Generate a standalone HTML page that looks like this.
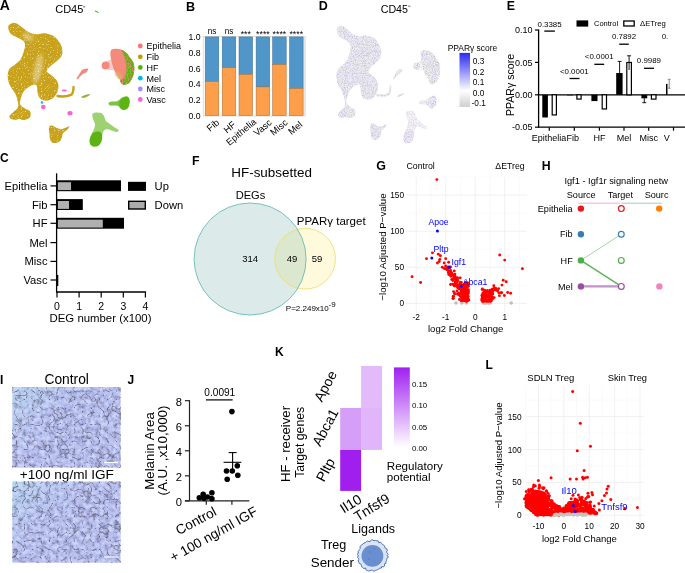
<!DOCTYPE html>
<html><head><meta charset="utf-8"><style>
html,body{margin:0;padding:0;background:#fff;width:685px;height:573px;overflow:hidden}
svg{display:block;font-family:"Liberation Sans", sans-serif;will-change:transform}
</style></head><body>
<svg width="685" height="573" viewBox="0 0 685 573">
<defs>
<filter id="micro" x="0" y="0" width="100%" height="100%" color-interpolation-filters="sRGB">
<feTurbulence type="fractalNoise" baseFrequency="0.22" numOctaves="3" seed="3" result="n1"/>
<feColorMatrix in="n1" type="matrix" values="0 0 0 0 0.80  0 0 0 0 0.84  0 0 0 0 0.98  3.2 0 0 0 -1.4" result="light"/>
<feColorMatrix in="n1" type="matrix" values="0 0 0 0 0.50  0 0 0 0 0.50  0 0 0 0 0.66  -3 0 0 0 1.3" result="darkp"/>
<feTurbulence type="turbulence" baseFrequency="0.12" numOctaves="2" seed="7" result="t"/>
<feColorMatrix in="t" type="matrix" values="0 0 0 0 0.37  0 0 0 0 0.35  0 0 0 0 0.44  -5.5 0 0 0 0.82" result="lines"/>
<feGaussianBlur in="lines" stdDeviation="0.4" result="linesb"/>
<feMerge><feMergeNode in="SourceGraphic"/><feMergeNode in="light"/><feMergeNode in="darkp"/><feMergeNode in="linesb"/></feMerge>
</filter>
<filter id="speck" x="0" y="0" width="100%" height="100%" color-interpolation-filters="sRGB">
<feTurbulence type="fractalNoise" baseFrequency="0.7" numOctaves="2" seed="2" result="n"/>
<feColorMatrix in="n" type="matrix" values="0 0 0 0 1  0 0 0 0 0.97  0 0 0 0 0.85  3 0 0 0 -1.75" result="w"/>
<feComposite in="w" in2="SourceAlpha" operator="in" result="wc"/>
<feMerge><feMergeNode in="SourceGraphic"/><feMergeNode in="wc"/></feMerge>
</filter>
<filter id="soft" x="-50%" y="-50%" width="200%" height="200%"><feGaussianBlur stdDeviation="1.6"/></filter>
<filter id="mix" x="0" y="0" width="100%" height="100%" color-interpolation-filters="sRGB">
<feTurbulence type="fractalNoise" baseFrequency="0.8" numOctaves="2" seed="9" result="n"/>
<feColorMatrix in="n" type="matrix" values="0 0 0 0 0.96  0 0 0 0 0.54  0 0 0 0 0.49  4 0 0 0 -1.9" result="w"/>
<feComposite in="w" in2="SourceAlpha" operator="in" result="wc"/>
<feMerge><feMergeNode in="SourceGraphic"/><feMergeNode in="wc"/></feMerge>
</filter>
<filter id="dspk" x="0" y="0" width="100%" height="100%" color-interpolation-filters="sRGB">
<feTurbulence type="fractalNoise" baseFrequency="0.9" numOctaves="2" seed="4" result="n"/>
<feColorMatrix in="n" type="matrix" values="0 0 0 0 0.80  0 0 0 0 0.80  0 0 0 0 0.82  3 0 0 0 -1.3" result="g"/>
<feColorMatrix in="n" type="matrix" values="0 0 0 0 0.74  0 0 0 0 0.66  0 0 0 0 0.98  0 2.6 0 0 -1.45" result="p"/>
<feComposite in="g" in2="SourceAlpha" operator="in" result="gc"/>
<feComposite in="p" in2="SourceGraphic" operator="in" result="pc"/>
<feMerge><feMergeNode in="SourceGraphic"/><feMergeNode in="gc"/><feMergeNode in="pc"/></feMerge>
</filter>
<linearGradient id="tl" x1="0" y1="0" x2="1" y2="0.75"><stop offset="0" stop-color="#AED4EC"/><stop offset="0.33" stop-color="#B2BEEC"/><stop offset="0.5" stop-color="#B1B8EA"/></linearGradient>
</defs>
<text x="-0.30" y="10.00" font-size="14" text-anchor="start" font-weight="bold" fill="#000" >A</text>
<text x="55.20" y="13.40" font-size="11" text-anchor="start" font-weight="normal" fill="#000" >CD45</text>
<line x1="83.00" y1="6.90" x2="85.20" y2="6.90" stroke="#000" stroke-width="0.6" />
<g filter="url(#speck)">
<path d="M8.6,25.5 C9.5,24.1 12.3,22.5 14.4,22.7 C16.5,22.9 18.7,24.9 21.1,26.5 C23.5,28.1 26.2,31.0 28.8,32.3 C31.4,33.6 33.9,34.1 36.4,34.2 C38.9,34.4 41.2,32.9 44.1,33.2 C47.0,33.5 51.0,34.3 53.7,36.1 C56.4,37.9 59.0,41.4 60.4,43.8 C61.8,46.2 62.1,48.4 62.3,50.5 C62.5,52.6 62.5,54.3 61.4,56.2 C60.3,58.1 57.6,60.2 55.6,62.0 C53.6,63.8 51.0,65.4 49.5,67.0 C48.0,68.6 46.4,70.1 46.8,71.5 C47.2,72.9 50.2,74.0 51.8,75.4 C53.4,76.9 55.5,78.4 56.6,80.2 C57.7,82.0 58.4,84.1 58.5,86.0 C58.6,87.9 58.3,89.8 57.5,91.7 C56.7,93.6 55.1,96.1 53.7,97.5 C52.3,98.9 50.6,99.8 48.9,100.3 C47.1,100.8 44.8,100.8 43.2,100.3 C41.6,99.8 40.3,98.9 39.3,97.5 C38.3,96.1 37.8,93.5 37.4,91.7 C37.0,89.9 37.5,87.7 37.0,86.5 C36.5,85.3 35.9,84.4 34.5,84.5 C33.1,84.6 30.6,85.7 28.8,86.9 C27.0,88.1 24.9,89.6 23.5,91.7 C22.1,93.8 21.1,97.3 20.5,99.4 C19.9,101.5 19.5,103.0 20.2,104.5 C20.9,106.0 23.3,107.4 24.9,108.5 C26.5,109.6 28.7,109.9 29.7,110.9 C30.7,111.9 30.8,113.4 30.7,114.7 C30.6,116.0 30.1,117.7 28.8,118.6 C27.5,119.5 24.6,120.1 23.0,120.1 C21.4,120.1 20.5,118.8 19.2,118.8 C17.9,118.8 16.8,120.1 15.3,120.1 C13.9,120.1 11.4,119.3 10.5,118.6 C9.6,117.9 9.1,116.8 9.6,115.7 C10.1,114.6 12.1,113.1 13.4,111.9 C14.7,110.7 16.5,109.7 17.3,108.5 C18.1,107.3 18.2,106.0 18.2,104.5 C18.2,103.0 17.8,101.2 17.3,99.4 C16.8,97.6 16.3,95.5 15.3,93.6 C14.3,91.7 12.6,89.8 11.5,87.9 C10.4,86.0 9.2,84.3 8.6,82.1 C8.0,79.9 7.5,76.7 7.7,74.5 C7.9,72.3 8.5,70.3 9.6,68.7 C10.7,67.1 12.8,66.2 14.4,64.9 C16.0,63.6 17.9,62.5 19.2,61.0 C20.5,59.5 21.3,58.0 22.1,56.2 C22.9,54.5 23.5,52.3 24.0,50.5 C24.5,48.7 25.1,47.1 25.0,45.5 C24.9,43.9 24.8,42.4 23.5,41.0 C22.2,39.6 19.1,38.4 17.3,37.4 C15.5,36.4 13.8,36.3 12.5,35.3 C11.2,34.3 9.8,32.9 9.2,31.3 C8.5,29.7 7.7,26.9 8.6,25.5 Z" fill="#C9A21C" stroke="none" stroke-width="0" />
<path d="M49.0,127.0 C49.4,125.6 51.0,125.5 52.0,125.5 C53.0,125.5 54.0,126.5 55.0,127.0 C56.0,127.5 56.8,128.2 58.0,128.5 C59.2,128.8 60.7,129.2 62.0,129.0 C63.3,128.8 64.8,128.0 66.0,127.5 C67.2,127.0 69.3,125.9 69.5,126.3 C69.7,126.7 68.1,128.9 67.0,130.0 C65.9,131.1 63.8,131.8 63.0,133.0 C62.2,134.2 62.5,135.7 62.0,137.0 C61.5,138.3 61.0,140.0 60.0,141.0 C59.0,142.0 57.3,142.8 56.0,143.0 C54.7,143.2 53.0,143.2 52.0,142.5 C51.0,141.8 50.4,140.4 50.0,139.0 C49.6,137.6 49.7,136.0 49.5,134.0 C49.3,132.0 48.6,128.4 49.0,127.0 Z" fill="#C9A21C" stroke="none" stroke-width="0" />
</g>
<path d="M57.5,96 C62,96.8 68,96.3 71.5,94.6 C73.3,92.6 73.5,89.5 73.5,87" fill="none" stroke="#C9A21C" stroke-width="2.4" stroke-linecap="round"/>
<path d="M111.1,50.0 C112.0,48.8 114.3,48.9 116.0,48.8 C117.7,48.7 119.5,49.0 121.2,49.6 C122.9,50.2 124.5,51.2 126.0,52.5 C127.5,53.8 128.7,55.8 129.9,57.5 C131.2,59.2 132.8,61.2 133.5,63.0 C134.2,64.8 134.3,66.0 134.3,68.0 C134.3,70.0 134.1,72.6 133.4,74.9 C132.7,77.2 131.3,80.2 129.9,81.9 C128.5,83.6 126.2,84.6 124.7,84.8 C123.2,85.0 122.1,84.0 121.2,83.0 C120.3,82.0 120.3,80.4 119.5,79.0 C118.7,77.6 117.5,76.1 116.5,74.5 C115.5,72.9 114.5,71.4 113.8,69.5 C113.0,67.6 112.5,65.2 112.0,63.0 C111.5,60.8 110.7,58.2 110.5,56.0 C110.3,53.8 110.2,51.2 111.1,50.0 Z" fill="#F48A7C" stroke="none" stroke-width="0" />
<circle cx="105.60" cy="65.60" r="4.00" fill="#F48A7C" stroke="none" stroke-width="0" />
<path d="M106,61.5 L112,59 L114,70 L108,70 Z" fill="#F48A7C" opacity="0.45"/>
<path d="M121.5,50.0 C121.8,49.5 124.6,51.2 126.0,52.5 C127.4,53.8 128.7,55.8 129.9,57.5 C131.2,59.2 132.8,61.2 133.5,63.0 C134.2,64.8 134.3,66.0 134.3,68.0 C134.3,70.0 134.1,72.6 133.4,74.9 C132.7,77.2 131.3,80.2 129.9,81.9 C128.5,83.6 126.2,84.6 124.7,84.8 C123.2,85.0 122.0,83.7 121.2,83.0 C120.5,82.3 119.9,81.2 120.2,80.5 C120.5,79.8 122.1,80.0 123.0,79.0 C123.9,78.0 125.0,76.2 125.5,74.5 C126.0,72.8 126.3,70.6 126.3,68.5 C126.3,66.4 126.0,64.2 125.6,62.0 C125.2,59.8 124.7,57.5 124.0,55.5 C123.3,53.5 121.2,50.5 121.5,50.0 Z" fill="#5CB412" stroke="none" stroke-width="0" filter="url(#mix)"/>
<ellipse cx="118.5" cy="75.5" rx="2.8" ry="4.5" transform="rotate(-40 118.5 75.5)" fill="#D8B860" opacity="0.55"/>
<path d="M124,56 C127,62 127,72 124,79" fill="none" stroke="#E39070" stroke-width="2.5" opacity="0.35"/>
<path d="M92.5,114.0 C93.0,112.9 94.6,112.7 96.0,112.5 C97.4,112.3 99.7,112.4 101.0,113.0 C102.3,113.6 103.2,114.7 104.0,116.0 C104.8,117.3 105.0,119.7 106.0,121.0 C107.0,122.3 108.7,123.0 110.0,124.0 C111.3,125.0 112.6,126.0 114.0,127.0 C115.4,128.0 118.0,129.2 118.5,130.0 C119.0,130.8 117.9,131.8 117.0,132.0 C116.1,132.2 114.3,131.4 113.0,131.0 C111.7,130.6 110.2,129.8 109.0,129.5 C107.8,129.2 106.5,129.1 105.5,129.5 C104.5,129.9 103.6,130.8 103.0,132.0 C102.4,133.2 102.3,135.3 102.0,137.0 C101.7,138.7 101.7,140.5 101.0,142.0 C100.3,143.5 99.3,145.2 98.0,146.0 C96.7,146.8 94.3,146.8 93.0,146.5 C91.7,146.2 90.5,145.2 90.0,144.0 C89.5,142.8 89.5,140.7 89.8,139.0 C90.0,137.3 90.8,135.7 91.5,134.0 C92.2,132.3 93.4,130.7 94.0,129.0 C94.6,127.3 95.2,125.7 95.0,124.0 C94.8,122.3 93.4,120.7 93.0,119.0 C92.6,117.3 92.0,115.1 92.5,114.0 Z" fill="#5CB412" stroke="none" stroke-width="0" opacity="0.6"/>
<path d="M90.5,137.0 C91.1,135.8 91.9,133.9 93.0,133.0 C94.1,132.1 95.7,131.6 97.0,131.5 C98.3,131.4 100.1,131.8 101.0,132.5 C101.9,133.2 102.1,134.6 102.2,136.0 C102.3,137.4 102.1,139.4 101.5,141.0 C100.9,142.6 99.8,144.6 98.5,145.5 C97.2,146.4 95.3,146.7 94.0,146.5 C92.7,146.3 91.2,145.5 90.5,144.5 C89.8,143.5 89.6,141.8 89.6,140.5 C89.6,139.2 89.9,138.2 90.5,137.0 Z" fill="#5CB412" stroke="none" stroke-width="0" />
<path d="M108.5,103.0 C108.8,102.3 110.8,101.8 112.0,101.5 C113.2,101.2 114.8,101.8 116.0,101.5 C117.2,101.2 118.0,100.7 119.0,100.0 C120.0,99.3 120.8,98.1 122.0,97.5 C123.2,96.9 124.8,96.4 126.0,96.5 C127.2,96.6 128.4,96.9 129.0,98.0 C129.6,99.1 129.7,101.3 129.5,103.0 C129.3,104.7 128.9,106.8 128.0,108.0 C127.1,109.2 125.2,109.8 124.0,110.0 C122.8,110.2 122.0,109.7 121.0,109.0 C120.0,108.3 119.2,106.6 118.0,106.0 C116.8,105.4 115.3,105.6 114.0,105.5 C112.7,105.4 110.9,105.9 110.0,105.5 C109.1,105.1 108.2,103.7 108.5,103.0 Z" fill="#5CB412" stroke="none" stroke-width="0" opacity="0.8"/>
<path d="M120.0,101.0 C120.6,99.8 121.9,98.8 123.0,98.0 C124.1,97.2 125.5,96.4 126.5,96.5 C127.5,96.6 128.5,97.4 129.0,98.5 C129.5,99.6 129.7,101.5 129.5,103.0 C129.3,104.5 128.8,106.4 128.0,107.5 C127.2,108.6 125.7,109.6 124.5,109.8 C123.3,110.0 121.8,109.3 121.0,108.5 C120.2,107.7 119.7,106.2 119.5,105.0 C119.3,103.8 119.4,102.2 120.0,101.0 Z" fill="#5CB412" stroke="none" stroke-width="0" />
<path d="M76.5,79.0 C76.5,78.5 77.4,77.0 78.0,76.0 C78.6,75.0 79.4,73.9 80.0,73.0 C80.6,72.1 80.8,71.2 81.5,70.5 C82.2,69.8 83.0,69.3 84.0,69.0 C85.0,68.7 86.8,68.3 87.5,68.5 C88.2,68.7 88.2,69.3 88.0,70.0 C87.8,70.7 86.8,71.8 86.0,72.5 C85.2,73.2 84.0,73.3 83.0,74.0 C82.0,74.7 80.8,75.7 80.0,76.5 C79.2,77.3 78.6,78.6 78.0,79.0 C77.4,79.4 76.5,79.5 76.5,79.0 Z" fill="#F48A7C" stroke="none" stroke-width="0" />
<g filter="url(#soft)"><ellipse cx="38" cy="69" rx="4" ry="15" transform="rotate(12 38 69)" fill="#fff" opacity="0.35"/>
<ellipse cx="28" cy="37" rx="6" ry="3" transform="rotate(30 28 37)" fill="#fff" opacity="0.35"/></g>
<circle cx="43.30" cy="107.00" r="2.30" fill="#F564D8" stroke="none" stroke-width="0" />
<circle cx="42.00" cy="102.50" r="1.30" fill="#1BB5E8" stroke="none" stroke-width="0" />
<ellipse cx="70" cy="113.2" rx="2.6" ry="2.3" fill="#F564D8"/>
<ellipse cx="64.3" cy="90.6" rx="2.6" ry="1.0" fill="#F564D8"/>
<path d="M81,97 C84,95 88,94 90.5,94 C89,96 86,97.5 83,98 Z" fill="#8FAE3A" stroke="none" stroke-width="0" />
<path d="M95,11 L98.5,12.5" fill="none" stroke="#5BB511" stroke-width="1.2" />
<circle cx="140.30" cy="46.00" r="2.40" fill="#F8766D" stroke="none" stroke-width="0" />
<text x="146.40" y="49.30" font-size="9" text-anchor="start" font-weight="normal" fill="#000" >Epithelia</text>
<circle cx="140.30" cy="56.80" r="2.40" fill="#C49A00" stroke="none" stroke-width="0" />
<text x="146.40" y="60.10" font-size="9" text-anchor="start" font-weight="normal" fill="#000" >Fib</text>
<circle cx="140.30" cy="67.40" r="2.40" fill="#53B400" stroke="none" stroke-width="0" />
<text x="146.40" y="70.70" font-size="9" text-anchor="start" font-weight="normal" fill="#000" >HF</text>
<circle cx="140.30" cy="78.20" r="2.40" fill="#00B6EB" stroke="none" stroke-width="0" />
<text x="146.40" y="81.50" font-size="9" text-anchor="start" font-weight="normal" fill="#000" >Mel</text>
<circle cx="140.30" cy="89.00" r="2.40" fill="#A58AFF" stroke="none" stroke-width="0" />
<text x="146.40" y="92.30" font-size="9" text-anchor="start" font-weight="normal" fill="#000" >Misc</text>
<circle cx="140.30" cy="99.50" r="2.40" fill="#FB61D7" stroke="none" stroke-width="0" />
<text x="146.40" y="102.80" font-size="9" text-anchor="start" font-weight="normal" fill="#000" >Vasc</text>
<text x="186.00" y="10.50" font-size="12.6" text-anchor="start" font-weight="bold" fill="#000" >B</text>
<text x="200.50" y="118.80" font-size="8.7" text-anchor="end" font-weight="normal" fill="#000" >0.0</text>
<text x="200.50" y="103.04" font-size="8.7" text-anchor="end" font-weight="normal" fill="#000" >0.2</text>
<text x="200.50" y="87.28" font-size="8.7" text-anchor="end" font-weight="normal" fill="#000" >0.4</text>
<text x="200.50" y="71.52" font-size="8.7" text-anchor="end" font-weight="normal" fill="#000" >0.6</text>
<text x="200.50" y="55.76" font-size="8.7" text-anchor="end" font-weight="normal" fill="#000" >0.8</text>
<text x="200.50" y="40.00" font-size="8.7" text-anchor="end" font-weight="normal" fill="#000" >1.0</text>
<rect x="203.20" y="36.50" width="102.00" height="79.50" fill="none" stroke="#CFCFCF" stroke-width="0.7" />
<rect x="303.30" y="36.50" width="2.00" height="79.50" fill="#E6E6E6" stroke="none" stroke-width="0" />
<rect x="205.20" y="36.90" width="13.60" height="44.50" fill="#5096C8" stroke="#3A6E95" stroke-width="0.5" />
<rect x="205.20" y="81.40" width="13.60" height="34.30" fill="#FD9F4A" stroke="#A86A30" stroke-width="0.5" />
<rect x="222.20" y="36.90" width="13.60" height="30.75" fill="#5096C8" stroke="#3A6E95" stroke-width="0.5" />
<rect x="222.20" y="67.65" width="13.60" height="48.05" fill="#FD9F4A" stroke="#A86A30" stroke-width="0.5" />
<rect x="239.00" y="36.90" width="13.60" height="37.50" fill="#5096C8" stroke="#3A6E95" stroke-width="0.5" />
<rect x="239.00" y="74.40" width="13.60" height="41.30" fill="#FD9F4A" stroke="#A86A30" stroke-width="0.5" />
<rect x="256.10" y="36.90" width="13.60" height="50.00" fill="#5096C8" stroke="#3A6E95" stroke-width="0.5" />
<rect x="256.10" y="86.90" width="13.60" height="28.80" fill="#FD9F4A" stroke="#A86A30" stroke-width="0.5" />
<rect x="272.60" y="36.90" width="13.60" height="27.60" fill="#5096C8" stroke="#3A6E95" stroke-width="0.5" />
<rect x="272.60" y="64.50" width="13.60" height="51.20" fill="#FD9F4A" stroke="#A86A30" stroke-width="0.5" />
<rect x="289.50" y="36.90" width="13.60" height="51.50" fill="#5096C8" stroke="#3A6E95" stroke-width="0.5" />
<rect x="289.50" y="88.40" width="13.60" height="27.30" fill="#FD9F4A" stroke="#A86A30" stroke-width="0.5" />
<text x="212.00" y="33.70" font-size="8.2" text-anchor="middle" font-weight="normal" fill="#000" >ns</text>
<text x="229.00" y="33.70" font-size="8.2" text-anchor="middle" font-weight="normal" fill="#000" >ns</text>
<text x="245.80" y="36.60" font-size="8.8" text-anchor="middle" font-weight="normal" fill="#000" >***</text>
<text x="262.90" y="36.60" font-size="8.8" text-anchor="middle" font-weight="normal" fill="#000" >****</text>
<text x="279.40" y="36.60" font-size="8.8" text-anchor="middle" font-weight="normal" fill="#000" >****</text>
<text x="296.30" y="36.60" font-size="8.8" text-anchor="middle" font-weight="normal" fill="#000" >****</text>
<text x="220.00" y="123.60" font-size="9.4" text-anchor="end" font-weight="normal" fill="#000" transform="rotate(-40 220.00 123.60)">Fib</text>
<text x="236.50" y="125.60" font-size="9.4" text-anchor="end" font-weight="normal" fill="#000" transform="rotate(-40 236.50 125.60)">HF</text>
<text x="257.00" y="122.80" font-size="9.4" text-anchor="end" font-weight="normal" fill="#000" transform="rotate(-40 257.00 122.80)">Epithelia</text>
<text x="272.40" y="123.60" font-size="9.4" text-anchor="end" font-weight="normal" fill="#000" transform="rotate(-40 272.40 123.60)">Vasc</text>
<text x="288.40" y="123.60" font-size="9.4" text-anchor="end" font-weight="normal" fill="#000" transform="rotate(-40 288.40 123.60)">Misc</text>
<text x="303.10" y="125.60" font-size="9.4" text-anchor="end" font-weight="normal" fill="#000" transform="rotate(-40 303.10 125.60)">Mel</text>
<text x="0.00" y="162.00" font-size="12" text-anchor="start" font-weight="bold" fill="#000" >C</text>
<line x1="56.60" y1="173.30" x2="56.60" y2="292.60" stroke="#000" stroke-width="1.3" />
<line x1="56.40" y1="292.00" x2="146.10" y2="292.00" stroke="#000" stroke-width="1.3" />
<line x1="57.00" y1="292.00" x2="57.00" y2="297.50" stroke="#000" stroke-width="1.2" />
<text x="57.00" y="310.00" font-size="10.5" text-anchor="middle" font-weight="normal" fill="#000" >0</text>
<line x1="79.10" y1="292.00" x2="79.10" y2="297.50" stroke="#000" stroke-width="1.2" />
<text x="79.10" y="310.00" font-size="10.5" text-anchor="middle" font-weight="normal" fill="#000" >1</text>
<line x1="101.20" y1="292.00" x2="101.20" y2="297.50" stroke="#000" stroke-width="1.2" />
<text x="101.20" y="310.00" font-size="10.5" text-anchor="middle" font-weight="normal" fill="#000" >2</text>
<line x1="123.30" y1="292.00" x2="123.30" y2="297.50" stroke="#000" stroke-width="1.2" />
<text x="123.30" y="310.00" font-size="10.5" text-anchor="middle" font-weight="normal" fill="#000" >3</text>
<line x1="145.40" y1="292.00" x2="145.40" y2="297.50" stroke="#000" stroke-width="1.2" />
<text x="145.40" y="310.00" font-size="10.5" text-anchor="middle" font-weight="normal" fill="#000" >4</text>
<text x="100.50" y="322.00" font-size="11.4" text-anchor="middle" font-weight="normal" fill="#000" >DEG number (x100)</text>
<line x1="50.50" y1="185.90" x2="57.00" y2="185.90" stroke="#000" stroke-width="1.2" />
<text x="47.50" y="189.90" font-size="11.2" text-anchor="end" font-weight="normal" fill="#000" >Epithelia</text>
<line x1="50.50" y1="204.70" x2="57.00" y2="204.70" stroke="#000" stroke-width="1.2" />
<text x="47.50" y="208.70" font-size="11.2" text-anchor="end" font-weight="normal" fill="#000" >Fib</text>
<line x1="50.50" y1="223.30" x2="57.00" y2="223.30" stroke="#000" stroke-width="1.2" />
<text x="47.50" y="227.30" font-size="11.2" text-anchor="end" font-weight="normal" fill="#000" >HF</text>
<line x1="50.50" y1="242.60" x2="57.00" y2="242.60" stroke="#000" stroke-width="1.2" />
<text x="47.50" y="246.60" font-size="11.2" text-anchor="end" font-weight="normal" fill="#000" >Mel</text>
<line x1="50.50" y1="261.40" x2="57.00" y2="261.40" stroke="#000" stroke-width="1.2" />
<text x="47.50" y="265.40" font-size="11.2" text-anchor="end" font-weight="normal" fill="#000" >Misc</text>
<line x1="50.50" y1="280.00" x2="57.00" y2="280.00" stroke="#000" stroke-width="1.2" />
<text x="47.50" y="284.00" font-size="11.2" text-anchor="end" font-weight="normal" fill="#000" >Vasc</text>
<rect x="57.00" y="180.30" width="64.00" height="10.90" fill="#000" stroke="none" stroke-width="0" />
<rect x="57.90" y="182.20" width="13.10" height="7.90" fill="#B0B0B0" stroke="none" stroke-width="0" />
<rect x="57.00" y="199.10" width="25.80" height="10.90" fill="#000" stroke="none" stroke-width="0" />
<rect x="57.90" y="201.00" width="11.10" height="7.90" fill="#B0B0B0" stroke="none" stroke-width="0" />
<rect x="57.00" y="217.80" width="67.00" height="10.90" fill="#000" stroke="none" stroke-width="0" />
<rect x="57.90" y="219.70" width="44.90" height="7.90" fill="#B0B0B0" stroke="none" stroke-width="0" />
<rect x="57.00" y="275.00" width="1.30" height="11.00" fill="#000" stroke="none" stroke-width="0" />
<rect x="128.00" y="181.80" width="18.00" height="9.10" fill="#000" stroke="none" stroke-width="0" />
<rect x="128.70" y="201.30" width="16.60" height="7.70" fill="#ABABAB" stroke="#000" stroke-width="1.4" />
<text x="154.60" y="190.40" font-size="11.2" text-anchor="start" font-weight="normal" fill="#000" >Up</text>
<text x="154.60" y="209.30" font-size="11.2" text-anchor="start" font-weight="normal" fill="#000" >Down</text>
<text x="318.80" y="10.40" font-size="12.5" text-anchor="start" font-weight="bold" fill="#000" >D</text>
<text x="380.70" y="12.90" font-size="10.7" text-anchor="start" font-weight="normal" fill="#000" >CD45</text>
<line x1="408.20" y1="6.20" x2="410.40" y2="6.20" stroke="#000" stroke-width="0.6" />
<g filter="url(#dspk)"><g transform="translate(330.1,4) scale(0.82,0.95)">
<path d="M8.6,25.5 C9.5,24.1 12.3,22.5 14.4,22.7 C16.5,22.9 18.7,24.9 21.1,26.5 C23.5,28.1 26.2,31.0 28.8,32.3 C31.4,33.6 33.9,34.1 36.4,34.2 C38.9,34.4 41.2,32.9 44.1,33.2 C47.0,33.5 51.0,34.3 53.7,36.1 C56.4,37.9 59.0,41.4 60.4,43.8 C61.8,46.2 62.1,48.4 62.3,50.5 C62.5,52.6 62.5,54.3 61.4,56.2 C60.3,58.1 57.6,60.2 55.6,62.0 C53.6,63.8 51.0,65.4 49.5,67.0 C48.0,68.6 46.4,70.1 46.8,71.5 C47.2,72.9 50.2,74.0 51.8,75.4 C53.4,76.9 55.5,78.4 56.6,80.2 C57.7,82.0 58.4,84.1 58.5,86.0 C58.6,87.9 58.3,89.8 57.5,91.7 C56.7,93.6 55.1,96.1 53.7,97.5 C52.3,98.9 50.6,99.8 48.9,100.3 C47.1,100.8 44.8,100.8 43.2,100.3 C41.6,99.8 40.3,98.9 39.3,97.5 C38.3,96.1 37.8,93.5 37.4,91.7 C37.0,89.9 37.5,87.7 37.0,86.5 C36.5,85.3 35.9,84.4 34.5,84.5 C33.1,84.6 30.6,85.7 28.8,86.9 C27.0,88.1 24.9,89.6 23.5,91.7 C22.1,93.8 21.1,97.3 20.5,99.4 C19.9,101.5 19.5,103.0 20.2,104.5 C20.9,106.0 23.3,107.4 24.9,108.5 C26.5,109.6 28.7,109.9 29.7,110.9 C30.7,111.9 30.8,113.4 30.7,114.7 C30.6,116.0 30.1,117.7 28.8,118.6 C27.5,119.5 24.6,120.1 23.0,120.1 C21.4,120.1 20.5,118.8 19.2,118.8 C17.9,118.8 16.8,120.1 15.3,120.1 C13.9,120.1 11.4,119.3 10.5,118.6 C9.6,117.9 9.1,116.8 9.6,115.7 C10.1,114.6 12.1,113.1 13.4,111.9 C14.7,110.7 16.5,109.7 17.3,108.5 C18.1,107.3 18.2,106.0 18.2,104.5 C18.2,103.0 17.8,101.2 17.3,99.4 C16.8,97.6 16.3,95.5 15.3,93.6 C14.3,91.7 12.6,89.8 11.5,87.9 C10.4,86.0 9.2,84.3 8.6,82.1 C8.0,79.9 7.5,76.7 7.7,74.5 C7.9,72.3 8.5,70.3 9.6,68.7 C10.7,67.1 12.8,66.2 14.4,64.9 C16.0,63.6 17.9,62.5 19.2,61.0 C20.5,59.5 21.3,58.0 22.1,56.2 C22.9,54.5 23.5,52.3 24.0,50.5 C24.5,48.7 25.1,47.1 25.0,45.5 C24.9,43.9 24.8,42.4 23.5,41.0 C22.2,39.6 19.1,38.4 17.3,37.4 C15.5,36.4 13.8,36.3 12.5,35.3 C11.2,34.3 9.8,32.9 9.2,31.3 C8.5,29.7 7.7,26.9 8.6,25.5 Z" fill="#EEECF3" stroke="none" stroke-width="0" />
<path d="M49.0,127.0 C49.4,125.6 51.0,125.5 52.0,125.5 C53.0,125.5 54.0,126.5 55.0,127.0 C56.0,127.5 56.8,128.2 58.0,128.5 C59.2,128.8 60.7,129.2 62.0,129.0 C63.3,128.8 64.8,128.0 66.0,127.5 C67.2,127.0 69.3,125.9 69.5,126.3 C69.7,126.7 68.1,128.9 67.0,130.0 C65.9,131.1 63.8,131.8 63.0,133.0 C62.2,134.2 62.5,135.7 62.0,137.0 C61.5,138.3 61.0,140.0 60.0,141.0 C59.0,142.0 57.3,142.8 56.0,143.0 C54.7,143.2 53.0,143.2 52.0,142.5 C51.0,141.8 50.4,140.4 50.0,139.0 C49.6,137.6 49.7,136.0 49.5,134.0 C49.3,132.0 48.6,128.4 49.0,127.0 Z" fill="#EEECF3" stroke="none" stroke-width="0" />
<path d="M57.5,96 C62,96.8 68,96.3 71.5,94.6 C73.3,92.6 73.5,89.5 73.5,87" fill="none" stroke="#EEEEEE" stroke-width="2.4" stroke-linecap="round"/>
<path d="M111.1,50.0 C112.0,48.8 114.3,48.9 116.0,48.8 C117.7,48.7 119.5,49.0 121.2,49.6 C122.9,50.2 124.5,51.2 126.0,52.5 C127.5,53.8 128.7,55.8 129.9,57.5 C131.2,59.2 132.8,61.2 133.5,63.0 C134.2,64.8 134.3,66.0 134.3,68.0 C134.3,70.0 134.1,72.6 133.4,74.9 C132.7,77.2 131.3,80.2 129.9,81.9 C128.5,83.6 126.2,84.6 124.7,84.8 C123.2,85.0 122.1,84.0 121.2,83.0 C120.3,82.0 120.3,80.4 119.5,79.0 C118.7,77.6 117.5,76.1 116.5,74.5 C115.5,72.9 114.5,71.4 113.8,69.5 C113.0,67.6 112.5,65.2 112.0,63.0 C111.5,60.8 110.7,58.2 110.5,56.0 C110.3,53.8 110.2,51.2 111.1,50.0 Z" fill="#EEEEEE" stroke="none" stroke-width="0" />
<circle cx="105.60" cy="65.60" r="4.00" fill="#EEEEEE" stroke="none" stroke-width="0" />
<path d="M106,61.5 L112,59 L114,70 L108,70 Z" fill="#EEEEEE" opacity="0.45"/>
<path d="M92.5,114.0 C93.0,112.9 94.6,112.7 96.0,112.5 C97.4,112.3 99.7,112.4 101.0,113.0 C102.3,113.6 103.2,114.7 104.0,116.0 C104.8,117.3 105.0,119.7 106.0,121.0 C107.0,122.3 108.7,123.0 110.0,124.0 C111.3,125.0 112.6,126.0 114.0,127.0 C115.4,128.0 118.0,129.2 118.5,130.0 C119.0,130.8 117.9,131.8 117.0,132.0 C116.1,132.2 114.3,131.4 113.0,131.0 C111.7,130.6 110.2,129.8 109.0,129.5 C107.8,129.2 106.5,129.1 105.5,129.5 C104.5,129.9 103.6,130.8 103.0,132.0 C102.4,133.2 102.3,135.3 102.0,137.0 C101.7,138.7 101.7,140.5 101.0,142.0 C100.3,143.5 99.3,145.2 98.0,146.0 C96.7,146.8 94.3,146.8 93.0,146.5 C91.7,146.2 90.5,145.2 90.0,144.0 C89.5,142.8 89.5,140.7 89.8,139.0 C90.0,137.3 90.8,135.7 91.5,134.0 C92.2,132.3 93.4,130.7 94.0,129.0 C94.6,127.3 95.2,125.7 95.0,124.0 C94.8,122.3 93.4,120.7 93.0,119.0 C92.6,117.3 92.0,115.1 92.5,114.0 Z" fill="#EEEBF4" stroke="none" stroke-width="0" opacity="0.6"/>
<path d="M90.5,137.0 C91.1,135.8 91.9,133.9 93.0,133.0 C94.1,132.1 95.7,131.6 97.0,131.5 C98.3,131.4 100.1,131.8 101.0,132.5 C101.9,133.2 102.1,134.6 102.2,136.0 C102.3,137.4 102.1,139.4 101.5,141.0 C100.9,142.6 99.8,144.6 98.5,145.5 C97.2,146.4 95.3,146.7 94.0,146.5 C92.7,146.3 91.2,145.5 90.5,144.5 C89.8,143.5 89.6,141.8 89.6,140.5 C89.6,139.2 89.9,138.2 90.5,137.0 Z" fill="#EEEBF4" stroke="none" stroke-width="0" />
<path d="M108.5,103.0 C108.8,102.3 110.8,101.8 112.0,101.5 C113.2,101.2 114.8,101.8 116.0,101.5 C117.2,101.2 118.0,100.7 119.0,100.0 C120.0,99.3 120.8,98.1 122.0,97.5 C123.2,96.9 124.8,96.4 126.0,96.5 C127.2,96.6 128.4,96.9 129.0,98.0 C129.6,99.1 129.7,101.3 129.5,103.0 C129.3,104.7 128.9,106.8 128.0,108.0 C127.1,109.2 125.2,109.8 124.0,110.0 C122.8,110.2 122.0,109.7 121.0,109.0 C120.0,108.3 119.2,106.6 118.0,106.0 C116.8,105.4 115.3,105.6 114.0,105.5 C112.7,105.4 110.9,105.9 110.0,105.5 C109.1,105.1 108.2,103.7 108.5,103.0 Z" fill="#EDEDED" stroke="none" stroke-width="0" opacity="0.8"/>
<path d="M120.0,101.0 C120.6,99.8 121.9,98.8 123.0,98.0 C124.1,97.2 125.5,96.4 126.5,96.5 C127.5,96.6 128.5,97.4 129.0,98.5 C129.5,99.6 129.7,101.5 129.5,103.0 C129.3,104.5 128.8,106.4 128.0,107.5 C127.2,108.6 125.7,109.6 124.5,109.8 C123.3,110.0 121.8,109.3 121.0,108.5 C120.2,107.7 119.7,106.2 119.5,105.0 C119.3,103.8 119.4,102.2 120.0,101.0 Z" fill="#EEEBF4" stroke="none" stroke-width="0" />
<path d="M76.5,79.0 C76.5,78.5 77.4,77.0 78.0,76.0 C78.6,75.0 79.4,73.9 80.0,73.0 C80.6,72.1 80.8,71.2 81.5,70.5 C82.2,69.8 83.0,69.3 84.0,69.0 C85.0,68.7 86.8,68.3 87.5,68.5 C88.2,68.7 88.2,69.3 88.0,70.0 C87.8,70.7 86.8,71.8 86.0,72.5 C85.2,73.2 84.0,73.3 83.0,74.0 C82.0,74.7 80.8,75.7 80.0,76.5 C79.2,77.3 78.6,78.6 78.0,79.0 C77.4,79.4 76.5,79.5 76.5,79.0 Z" fill="#EEEEEE" stroke="none" stroke-width="0" />
<path d="M81,97 C84,95 88,94 90.5,94 C89,96 86,97.5 83,98 Z" fill="#EEEEEE" stroke="none" stroke-width="0" />
</g></g>
<defs><linearGradient id="pg" x1="0" y1="0" x2="0" y2="1"><stop offset="0" stop-color="#2A2AF5"/><stop offset="0.7" stop-color="#FFFFFF"/><stop offset="1" stop-color="#CFCFCF"/></linearGradient></defs>
<text x="447.70" y="50.60" font-size="8.45" text-anchor="start" font-weight="normal" fill="#000" >PPARγ score</text>
<rect x="459.50" y="52.90" width="10.50" height="54.00" fill="url(#pg)" stroke="none" stroke-width="0" />
<text x="472.80" y="64.40" font-size="8.3" text-anchor="start" font-weight="normal" fill="#000" >0.3</text>
<text x="472.80" y="74.90" font-size="8.3" text-anchor="start" font-weight="normal" fill="#000" >0.2</text>
<text x="472.80" y="85.30" font-size="8.3" text-anchor="start" font-weight="normal" fill="#000" >0.1</text>
<text x="472.80" y="95.80" font-size="8.3" text-anchor="start" font-weight="normal" fill="#000" >0.0</text>
<text x="471.60" y="106.30" font-size="8.3" text-anchor="start" font-weight="normal" fill="#000" >-0.1</text>
<text x="506.70" y="10.20" font-size="12.3" text-anchor="start" font-weight="bold" fill="#000" >E</text>
<line x1="538.60" y1="29.50" x2="538.60" y2="127.80" stroke="#000" stroke-width="1.3" />
<line x1="535.00" y1="30.00" x2="538.60" y2="30.00" stroke="#000" stroke-width="1.2" />
<text x="532.50" y="33.10" font-size="9" text-anchor="end" font-weight="normal" fill="#000" >0.10</text>
<line x1="535.00" y1="62.40" x2="538.60" y2="62.40" stroke="#000" stroke-width="1.2" />
<text x="532.50" y="65.50" font-size="9" text-anchor="end" font-weight="normal" fill="#000" >0.05</text>
<line x1="535.00" y1="94.80" x2="538.60" y2="94.80" stroke="#000" stroke-width="1.2" />
<text x="532.50" y="97.90" font-size="9" text-anchor="end" font-weight="normal" fill="#000" >0.00</text>
<line x1="535.00" y1="127.20" x2="538.60" y2="127.20" stroke="#000" stroke-width="1.2" />
<text x="532.50" y="130.30" font-size="9" text-anchor="end" font-weight="normal" fill="#000" >-0.05</text>
<line x1="538.60" y1="94.80" x2="685.00" y2="94.80" stroke="#000" stroke-width="1.3" />
<line x1="538.60" y1="127.20" x2="685.00" y2="127.20" stroke="#000" stroke-width="1.3" />
<line x1="549.30" y1="127.20" x2="549.30" y2="130.70" stroke="#000" stroke-width="1.2" />
<line x1="574.30" y1="127.20" x2="574.30" y2="130.70" stroke="#000" stroke-width="1.2" />
<line x1="599.40" y1="127.20" x2="599.40" y2="130.70" stroke="#000" stroke-width="1.2" />
<line x1="624.00" y1="127.20" x2="624.00" y2="130.70" stroke="#000" stroke-width="1.2" />
<line x1="648.70" y1="127.20" x2="648.70" y2="130.70" stroke="#000" stroke-width="1.2" />
<line x1="673.50" y1="127.20" x2="673.50" y2="130.70" stroke="#000" stroke-width="1.2" />
<text x="531.80" y="140.60" font-size="9.0" text-anchor="start" font-weight="normal" fill="#000" >Epithelia</text>
<text x="566.40" y="140.60" font-size="9.0" text-anchor="start" font-weight="normal" fill="#000" >Fib</text>
<text x="599.40" y="140.60" font-size="9.0" text-anchor="middle" font-weight="normal" fill="#000" >HF</text>
<text x="624.00" y="140.60" font-size="9.0" text-anchor="middle" font-weight="normal" fill="#000" >Mel</text>
<text x="648.70" y="140.60" font-size="9.0" text-anchor="middle" font-weight="normal" fill="#000" >Misc</text>
<text x="666.80" y="140.60" font-size="9.0" text-anchor="middle" font-weight="normal" fill="#000" >V</text>
<text x="513.50" y="85.00" font-size="10.6" text-anchor="middle" font-weight="normal" fill="#000" transform="rotate(-90 513.5 85)">PPARγ score</text>
<rect x="542.30" y="94.80" width="5.60" height="22.68" fill="#000" stroke="none" stroke-width="0" />
<rect x="552.20" y="94.80" width="4.20" height="20.14" fill="#fff" stroke="#000" stroke-width="1.2" />
<rect x="567.00" y="94.80" width="6.00" height="0.52" fill="#000" stroke="none" stroke-width="0" />
<rect x="576.90" y="94.80" width="4.20" height="4.26" fill="#fff" stroke="#000" stroke-width="1.2" />
<rect x="591.40" y="94.80" width="6.10" height="6.29" fill="#000" stroke="none" stroke-width="0" />
<rect x="602.20" y="94.80" width="4.30" height="14.17" fill="#fff" stroke="#000" stroke-width="1.2" />
<rect x="616.20" y="73.03" width="6.40" height="21.77" fill="#000" stroke="none" stroke-width="0" />
<rect x="626.80" y="62.48" width="4.60" height="32.32" fill="#fff" stroke="#000" stroke-width="1.2" />
<rect x="641.40" y="94.80" width="5.80" height="3.56" fill="#000" stroke="none" stroke-width="0" />
<rect x="651.40" y="94.80" width="4.60" height="4.32" fill="#fff" stroke="#000" stroke-width="1.2" />
<line x1="619.60" y1="61.40" x2="619.60" y2="73.00" stroke="#000" stroke-width="0.9" />
<line x1="617.60" y1="61.40" x2="621.60" y2="61.40" stroke="#000" stroke-width="0.9" />
<line x1="629.10" y1="55.80" x2="629.10" y2="62.50" stroke="#000" stroke-width="0.9" />
<line x1="627.10" y1="55.80" x2="631.10" y2="55.80" stroke="#000" stroke-width="0.9" />
<line x1="629.10" y1="62.50" x2="629.10" y2="70.00" stroke="#000" stroke-width="0.9" />
<line x1="644.30" y1="98.40" x2="644.30" y2="102.70" stroke="#000" stroke-width="0.9" />
<line x1="642.30" y1="102.70" x2="646.30" y2="102.70" stroke="#000" stroke-width="0.9" />
<rect x="666.00" y="83.90" width="1.50" height="10.90" fill="#000" stroke="none" stroke-width="0" />
<line x1="669.20" y1="79.30" x2="669.20" y2="88.20" stroke="#888" stroke-width="1.0" />
<line x1="667.80" y1="79.30" x2="670.60" y2="79.30" stroke="#888" stroke-width="1" />
<line x1="667.80" y1="88.20" x2="670.60" y2="88.20" stroke="#888" stroke-width="1" />
<line x1="544.30" y1="31.10" x2="554.90" y2="31.10" stroke="#000" stroke-width="1.3" />
<text x="549.60" y="27.00" font-size="7.9" text-anchor="middle" font-weight="normal" fill="#000" >0.3385</text>
<line x1="569.50" y1="78.50" x2="579.50" y2="78.50" stroke="#000" stroke-width="1.3" />
<text x="574.30" y="73.50" font-size="7.9" text-anchor="middle" font-weight="normal" fill="#000" ><0.0001</text>
<line x1="594.30" y1="64.30" x2="604.20" y2="64.30" stroke="#000" stroke-width="1.3" />
<text x="599.20" y="59.00" font-size="7.9" text-anchor="middle" font-weight="normal" fill="#000" ><0.0001</text>
<line x1="619.20" y1="44.20" x2="628.80" y2="44.20" stroke="#000" stroke-width="1.3" />
<text x="624.00" y="38.90" font-size="7.9" text-anchor="middle" font-weight="normal" fill="#000" >0.7892</text>
<line x1="644.00" y1="68.30" x2="654.00" y2="68.30" stroke="#000" stroke-width="1.3" />
<text x="648.90" y="63.00" font-size="7.9" text-anchor="middle" font-weight="normal" fill="#000" >0.9989</text>
<text x="661.70" y="38.90" font-size="7.9" text-anchor="start" font-weight="normal" fill="#000" >0.</text>
<rect x="576.50" y="20.40" width="11.70" height="6.20" fill="#000" stroke="none" stroke-width="0" />
<text x="594.00" y="26.40" font-size="7.5" text-anchor="start" font-weight="normal" fill="#000" >Control</text>
<rect x="623.80" y="21.00" width="10.40" height="5.00" fill="#fff" stroke="#000" stroke-width="1.3" />
<text x="640.00" y="26.40" font-size="7.7" text-anchor="start" font-weight="normal" fill="#000" >ΔETreg</text>
<text x="191.90" y="165.40" font-size="12.3" text-anchor="start" font-weight="bold" fill="#000" >F</text>
<text x="271.60" y="176.80" font-size="13.45" text-anchor="middle" font-weight="normal" fill="#000" >HF-subsetted</text>
<text x="250.50" y="198.70" font-size="11.1" text-anchor="middle" font-weight="normal" fill="#000" >DEGs</text>
<circle cx="305.1" cy="258.7" r="30.4" fill="#FFFADC"/>
<circle cx="250.1" cy="259" r="56" fill="#78B2AE" fill-opacity="0.26"/>
<circle cx="305.1" cy="258.7" r="30.4" fill="none" stroke="#EEDD66" stroke-width="0.8"/>
<circle cx="250.1" cy="259" r="56" fill="none" stroke="#5AB5B0" stroke-width="0.8"/>
<text x="250.20" y="262.00" font-size="9.5" text-anchor="middle" font-weight="normal" fill="#000" >314</text>
<text x="292.00" y="262.00" font-size="9.5" text-anchor="middle" font-weight="normal" fill="#000" >49</text>
<text x="317.00" y="262.00" font-size="9.5" text-anchor="middle" font-weight="normal" fill="#000" >59</text>
<text x="331.20" y="225.00" font-size="11.5" text-anchor="middle" font-weight="normal" fill="#000" >PPARγ target</text>
<text x="285.80" y="311.40" font-size="8.0" text-anchor="start" font-weight="normal" fill="#000" >P=2.249x10</text>
<text x="328.50" y="306.50" font-size="8.0" text-anchor="start" font-weight="normal" fill="#000" >-9</text>
<text x="376.30" y="169.90" font-size="12.4" text-anchor="start" font-weight="bold" fill="#000" >G</text>
<text x="406.50" y="169.10" font-size="8.75" text-anchor="start" font-weight="normal" fill="#000" >Control</text>
<text x="510.00" y="169.10" font-size="8.75" text-anchor="middle" font-weight="normal" fill="#000" >ΔETreg</text>
<line x1="405.50" y1="303.40" x2="527.00" y2="303.40" stroke="#EBEBEB" stroke-width="0.7" />
<line x1="405.50" y1="267.30" x2="527.00" y2="267.30" stroke="#EBEBEB" stroke-width="0.7" />
<line x1="405.50" y1="231.20" x2="527.00" y2="231.20" stroke="#EBEBEB" stroke-width="0.7" />
<line x1="405.50" y1="195.10" x2="527.00" y2="195.10" stroke="#EBEBEB" stroke-width="0.7" />
<line x1="405.50" y1="285.35" x2="527.00" y2="285.35" stroke="#F4F4F4" stroke-width="0.5" />
<line x1="405.50" y1="249.25" x2="527.00" y2="249.25" stroke="#F4F4F4" stroke-width="0.5" />
<line x1="405.50" y1="213.15" x2="527.00" y2="213.15" stroke="#F4F4F4" stroke-width="0.5" />
<line x1="405.50" y1="177.05" x2="527.00" y2="177.05" stroke="#F4F4F4" stroke-width="0.5" />
<line x1="416.20" y1="177.00" x2="416.20" y2="312.00" stroke="#EBEBEB" stroke-width="0.7" />
<line x1="445.70" y1="177.00" x2="445.70" y2="312.00" stroke="#EBEBEB" stroke-width="0.7" />
<line x1="475.20" y1="177.00" x2="475.20" y2="312.00" stroke="#EBEBEB" stroke-width="0.7" />
<line x1="504.70" y1="177.00" x2="504.70" y2="312.00" stroke="#EBEBEB" stroke-width="0.7" />
<line x1="430.95" y1="177.00" x2="430.95" y2="312.00" stroke="#F4F4F4" stroke-width="0.5" />
<line x1="460.45" y1="177.00" x2="460.45" y2="312.00" stroke="#F4F4F4" stroke-width="0.5" />
<line x1="489.95" y1="177.00" x2="489.95" y2="312.00" stroke="#F4F4F4" stroke-width="0.5" />
<line x1="519.45" y1="177.00" x2="519.45" y2="312.00" stroke="#F4F4F4" stroke-width="0.5" />
<text x="404.00" y="306.40" font-size="8.3" text-anchor="end" font-weight="normal" fill="#000" >0</text>
<text x="404.00" y="270.30" font-size="8.3" text-anchor="end" font-weight="normal" fill="#000" >50</text>
<text x="404.00" y="234.20" font-size="8.3" text-anchor="end" font-weight="normal" fill="#000" >100</text>
<text x="404.00" y="198.10" font-size="8.3" text-anchor="end" font-weight="normal" fill="#000" >150</text>
<text x="416.20" y="320.20" font-size="8.3" text-anchor="middle" font-weight="normal" fill="#000" >-2</text>
<text x="445.70" y="320.20" font-size="8.3" text-anchor="middle" font-weight="normal" fill="#000" >-1</text>
<text x="475.20" y="320.20" font-size="8.3" text-anchor="middle" font-weight="normal" fill="#000" >0</text>
<text x="504.70" y="320.20" font-size="8.3" text-anchor="middle" font-weight="normal" fill="#000" >1</text>
<text x="465.70" y="331.80" font-size="9.55" text-anchor="middle" font-weight="normal" fill="#000" >log2 Fold Change</text>
<text x="386.00" y="247.00" font-size="9.7" text-anchor="middle" font-weight="normal" fill="#000" transform="rotate(-90 386 247)">−log10 Adjusted P−value</text>
<circle cx="456.02" cy="303.04" r="1.80" fill="#BEBEBE" stroke="none" stroke-width="0" />
<circle cx="461.93" cy="303.04" r="1.80" fill="#BEBEBE" stroke="none" stroke-width="0" />
<circle cx="466.35" cy="303.04" r="1.80" fill="#BEBEBE" stroke="none" stroke-width="0" />
<circle cx="483.46" cy="303.04" r="1.80" fill="#BEBEBE" stroke="none" stroke-width="0" />
<circle cx="484.94" cy="303.04" r="1.80" fill="#BEBEBE" stroke="none" stroke-width="0" />
<circle cx="486.41" cy="303.04" r="1.80" fill="#BEBEBE" stroke="none" stroke-width="0" />
<circle cx="488.47" cy="303.04" r="1.80" fill="#BEBEBE" stroke="none" stroke-width="0" />
<circle cx="489.95" cy="303.04" r="1.80" fill="#BEBEBE" stroke="none" stroke-width="0" />
<circle cx="511.19" cy="303.04" r="1.80" fill="#BEBEBE" stroke="none" stroke-width="0" />
<circle cx="461.97" cy="298.99" r="1.45" fill="#FF0000" stroke="none" stroke-width="0" />
<circle cx="467.24" cy="292.58" r="1.45" fill="#FF0000" stroke="none" stroke-width="0" />
<circle cx="462.03" cy="295.68" r="1.45" fill="#FF0000" stroke="none" stroke-width="0" />
<circle cx="464.87" cy="299.99" r="1.45" fill="#FF0000" stroke="none" stroke-width="0" />
<circle cx="466.75" cy="300.49" r="1.45" fill="#FF0000" stroke="none" stroke-width="0" />
<circle cx="464.22" cy="293.99" r="1.45" fill="#FF0000" stroke="none" stroke-width="0" />
<circle cx="464.51" cy="292.47" r="1.45" fill="#FF0000" stroke="none" stroke-width="0" />
<circle cx="466.78" cy="283.00" r="1.45" fill="#FF0000" stroke="none" stroke-width="0" />
<circle cx="463.43" cy="291.05" r="1.45" fill="#FF0000" stroke="none" stroke-width="0" />
<circle cx="466.47" cy="298.15" r="1.45" fill="#FF0000" stroke="none" stroke-width="0" />
<circle cx="461.35" cy="282.51" r="1.45" fill="#FF0000" stroke="none" stroke-width="0" />
<circle cx="463.54" cy="297.80" r="1.45" fill="#FF0000" stroke="none" stroke-width="0" />
<circle cx="467.91" cy="292.51" r="1.45" fill="#FF0000" stroke="none" stroke-width="0" />
<circle cx="464.81" cy="287.98" r="1.45" fill="#FF0000" stroke="none" stroke-width="0" />
<circle cx="461.56" cy="289.65" r="1.45" fill="#FF0000" stroke="none" stroke-width="0" />
<circle cx="464.10" cy="300.70" r="1.45" fill="#FF0000" stroke="none" stroke-width="0" />
<circle cx="466.21" cy="283.71" r="1.45" fill="#FF0000" stroke="none" stroke-width="0" />
<circle cx="462.86" cy="291.48" r="1.45" fill="#FF0000" stroke="none" stroke-width="0" />
<circle cx="463.53" cy="288.78" r="1.45" fill="#FF0000" stroke="none" stroke-width="0" />
<circle cx="466.66" cy="299.24" r="1.45" fill="#FF0000" stroke="none" stroke-width="0" />
<circle cx="467.46" cy="290.84" r="1.45" fill="#FF0000" stroke="none" stroke-width="0" />
<circle cx="466.37" cy="286.76" r="1.45" fill="#FF0000" stroke="none" stroke-width="0" />
<circle cx="464.50" cy="288.35" r="1.45" fill="#FF0000" stroke="none" stroke-width="0" />
<circle cx="467.81" cy="300.60" r="1.45" fill="#FF0000" stroke="none" stroke-width="0" />
<circle cx="467.60" cy="296.41" r="1.45" fill="#FF0000" stroke="none" stroke-width="0" />
<circle cx="464.87" cy="300.14" r="1.45" fill="#FF0000" stroke="none" stroke-width="0" />
<circle cx="466.49" cy="298.16" r="1.45" fill="#FF0000" stroke="none" stroke-width="0" />
<circle cx="467.76" cy="298.42" r="1.45" fill="#FF0000" stroke="none" stroke-width="0" />
<circle cx="465.48" cy="296.31" r="1.45" fill="#FF0000" stroke="none" stroke-width="0" />
<circle cx="465.86" cy="299.53" r="1.45" fill="#FF0000" stroke="none" stroke-width="0" />
<circle cx="462.66" cy="288.65" r="1.45" fill="#FF0000" stroke="none" stroke-width="0" />
<circle cx="466.88" cy="292.91" r="1.45" fill="#FF0000" stroke="none" stroke-width="0" />
<circle cx="468.13" cy="299.41" r="1.45" fill="#FF0000" stroke="none" stroke-width="0" />
<circle cx="467.61" cy="299.88" r="1.45" fill="#FF0000" stroke="none" stroke-width="0" />
<circle cx="468.45" cy="291.63" r="1.45" fill="#FF0000" stroke="none" stroke-width="0" />
<circle cx="465.81" cy="282.59" r="1.45" fill="#FF0000" stroke="none" stroke-width="0" />
<circle cx="467.14" cy="287.55" r="1.45" fill="#FF0000" stroke="none" stroke-width="0" />
<circle cx="461.73" cy="296.86" r="1.45" fill="#FF0000" stroke="none" stroke-width="0" />
<circle cx="461.96" cy="299.57" r="1.45" fill="#FF0000" stroke="none" stroke-width="0" />
<circle cx="462.91" cy="285.72" r="1.45" fill="#FF0000" stroke="none" stroke-width="0" />
<circle cx="462.27" cy="298.08" r="1.45" fill="#FF0000" stroke="none" stroke-width="0" />
<circle cx="464.97" cy="285.97" r="1.45" fill="#FF0000" stroke="none" stroke-width="0" />
<circle cx="468.45" cy="289.62" r="1.45" fill="#FF0000" stroke="none" stroke-width="0" />
<circle cx="462.91" cy="293.39" r="1.45" fill="#FF0000" stroke="none" stroke-width="0" />
<circle cx="466.54" cy="301.00" r="1.45" fill="#FF0000" stroke="none" stroke-width="0" />
<circle cx="466.35" cy="296.88" r="1.45" fill="#FF0000" stroke="none" stroke-width="0" />
<circle cx="465.68" cy="290.55" r="1.45" fill="#FF0000" stroke="none" stroke-width="0" />
<circle cx="466.27" cy="293.86" r="1.45" fill="#FF0000" stroke="none" stroke-width="0" />
<circle cx="465.43" cy="299.51" r="1.45" fill="#FF0000" stroke="none" stroke-width="0" />
<circle cx="464.99" cy="300.37" r="1.45" fill="#FF0000" stroke="none" stroke-width="0" />
<circle cx="464.88" cy="293.58" r="1.45" fill="#FF0000" stroke="none" stroke-width="0" />
<circle cx="467.04" cy="296.42" r="1.45" fill="#FF0000" stroke="none" stroke-width="0" />
<circle cx="461.48" cy="293.76" r="1.45" fill="#FF0000" stroke="none" stroke-width="0" />
<circle cx="462.85" cy="288.79" r="1.45" fill="#FF0000" stroke="none" stroke-width="0" />
<circle cx="464.20" cy="296.66" r="1.45" fill="#FF0000" stroke="none" stroke-width="0" />
<circle cx="468.04" cy="296.43" r="1.45" fill="#FF0000" stroke="none" stroke-width="0" />
<circle cx="463.91" cy="297.23" r="1.45" fill="#FF0000" stroke="none" stroke-width="0" />
<circle cx="464.88" cy="300.68" r="1.45" fill="#FF0000" stroke="none" stroke-width="0" />
<circle cx="465.37" cy="283.99" r="1.45" fill="#FF0000" stroke="none" stroke-width="0" />
<circle cx="465.49" cy="288.73" r="1.45" fill="#FF0000" stroke="none" stroke-width="0" />
<circle cx="468.32" cy="286.17" r="1.45" fill="#FF0000" stroke="none" stroke-width="0" />
<circle cx="466.82" cy="286.94" r="1.45" fill="#FF0000" stroke="none" stroke-width="0" />
<circle cx="467.38" cy="298.74" r="1.45" fill="#FF0000" stroke="none" stroke-width="0" />
<circle cx="464.89" cy="297.32" r="1.45" fill="#FF0000" stroke="none" stroke-width="0" />
<circle cx="463.27" cy="292.81" r="1.45" fill="#FF0000" stroke="none" stroke-width="0" />
<circle cx="463.68" cy="291.75" r="1.45" fill="#FF0000" stroke="none" stroke-width="0" />
<circle cx="465.63" cy="300.58" r="1.45" fill="#FF0000" stroke="none" stroke-width="0" />
<circle cx="464.60" cy="296.49" r="1.45" fill="#FF0000" stroke="none" stroke-width="0" />
<circle cx="466.55" cy="300.72" r="1.45" fill="#FF0000" stroke="none" stroke-width="0" />
<circle cx="462.58" cy="294.08" r="1.45" fill="#FF0000" stroke="none" stroke-width="0" />
<circle cx="464.32" cy="290.65" r="1.45" fill="#FF0000" stroke="none" stroke-width="0" />
<circle cx="463.79" cy="299.53" r="1.45" fill="#FF0000" stroke="none" stroke-width="0" />
<circle cx="468.21" cy="298.89" r="1.45" fill="#FF0000" stroke="none" stroke-width="0" />
<circle cx="462.42" cy="298.35" r="1.45" fill="#FF0000" stroke="none" stroke-width="0" />
<circle cx="463.84" cy="299.15" r="1.45" fill="#FF0000" stroke="none" stroke-width="0" />
<circle cx="465.29" cy="283.55" r="1.45" fill="#FF0000" stroke="none" stroke-width="0" />
<circle cx="462.26" cy="296.02" r="1.45" fill="#FF0000" stroke="none" stroke-width="0" />
<circle cx="466.26" cy="285.01" r="1.45" fill="#FF0000" stroke="none" stroke-width="0" />
<circle cx="468.71" cy="300.17" r="1.45" fill="#FF0000" stroke="none" stroke-width="0" />
<circle cx="465.30" cy="285.11" r="1.45" fill="#FF0000" stroke="none" stroke-width="0" />
<circle cx="461.73" cy="292.44" r="1.45" fill="#FF0000" stroke="none" stroke-width="0" />
<circle cx="462.62" cy="288.12" r="1.45" fill="#FF0000" stroke="none" stroke-width="0" />
<circle cx="468.25" cy="293.54" r="1.45" fill="#FF0000" stroke="none" stroke-width="0" />
<circle cx="461.40" cy="300.92" r="1.45" fill="#FF0000" stroke="none" stroke-width="0" />
<circle cx="464.40" cy="286.03" r="1.45" fill="#FF0000" stroke="none" stroke-width="0" />
<circle cx="463.08" cy="290.56" r="1.45" fill="#FF0000" stroke="none" stroke-width="0" />
<circle cx="464.32" cy="298.57" r="1.45" fill="#FF0000" stroke="none" stroke-width="0" />
<circle cx="466.53" cy="297.90" r="1.45" fill="#FF0000" stroke="none" stroke-width="0" />
<circle cx="464.08" cy="288.18" r="1.45" fill="#FF0000" stroke="none" stroke-width="0" />
<circle cx="464.99" cy="287.70" r="1.45" fill="#FF0000" stroke="none" stroke-width="0" />
<circle cx="465.14" cy="299.99" r="1.45" fill="#FF0000" stroke="none" stroke-width="0" />
<circle cx="464.61" cy="285.34" r="1.45" fill="#FF0000" stroke="none" stroke-width="0" />
<circle cx="465.50" cy="282.76" r="1.45" fill="#FF0000" stroke="none" stroke-width="0" />
<circle cx="461.34" cy="297.36" r="1.45" fill="#FF0000" stroke="none" stroke-width="0" />
<circle cx="467.01" cy="290.15" r="1.45" fill="#FF0000" stroke="none" stroke-width="0" />
<circle cx="465.47" cy="290.69" r="1.45" fill="#FF0000" stroke="none" stroke-width="0" />
<circle cx="467.80" cy="290.22" r="1.45" fill="#FF0000" stroke="none" stroke-width="0" />
<circle cx="465.37" cy="293.01" r="1.45" fill="#FF0000" stroke="none" stroke-width="0" />
<circle cx="466.25" cy="297.64" r="1.45" fill="#FF0000" stroke="none" stroke-width="0" />
<circle cx="466.27" cy="291.83" r="1.45" fill="#FF0000" stroke="none" stroke-width="0" />
<circle cx="467.13" cy="294.75" r="1.45" fill="#FF0000" stroke="none" stroke-width="0" />
<circle cx="461.53" cy="293.56" r="1.45" fill="#FF0000" stroke="none" stroke-width="0" />
<circle cx="467.66" cy="291.25" r="1.45" fill="#FF0000" stroke="none" stroke-width="0" />
<circle cx="466.08" cy="296.47" r="1.45" fill="#FF0000" stroke="none" stroke-width="0" />
<circle cx="463.96" cy="289.35" r="1.45" fill="#FF0000" stroke="none" stroke-width="0" />
<circle cx="461.91" cy="285.51" r="1.45" fill="#FF0000" stroke="none" stroke-width="0" />
<circle cx="467.80" cy="282.83" r="1.45" fill="#FF0000" stroke="none" stroke-width="0" />
<circle cx="462.34" cy="300.47" r="1.45" fill="#FF0000" stroke="none" stroke-width="0" />
<circle cx="467.93" cy="296.28" r="1.45" fill="#FF0000" stroke="none" stroke-width="0" />
<circle cx="463.33" cy="296.63" r="1.45" fill="#FF0000" stroke="none" stroke-width="0" />
<circle cx="466.20" cy="299.97" r="1.45" fill="#FF0000" stroke="none" stroke-width="0" />
<circle cx="464.93" cy="290.78" r="1.45" fill="#FF0000" stroke="none" stroke-width="0" />
<circle cx="466.65" cy="301.21" r="1.45" fill="#FF0000" stroke="none" stroke-width="0" />
<circle cx="467.32" cy="295.66" r="1.45" fill="#FF0000" stroke="none" stroke-width="0" />
<circle cx="464.55" cy="293.01" r="1.45" fill="#FF0000" stroke="none" stroke-width="0" />
<circle cx="463.40" cy="284.96" r="1.45" fill="#FF0000" stroke="none" stroke-width="0" />
<circle cx="462.90" cy="293.44" r="1.45" fill="#FF0000" stroke="none" stroke-width="0" />
<circle cx="462.57" cy="291.81" r="1.45" fill="#FF0000" stroke="none" stroke-width="0" />
<circle cx="467.99" cy="285.07" r="1.45" fill="#FF0000" stroke="none" stroke-width="0" />
<circle cx="462.33" cy="291.60" r="1.45" fill="#FF0000" stroke="none" stroke-width="0" />
<circle cx="444.32" cy="268.49" r="1.45" fill="#FF0000" stroke="none" stroke-width="0" />
<circle cx="457.69" cy="280.22" r="1.45" fill="#FF0000" stroke="none" stroke-width="0" />
<circle cx="448.48" cy="272.29" r="1.45" fill="#FF0000" stroke="none" stroke-width="0" />
<circle cx="450.42" cy="274.73" r="1.45" fill="#FF0000" stroke="none" stroke-width="0" />
<circle cx="457.34" cy="281.74" r="1.45" fill="#FF0000" stroke="none" stroke-width="0" />
<circle cx="450.87" cy="276.23" r="1.45" fill="#FF0000" stroke="none" stroke-width="0" />
<circle cx="460.18" cy="277.84" r="1.45" fill="#FF0000" stroke="none" stroke-width="0" />
<circle cx="455.74" cy="279.74" r="1.45" fill="#FF0000" stroke="none" stroke-width="0" />
<circle cx="459.51" cy="285.80" r="1.45" fill="#FF0000" stroke="none" stroke-width="0" />
<circle cx="446.87" cy="269.49" r="1.45" fill="#FF0000" stroke="none" stroke-width="0" />
<circle cx="459.20" cy="284.60" r="1.45" fill="#FF0000" stroke="none" stroke-width="0" />
<circle cx="456.30" cy="285.53" r="1.45" fill="#FF0000" stroke="none" stroke-width="0" />
<circle cx="454.22" cy="278.50" r="1.45" fill="#FF0000" stroke="none" stroke-width="0" />
<circle cx="445.36" cy="268.85" r="1.45" fill="#FF0000" stroke="none" stroke-width="0" />
<circle cx="450.53" cy="270.57" r="1.45" fill="#FF0000" stroke="none" stroke-width="0" />
<circle cx="449.28" cy="268.05" r="1.45" fill="#FF0000" stroke="none" stroke-width="0" />
<circle cx="455.14" cy="276.63" r="1.45" fill="#FF0000" stroke="none" stroke-width="0" />
<circle cx="456.48" cy="278.09" r="1.45" fill="#FF0000" stroke="none" stroke-width="0" />
<circle cx="447.05" cy="268.09" r="1.45" fill="#FF0000" stroke="none" stroke-width="0" />
<circle cx="454.91" cy="274.12" r="1.45" fill="#FF0000" stroke="none" stroke-width="0" />
<circle cx="459.55" cy="287.07" r="1.45" fill="#FF0000" stroke="none" stroke-width="0" />
<circle cx="454.30" cy="270.89" r="1.45" fill="#FF0000" stroke="none" stroke-width="0" />
<circle cx="453.69" cy="277.63" r="1.45" fill="#FF0000" stroke="none" stroke-width="0" />
<circle cx="457.36" cy="277.89" r="1.45" fill="#FF0000" stroke="none" stroke-width="0" />
<circle cx="451.05" cy="272.07" r="1.45" fill="#FF0000" stroke="none" stroke-width="0" />
<circle cx="457.03" cy="285.19" r="1.45" fill="#FF0000" stroke="none" stroke-width="0" />
<circle cx="455.82" cy="278.30" r="1.45" fill="#FF0000" stroke="none" stroke-width="0" />
<circle cx="450.09" cy="271.32" r="1.45" fill="#FF0000" stroke="none" stroke-width="0" />
<circle cx="448.79" cy="272.39" r="1.45" fill="#FF0000" stroke="none" stroke-width="0" />
<circle cx="456.53" cy="284.77" r="1.45" fill="#FF0000" stroke="none" stroke-width="0" />
<circle cx="445.65" cy="266.01" r="1.45" fill="#FF0000" stroke="none" stroke-width="0" />
<circle cx="451.15" cy="273.44" r="1.45" fill="#FF0000" stroke="none" stroke-width="0" />
<circle cx="457.34" cy="284.72" r="1.45" fill="#FF0000" stroke="none" stroke-width="0" />
<circle cx="452.95" cy="280.60" r="1.45" fill="#FF0000" stroke="none" stroke-width="0" />
<circle cx="455.91" cy="279.07" r="1.45" fill="#FF0000" stroke="none" stroke-width="0" />
<circle cx="442.25" cy="267.28" r="1.45" fill="#FF0000" stroke="none" stroke-width="0" />
<circle cx="449.00" cy="267.23" r="1.45" fill="#FF0000" stroke="none" stroke-width="0" />
<circle cx="449.29" cy="267.37" r="1.45" fill="#FF0000" stroke="none" stroke-width="0" />
<circle cx="450.50" cy="272.56" r="1.45" fill="#FF0000" stroke="none" stroke-width="0" />
<circle cx="451.73" cy="279.42" r="1.45" fill="#FF0000" stroke="none" stroke-width="0" />
<circle cx="454.44" cy="274.98" r="1.45" fill="#FF0000" stroke="none" stroke-width="0" />
<circle cx="461.65" cy="286.64" r="1.45" fill="#FF0000" stroke="none" stroke-width="0" />
<circle cx="453.14" cy="275.34" r="1.45" fill="#FF0000" stroke="none" stroke-width="0" />
<circle cx="447.70" cy="269.89" r="1.45" fill="#FF0000" stroke="none" stroke-width="0" />
<circle cx="454.44" cy="284.36" r="1.45" fill="#FF0000" stroke="none" stroke-width="0" />
<circle cx="448.77" cy="274.43" r="1.45" fill="#FF0000" stroke="none" stroke-width="0" />
<circle cx="460.42" cy="284.40" r="1.45" fill="#FF0000" stroke="none" stroke-width="0" />
<circle cx="466.14" cy="284.06" r="1.45" fill="#FF0000" stroke="none" stroke-width="0" />
<circle cx="451.03" cy="275.86" r="1.45" fill="#FF0000" stroke="none" stroke-width="0" />
<circle cx="451.80" cy="273.20" r="1.45" fill="#FF0000" stroke="none" stroke-width="0" />
<circle cx="460.21" cy="282.44" r="1.45" fill="#FF0000" stroke="none" stroke-width="0" />
<circle cx="450.55" cy="284.45" r="1.45" fill="#FF0000" stroke="none" stroke-width="0" />
<circle cx="448.71" cy="272.46" r="1.45" fill="#FF0000" stroke="none" stroke-width="0" />
<circle cx="455.22" cy="281.95" r="1.45" fill="#FF0000" stroke="none" stroke-width="0" />
<circle cx="450.58" cy="266.88" r="1.45" fill="#FF0000" stroke="none" stroke-width="0" />
<circle cx="462.13" cy="288.65" r="1.45" fill="#FF0000" stroke="none" stroke-width="0" />
<circle cx="454.66" cy="278.24" r="1.45" fill="#FF0000" stroke="none" stroke-width="0" />
<circle cx="452.28" cy="274.85" r="1.45" fill="#FF0000" stroke="none" stroke-width="0" />
<circle cx="459.48" cy="288.69" r="1.45" fill="#FF0000" stroke="none" stroke-width="0" />
<circle cx="448.01" cy="266.89" r="1.45" fill="#FF0000" stroke="none" stroke-width="0" />
<circle cx="453.91" cy="278.88" r="1.45" fill="#FF0000" stroke="none" stroke-width="0" />
<circle cx="454.75" cy="275.98" r="1.45" fill="#FF0000" stroke="none" stroke-width="0" />
<circle cx="454.46" cy="277.28" r="1.45" fill="#FF0000" stroke="none" stroke-width="0" />
<circle cx="457.28" cy="277.98" r="1.45" fill="#FF0000" stroke="none" stroke-width="0" />
<circle cx="459.51" cy="286.01" r="1.45" fill="#FF0000" stroke="none" stroke-width="0" />
<circle cx="453.32" cy="296.26" r="1.45" fill="#FF0000" stroke="none" stroke-width="0" />
<circle cx="458.78" cy="294.78" r="1.45" fill="#FF0000" stroke="none" stroke-width="0" />
<circle cx="453.28" cy="298.35" r="1.45" fill="#FF0000" stroke="none" stroke-width="0" />
<circle cx="459.44" cy="299.46" r="1.45" fill="#FF0000" stroke="none" stroke-width="0" />
<circle cx="452.71" cy="284.09" r="1.45" fill="#FF0000" stroke="none" stroke-width="0" />
<circle cx="459.34" cy="293.64" r="1.45" fill="#FF0000" stroke="none" stroke-width="0" />
<circle cx="453.95" cy="285.39" r="1.45" fill="#FF0000" stroke="none" stroke-width="0" />
<circle cx="459.39" cy="288.69" r="1.45" fill="#FF0000" stroke="none" stroke-width="0" />
<circle cx="457.04" cy="291.07" r="1.45" fill="#FF0000" stroke="none" stroke-width="0" />
<circle cx="461.13" cy="291.12" r="1.45" fill="#FF0000" stroke="none" stroke-width="0" />
<circle cx="452.96" cy="298.55" r="1.45" fill="#FF0000" stroke="none" stroke-width="0" />
<circle cx="457.64" cy="287.62" r="1.45" fill="#FF0000" stroke="none" stroke-width="0" />
<circle cx="457.94" cy="287.45" r="1.45" fill="#FF0000" stroke="none" stroke-width="0" />
<circle cx="454.88" cy="293.63" r="1.45" fill="#FF0000" stroke="none" stroke-width="0" />
<circle cx="454.62" cy="293.60" r="1.45" fill="#FF0000" stroke="none" stroke-width="0" />
<circle cx="454.63" cy="285.94" r="1.45" fill="#FF0000" stroke="none" stroke-width="0" />
<circle cx="453.54" cy="296.34" r="1.45" fill="#FF0000" stroke="none" stroke-width="0" />
<circle cx="458.72" cy="293.18" r="1.45" fill="#FF0000" stroke="none" stroke-width="0" />
<circle cx="455.31" cy="283.61" r="1.45" fill="#FF0000" stroke="none" stroke-width="0" />
<circle cx="460.36" cy="296.15" r="1.45" fill="#FF0000" stroke="none" stroke-width="0" />
<circle cx="453.61" cy="291.61" r="1.45" fill="#FF0000" stroke="none" stroke-width="0" />
<circle cx="457.44" cy="294.03" r="1.45" fill="#FF0000" stroke="none" stroke-width="0" />
<circle cx="488.32" cy="294.64" r="1.45" fill="#FF0000" stroke="none" stroke-width="0" />
<circle cx="490.82" cy="299.96" r="1.45" fill="#FF0000" stroke="none" stroke-width="0" />
<circle cx="488.92" cy="301.10" r="1.45" fill="#FF0000" stroke="none" stroke-width="0" />
<circle cx="482.42" cy="301.11" r="1.45" fill="#FF0000" stroke="none" stroke-width="0" />
<circle cx="482.99" cy="292.96" r="1.45" fill="#FF0000" stroke="none" stroke-width="0" />
<circle cx="485.85" cy="297.28" r="1.45" fill="#FF0000" stroke="none" stroke-width="0" />
<circle cx="486.74" cy="300.25" r="1.45" fill="#FF0000" stroke="none" stroke-width="0" />
<circle cx="482.20" cy="300.43" r="1.45" fill="#FF0000" stroke="none" stroke-width="0" />
<circle cx="491.31" cy="299.06" r="1.45" fill="#FF0000" stroke="none" stroke-width="0" />
<circle cx="486.40" cy="299.77" r="1.45" fill="#FF0000" stroke="none" stroke-width="0" />
<circle cx="490.00" cy="294.26" r="1.45" fill="#FF0000" stroke="none" stroke-width="0" />
<circle cx="485.99" cy="297.10" r="1.45" fill="#FF0000" stroke="none" stroke-width="0" />
<circle cx="486.13" cy="296.19" r="1.45" fill="#FF0000" stroke="none" stroke-width="0" />
<circle cx="488.34" cy="296.14" r="1.45" fill="#FF0000" stroke="none" stroke-width="0" />
<circle cx="491.80" cy="289.92" r="1.45" fill="#FF0000" stroke="none" stroke-width="0" />
<circle cx="482.27" cy="298.63" r="1.45" fill="#FF0000" stroke="none" stroke-width="0" />
<circle cx="482.14" cy="298.68" r="1.45" fill="#FF0000" stroke="none" stroke-width="0" />
<circle cx="490.69" cy="294.62" r="1.45" fill="#FF0000" stroke="none" stroke-width="0" />
<circle cx="488.05" cy="300.99" r="1.45" fill="#FF0000" stroke="none" stroke-width="0" />
<circle cx="490.79" cy="295.63" r="1.45" fill="#FF0000" stroke="none" stroke-width="0" />
<circle cx="485.08" cy="292.90" r="1.45" fill="#FF0000" stroke="none" stroke-width="0" />
<circle cx="482.13" cy="300.39" r="1.45" fill="#FF0000" stroke="none" stroke-width="0" />
<circle cx="490.54" cy="301.15" r="1.45" fill="#FF0000" stroke="none" stroke-width="0" />
<circle cx="483.17" cy="297.16" r="1.45" fill="#FF0000" stroke="none" stroke-width="0" />
<circle cx="489.65" cy="295.97" r="1.45" fill="#FF0000" stroke="none" stroke-width="0" />
<circle cx="482.10" cy="299.68" r="1.45" fill="#FF0000" stroke="none" stroke-width="0" />
<circle cx="489.61" cy="298.96" r="1.45" fill="#FF0000" stroke="none" stroke-width="0" />
<circle cx="483.87" cy="301.23" r="1.45" fill="#FF0000" stroke="none" stroke-width="0" />
<circle cx="484.63" cy="290.29" r="1.45" fill="#FF0000" stroke="none" stroke-width="0" />
<circle cx="482.25" cy="296.47" r="1.45" fill="#FF0000" stroke="none" stroke-width="0" />
<circle cx="491.89" cy="294.29" r="1.45" fill="#FF0000" stroke="none" stroke-width="0" />
<circle cx="484.84" cy="295.09" r="1.45" fill="#FF0000" stroke="none" stroke-width="0" />
<circle cx="483.03" cy="297.20" r="1.45" fill="#FF0000" stroke="none" stroke-width="0" />
<circle cx="484.64" cy="291.31" r="1.45" fill="#FF0000" stroke="none" stroke-width="0" />
<circle cx="491.40" cy="293.29" r="1.45" fill="#FF0000" stroke="none" stroke-width="0" />
<circle cx="485.90" cy="292.70" r="1.45" fill="#FF0000" stroke="none" stroke-width="0" />
<circle cx="492.67" cy="298.74" r="1.45" fill="#FF0000" stroke="none" stroke-width="0" />
<circle cx="487.58" cy="300.56" r="1.45" fill="#FF0000" stroke="none" stroke-width="0" />
<circle cx="482.90" cy="293.98" r="1.45" fill="#FF0000" stroke="none" stroke-width="0" />
<circle cx="482.37" cy="295.79" r="1.45" fill="#FF0000" stroke="none" stroke-width="0" />
<circle cx="482.96" cy="294.78" r="1.45" fill="#FF0000" stroke="none" stroke-width="0" />
<circle cx="490.14" cy="290.10" r="1.45" fill="#FF0000" stroke="none" stroke-width="0" />
<circle cx="486.06" cy="298.52" r="1.45" fill="#FF0000" stroke="none" stroke-width="0" />
<circle cx="486.17" cy="294.21" r="1.45" fill="#FF0000" stroke="none" stroke-width="0" />
<circle cx="490.52" cy="300.84" r="1.45" fill="#FF0000" stroke="none" stroke-width="0" />
<circle cx="485.33" cy="301.11" r="1.45" fill="#FF0000" stroke="none" stroke-width="0" />
<circle cx="484.32" cy="293.75" r="1.45" fill="#FF0000" stroke="none" stroke-width="0" />
<circle cx="492.19" cy="289.34" r="1.45" fill="#FF0000" stroke="none" stroke-width="0" />
<circle cx="482.45" cy="298.38" r="1.45" fill="#FF0000" stroke="none" stroke-width="0" />
<circle cx="491.47" cy="297.12" r="1.45" fill="#FF0000" stroke="none" stroke-width="0" />
<circle cx="485.61" cy="292.95" r="1.45" fill="#FF0000" stroke="none" stroke-width="0" />
<circle cx="491.38" cy="300.67" r="1.45" fill="#FF0000" stroke="none" stroke-width="0" />
<circle cx="487.49" cy="300.66" r="1.45" fill="#FF0000" stroke="none" stroke-width="0" />
<circle cx="483.71" cy="296.78" r="1.45" fill="#FF0000" stroke="none" stroke-width="0" />
<circle cx="484.52" cy="292.56" r="1.45" fill="#FF0000" stroke="none" stroke-width="0" />
<circle cx="485.79" cy="300.44" r="1.45" fill="#FF0000" stroke="none" stroke-width="0" />
<circle cx="488.74" cy="299.79" r="1.45" fill="#FF0000" stroke="none" stroke-width="0" />
<circle cx="482.43" cy="288.98" r="1.45" fill="#FF0000" stroke="none" stroke-width="0" />
<circle cx="483.76" cy="300.76" r="1.45" fill="#FF0000" stroke="none" stroke-width="0" />
<circle cx="487.08" cy="301.23" r="1.45" fill="#FF0000" stroke="none" stroke-width="0" />
<circle cx="490.54" cy="301.04" r="1.45" fill="#FF0000" stroke="none" stroke-width="0" />
<circle cx="482.13" cy="289.62" r="1.45" fill="#FF0000" stroke="none" stroke-width="0" />
<circle cx="487.48" cy="290.33" r="1.45" fill="#FF0000" stroke="none" stroke-width="0" />
<circle cx="491.75" cy="293.75" r="1.45" fill="#FF0000" stroke="none" stroke-width="0" />
<circle cx="482.02" cy="295.17" r="1.45" fill="#FF0000" stroke="none" stroke-width="0" />
<circle cx="482.42" cy="301.23" r="1.45" fill="#FF0000" stroke="none" stroke-width="0" />
<circle cx="491.16" cy="299.38" r="1.45" fill="#FF0000" stroke="none" stroke-width="0" />
<circle cx="490.07" cy="296.79" r="1.45" fill="#FF0000" stroke="none" stroke-width="0" />
<circle cx="490.48" cy="295.23" r="1.45" fill="#FF0000" stroke="none" stroke-width="0" />
<circle cx="492.59" cy="297.51" r="1.45" fill="#FF0000" stroke="none" stroke-width="0" />
<circle cx="491.25" cy="292.27" r="1.45" fill="#FF0000" stroke="none" stroke-width="0" />
<circle cx="488.27" cy="297.10" r="1.45" fill="#FF0000" stroke="none" stroke-width="0" />
<circle cx="486.51" cy="295.13" r="1.45" fill="#FF0000" stroke="none" stroke-width="0" />
<circle cx="483.89" cy="297.94" r="1.45" fill="#FF0000" stroke="none" stroke-width="0" />
<circle cx="488.94" cy="299.38" r="1.45" fill="#FF0000" stroke="none" stroke-width="0" />
<circle cx="484.12" cy="300.89" r="1.45" fill="#FF0000" stroke="none" stroke-width="0" />
<circle cx="490.71" cy="291.31" r="1.45" fill="#FF0000" stroke="none" stroke-width="0" />
<circle cx="491.04" cy="294.19" r="1.45" fill="#FF0000" stroke="none" stroke-width="0" />
<circle cx="488.47" cy="301.11" r="1.45" fill="#FF0000" stroke="none" stroke-width="0" />
<circle cx="491.56" cy="297.52" r="1.45" fill="#FF0000" stroke="none" stroke-width="0" />
<circle cx="489.39" cy="300.82" r="1.45" fill="#FF0000" stroke="none" stroke-width="0" />
<circle cx="490.05" cy="300.66" r="1.45" fill="#FF0000" stroke="none" stroke-width="0" />
<circle cx="492.43" cy="294.13" r="1.45" fill="#FF0000" stroke="none" stroke-width="0" />
<circle cx="487.64" cy="295.02" r="1.45" fill="#FF0000" stroke="none" stroke-width="0" />
<circle cx="484.27" cy="297.20" r="1.45" fill="#FF0000" stroke="none" stroke-width="0" />
<circle cx="482.66" cy="299.64" r="1.45" fill="#FF0000" stroke="none" stroke-width="0" />
<circle cx="484.89" cy="300.55" r="1.45" fill="#FF0000" stroke="none" stroke-width="0" />
<circle cx="486.35" cy="301.09" r="1.45" fill="#FF0000" stroke="none" stroke-width="0" />
<circle cx="481.98" cy="299.12" r="1.45" fill="#FF0000" stroke="none" stroke-width="0" />
<circle cx="492.80" cy="293.86" r="1.45" fill="#FF0000" stroke="none" stroke-width="0" />
<circle cx="486.48" cy="300.30" r="1.45" fill="#FF0000" stroke="none" stroke-width="0" />
<circle cx="483.05" cy="298.21" r="1.45" fill="#FF0000" stroke="none" stroke-width="0" />
<circle cx="489.01" cy="292.19" r="1.45" fill="#FF0000" stroke="none" stroke-width="0" />
<circle cx="486.87" cy="291.74" r="1.45" fill="#FF0000" stroke="none" stroke-width="0" />
<circle cx="490.78" cy="291.78" r="1.45" fill="#FF0000" stroke="none" stroke-width="0" />
<circle cx="496.32" cy="290.21" r="1.45" fill="#FF0000" stroke="none" stroke-width="0" />
<circle cx="493.79" cy="288.34" r="1.45" fill="#FF0000" stroke="none" stroke-width="0" />
<circle cx="492.05" cy="290.17" r="1.45" fill="#FF0000" stroke="none" stroke-width="0" />
<circle cx="493.84" cy="290.04" r="1.45" fill="#FF0000" stroke="none" stroke-width="0" />
<circle cx="494.10" cy="297.60" r="1.45" fill="#FF0000" stroke="none" stroke-width="0" />
<circle cx="497.65" cy="290.82" r="1.45" fill="#FF0000" stroke="none" stroke-width="0" />
<circle cx="499.41" cy="295.64" r="1.45" fill="#FF0000" stroke="none" stroke-width="0" />
<circle cx="498.77" cy="292.86" r="1.45" fill="#FF0000" stroke="none" stroke-width="0" />
<circle cx="492.63" cy="291.11" r="1.45" fill="#FF0000" stroke="none" stroke-width="0" />
<circle cx="501.26" cy="292.81" r="1.45" fill="#FF0000" stroke="none" stroke-width="0" />
<circle cx="501.95" cy="285.10" r="1.45" fill="#FF0000" stroke="none" stroke-width="0" />
<circle cx="491.63" cy="294.20" r="1.45" fill="#FF0000" stroke="none" stroke-width="0" />
<circle cx="495.61" cy="288.22" r="1.45" fill="#FF0000" stroke="none" stroke-width="0" />
<circle cx="498.61" cy="288.60" r="1.45" fill="#FF0000" stroke="none" stroke-width="0" />
<circle cx="492.51" cy="293.06" r="1.45" fill="#FF0000" stroke="none" stroke-width="0" />
<circle cx="493.80" cy="285.77" r="1.45" fill="#FF0000" stroke="none" stroke-width="0" />
<circle cx="501.51" cy="292.78" r="1.45" fill="#FF0000" stroke="none" stroke-width="0" />
<circle cx="504.35" cy="295.47" r="1.45" fill="#FF0000" stroke="none" stroke-width="0" />
<circle cx="412.07" cy="276.69" r="1.45" fill="#FF0000" stroke="none" stroke-width="0" />
<circle cx="420.62" cy="282.46" r="1.45" fill="#FF0000" stroke="none" stroke-width="0" />
<circle cx="426.52" cy="258.64" r="1.45" fill="#FF0000" stroke="none" stroke-width="0" />
<circle cx="432.43" cy="252.86" r="1.45" fill="#FF0000" stroke="none" stroke-width="0" />
<circle cx="436.85" cy="179.58" r="1.45" fill="#FF0000" stroke="none" stroke-width="0" />
<circle cx="438.32" cy="254.30" r="1.45" fill="#FF0000" stroke="none" stroke-width="0" />
<circle cx="440.39" cy="255.75" r="1.45" fill="#FF0000" stroke="none" stroke-width="0" />
<circle cx="437.44" cy="262.97" r="1.45" fill="#FF0000" stroke="none" stroke-width="0" />
<circle cx="439.21" cy="261.52" r="1.45" fill="#FF0000" stroke="none" stroke-width="0" />
<circle cx="439.80" cy="259.36" r="1.45" fill="#FF0000" stroke="none" stroke-width="0" />
<circle cx="445.70" cy="258.64" r="1.45" fill="#FF0000" stroke="none" stroke-width="0" />
<circle cx="444.22" cy="262.97" r="1.45" fill="#FF0000" stroke="none" stroke-width="0" />
<circle cx="448.65" cy="262.25" r="1.45" fill="#FF0000" stroke="none" stroke-width="0" />
<circle cx="499.69" cy="255.03" r="1.45" fill="#FF0000" stroke="none" stroke-width="0" />
<circle cx="504.70" cy="260.08" r="1.45" fill="#FF0000" stroke="none" stroke-width="0" />
<circle cx="522.40" cy="268.74" r="1.45" fill="#FF0000" stroke="none" stroke-width="0" />
<circle cx="510.60" cy="293.29" r="1.45" fill="#FF0000" stroke="none" stroke-width="0" />
<circle cx="507.65" cy="292.57" r="1.45" fill="#FF0000" stroke="none" stroke-width="0" />
<circle cx="506.18" cy="281.74" r="1.45" fill="#FF0000" stroke="none" stroke-width="0" />
<circle cx="503.22" cy="280.30" r="1.45" fill="#FF0000" stroke="none" stroke-width="0" />
<circle cx="437.44" cy="230.98" r="1.50" fill="#0000FF" stroke="none" stroke-width="0" />
<text x="428.40" y="224.70" font-size="8.7" text-anchor="start" font-weight="normal" fill="#0000FF" >Apoe</text>
<circle cx="431.83" cy="257.91" r="1.50" fill="#0000FF" stroke="none" stroke-width="0" />
<text x="433.50" y="252.00" font-size="8.7" text-anchor="start" font-weight="normal" fill="#0000FF" >Pltp</text>
<circle cx="449.24" cy="267.16" r="1.50" fill="#0000FF" stroke="none" stroke-width="0" />
<text x="451.50" y="265.00" font-size="8.7" text-anchor="start" font-weight="normal" fill="#0000FF" >Igf1</text>
<circle cx="461.33" cy="286.07" r="1.50" fill="#0000FF" stroke="none" stroke-width="0" />
<text x="462.70" y="285.10" font-size="8.7" text-anchor="start" font-weight="normal" fill="#0000FF" >Abca1</text>
<text x="541.80" y="169.70" font-size="12.3" text-anchor="start" font-weight="bold" fill="#000" >H</text>
<text x="564.40" y="184.40" font-size="9.27" text-anchor="start" font-weight="normal" fill="#000" >Igf1 - Igf1r signaling netw</text>
<text x="581.20" y="198.00" font-size="9.1" text-anchor="middle" font-weight="normal" fill="#000" >Source</text>
<text x="620.30" y="198.00" font-size="9.1" text-anchor="middle" font-weight="normal" fill="#000" >Target</text>
<text x="644.70" y="198.00" font-size="9.1" text-anchor="start" font-weight="normal" fill="#000" >Sourc</text>
<line x1="578.20" y1="203.20" x2="620.50" y2="203.20" stroke="#E9A3D2" stroke-width="0.9" />
<line x1="621.60" y1="203.20" x2="661.70" y2="203.20" stroke="#9FC1BF" stroke-width="0.9" />
<line x1="580.90" y1="260.40" x2="621.30" y2="234.20" stroke="#8CCB86" stroke-width="0.8" />
<line x1="580.90" y1="260.40" x2="621.30" y2="286.40" stroke="#5DB35A" stroke-width="1.5" />
<line x1="580.90" y1="286.40" x2="621.30" y2="286.40" stroke="#C193CC" stroke-width="2.4" />
<text x="572.70" y="211.80" font-size="9.1" text-anchor="end" font-weight="normal" fill="#000" >Epithelia</text>
<circle cx="580.90" cy="208.60" r="3.20" fill="#E41A1C" stroke="none" stroke-width="0" />
<circle cx="621.30" cy="208.60" r="2.90" fill="#fff" stroke="#E41A1C" stroke-width="1.2" />
<text x="572.70" y="237.40" font-size="9.1" text-anchor="end" font-weight="normal" fill="#000" >Fib</text>
<circle cx="580.90" cy="234.20" r="3.20" fill="#377EB8" stroke="none" stroke-width="0" />
<circle cx="621.30" cy="234.20" r="2.90" fill="#fff" stroke="#377EB8" stroke-width="1.2" />
<text x="572.70" y="263.60" font-size="9.1" text-anchor="end" font-weight="normal" fill="#000" >HF</text>
<circle cx="580.90" cy="260.40" r="3.20" fill="#4DAF4A" stroke="none" stroke-width="0" />
<circle cx="621.30" cy="260.40" r="2.90" fill="#fff" stroke="#4DAF4A" stroke-width="1.2" />
<text x="572.70" y="289.60" font-size="9.1" text-anchor="end" font-weight="normal" fill="#000" >Mel</text>
<circle cx="580.90" cy="286.40" r="3.20" fill="#984EA3" stroke="none" stroke-width="0" />
<circle cx="621.30" cy="286.40" r="2.90" fill="#fff" stroke="#984EA3" stroke-width="1.2" />
<circle cx="659.20" cy="208.60" r="3.20" fill="#FF7F00" stroke="none" stroke-width="0" />
<circle cx="659.40" cy="286.40" r="3.20" fill="#F781BF" stroke="none" stroke-width="0" />
<text x="0.00" y="383.80" font-size="12" text-anchor="start" font-weight="bold" fill="#000" >I</text>
<text x="66.70" y="384.20" font-size="13.8" text-anchor="middle" font-weight="normal" fill="#000" >Control</text>
<text x="66.90" y="479.30" font-size="13.6" text-anchor="middle" font-weight="normal" fill="#000" >+100 ng/ml IGF</text>
<rect x="12.4" y="387" width="108" height="80.5" fill="url(#tl)" filter="url(#micro)"/>
<rect x="12.4" y="481.7" width="108" height="80.9" fill="url(#tl)" filter="url(#micro)"/>
<line x1="104.00" y1="462.50" x2="118.00" y2="462.50" stroke="#fff" stroke-width="1.2" />
<line x1="104.00" y1="557.00" x2="118.40" y2="557.00" stroke="#fff" stroke-width="1.2" />
<text x="127.50" y="383.80" font-size="12" text-anchor="start" font-weight="bold" fill="#000" >J</text>
<line x1="189.50" y1="400.20" x2="189.50" y2="500.90" stroke="#222" stroke-width="1.2" />
<line x1="184.90" y1="500.90" x2="249.30" y2="500.90" stroke="#222" stroke-width="1.2" />
<line x1="184.90" y1="500.90" x2="189.50" y2="500.90" stroke="#222" stroke-width="1.2" />
<text x="182.00" y="506.00" font-size="11.2" text-anchor="end" font-weight="normal" fill="#000" >0</text>
<line x1="184.90" y1="475.85" x2="189.50" y2="475.85" stroke="#222" stroke-width="1.2" />
<text x="182.00" y="480.95" font-size="11.2" text-anchor="end" font-weight="normal" fill="#000" >2</text>
<line x1="184.90" y1="450.80" x2="189.50" y2="450.80" stroke="#222" stroke-width="1.2" />
<text x="182.00" y="455.90" font-size="11.2" text-anchor="end" font-weight="normal" fill="#000" >4</text>
<line x1="184.90" y1="425.75" x2="189.50" y2="425.75" stroke="#222" stroke-width="1.2" />
<text x="182.00" y="430.85" font-size="11.2" text-anchor="end" font-weight="normal" fill="#000" >6</text>
<line x1="184.90" y1="400.70" x2="189.50" y2="400.70" stroke="#222" stroke-width="1.2" />
<text x="182.00" y="405.80" font-size="11.2" text-anchor="end" font-weight="normal" fill="#000" >8</text>
<line x1="206.30" y1="500.90" x2="206.30" y2="504.70" stroke="#222" stroke-width="1.2" />
<line x1="231.90" y1="500.90" x2="231.90" y2="504.70" stroke="#222" stroke-width="1.2" />
<text x="219.80" y="396.30" font-size="10.1" text-anchor="middle" font-weight="normal" fill="#000" >0.0091</text>
<line x1="206.00" y1="399.90" x2="232.60" y2="399.90" stroke="#000" stroke-width="1.2" />
<text x="154.30" y="451.00" font-size="13.3" text-anchor="middle" font-weight="normal" fill="#000" transform="rotate(-90 154.3 451)">Melanin Area</text>
<text x="167.30" y="450.50" font-size="13.4" text-anchor="middle" font-weight="normal" fill="#000" transform="rotate(-90 167.3 450.5)">(A.U. ,x10,000)</text>
<circle cx="231.90" cy="411.60" r="2.80" fill="#000" stroke="none" stroke-width="0" />
<circle cx="237.30" cy="465.80" r="2.80" fill="#000" stroke="none" stroke-width="0" />
<circle cx="226.50" cy="471.00" r="2.80" fill="#000" stroke="none" stroke-width="0" />
<circle cx="232.30" cy="471.00" r="2.80" fill="#000" stroke="none" stroke-width="0" />
<circle cx="237.80" cy="475.20" r="2.80" fill="#000" stroke="none" stroke-width="0" />
<circle cx="227.20" cy="479.20" r="2.80" fill="#000" stroke="none" stroke-width="0" />
<line x1="223.60" y1="462.30" x2="241.30" y2="462.30" stroke="#000" stroke-width="1.1" />
<line x1="232.60" y1="452.60" x2="232.60" y2="470.00" stroke="#000" stroke-width="1.1" />
<line x1="228.60" y1="452.60" x2="236.60" y2="452.60" stroke="#000" stroke-width="1.1" />
<circle cx="199.30" cy="497.80" r="2.80" fill="#000" stroke="none" stroke-width="0" />
<circle cx="203.20" cy="494.20" r="2.80" fill="#000" stroke="none" stroke-width="0" />
<circle cx="207.40" cy="497.00" r="2.80" fill="#000" stroke="none" stroke-width="0" />
<circle cx="211.90" cy="492.80" r="2.80" fill="#000" stroke="none" stroke-width="0" />
<circle cx="211.90" cy="498.70" r="2.80" fill="#000" stroke="none" stroke-width="0" />
<circle cx="204.00" cy="498.50" r="2.80" fill="#000" stroke="none" stroke-width="0" />
<line x1="200.00" y1="496.50" x2="213.00" y2="496.50" stroke="#000" stroke-width="1.0" />
<text x="217.50" y="514.70" font-size="13.6" text-anchor="end" font-weight="normal" fill="#000" transform="rotate(-28 217.5 514.7)">Control</text>
<text x="258.40" y="514.10" font-size="13.6" text-anchor="end" font-weight="normal" fill="#000" transform="rotate(-29.5 258.4 514.1)">+ 100 ng/ml IGF</text>
<text x="275.00" y="355.60" font-size="12" text-anchor="start" font-weight="bold" fill="#000" >K</text>
<rect x="340.20" y="408.00" width="20.90" height="41.90" fill="#D59FF8" stroke="none" stroke-width="0" />
<rect x="361.10" y="366.00" width="20.90" height="42.00" fill="#E3BAFA" stroke="none" stroke-width="0" />
<rect x="361.10" y="408.00" width="20.90" height="41.90" fill="#E1B5FA" stroke="none" stroke-width="0" />
<rect x="340.20" y="449.90" width="20.90" height="41.00" fill="#A01EEE" stroke="none" stroke-width="0" />
<defs><linearGradient id="kg" x1="0" y1="0" x2="0" y2="1"><stop offset="0" stop-color="#A020F0"/><stop offset="1" stop-color="#FFFFFF"/></linearGradient></defs>
<rect x="394.00" y="367.40" width="15.80" height="79.70" fill="url(#kg)" stroke="none" stroke-width="0" />
<text x="411.90" y="386.70" font-size="7.9" text-anchor="start" font-weight="normal" fill="#000" >0.15</text>
<text x="411.90" y="408.30" font-size="7.9" text-anchor="start" font-weight="normal" fill="#000" >0.10</text>
<text x="411.90" y="429.90" font-size="7.9" text-anchor="start" font-weight="normal" fill="#000" >0.05</text>
<text x="411.90" y="451.00" font-size="7.9" text-anchor="start" font-weight="normal" fill="#000" >0.00</text>
<text x="386.80" y="470.00" font-size="11.6" text-anchor="start" font-weight="normal" fill="#000" >Regulatory</text>
<text x="386.80" y="481.10" font-size="11.6" text-anchor="start" font-weight="normal" fill="#000" >potential</text>
<text x="329.66" y="388.42" font-size="14" text-anchor="middle" font-weight="normal" fill="#000" transform="rotate(-62 329.66 388.42)">Apoe</text>
<text x="329.66" y="429.62" font-size="14" text-anchor="middle" font-weight="normal" fill="#000" transform="rotate(-62 329.66 429.62)">Abca1</text>
<text x="329.66" y="472.02" font-size="14" text-anchor="middle" font-weight="normal" fill="#000" transform="rotate(-62 329.66 472.02)">Pltp</text>
<text x="290.00" y="444.00" font-size="13.2" text-anchor="middle" font-weight="normal" fill="#000" transform="rotate(-90 290 444)">HF - receiver</text>
<text x="303.90" y="442.30" font-size="12.3" text-anchor="middle" font-weight="normal" fill="#000" transform="rotate(-90 303.9 442.3)">Target genes</text>
<text x="353.39" y="507.83" font-size="14" text-anchor="middle" font-weight="normal" fill="#000" transform="rotate(-32 353.39 507.83)">Il10</text>
<text x="374.29" y="511.53" font-size="14" text-anchor="middle" font-weight="normal" fill="#000" transform="rotate(-32 374.29 511.53)">Tnfsf9</text>
<text x="373.20" y="533.40" font-size="12.5" text-anchor="middle" font-weight="normal" fill="#000" >Ligands</text>
<text x="333.60" y="548.70" font-size="12.6" text-anchor="middle" font-weight="normal" fill="#000" >Treg</text>
<text x="332.30" y="566.50" font-size="13.4" text-anchor="middle" font-weight="normal" fill="#000" >Sender</text>
<path d="M387.25,555.70 L388.44,557.08 L386.92,558.21 L386.63,559.43 L386.54,560.74 L385.86,561.83 L385.96,563.35 L384.42,563.91 L384.74,565.80 L383.76,566.76 L381.77,566.51 L381.35,568.05 L379.85,568.08 L378.86,568.90 L377.78,569.65 L376.56,570.11 L375.29,570.42 L374.07,571.41 L372.70,570.27 L371.44,570.08 L370.04,570.77 L368.61,570.97 L367.31,570.51 L366.07,569.91 L365.59,568.01 L363.65,568.63 L362.89,567.40 L361.62,566.78 L361.34,565.24 L360.83,564.01 L359.25,563.46 L358.84,562.16 L358.13,561.00 L358.73,559.44 L358.58,558.19 L357.28,557.05 L358.56,555.70 L356.96,554.32 L358.57,553.21 L358.04,551.77 L358.74,550.62 L359.39,549.49 L360.22,548.50 L360.00,546.81 L360.64,545.58 L361.80,544.80 L362.94,544.07 L363.88,543.10 L365.17,542.65 L366.32,542.01 L367.32,540.92 L368.92,541.59 L370.18,541.42 L371.32,539.96 L372.70,539.90 L374.00,540.80 L375.40,540.39 L376.70,540.79 L378.11,540.84 L378.72,542.79 L380.56,542.09 L381.30,543.41 L382.28,544.28 L383.54,544.86 L384.35,545.92 L384.89,547.16 L385.36,548.39 L386.98,549.04 L387.33,550.37 L386.50,552.00 L387.30,553.13 L388.12,554.35 Z" fill="#DDE3F5" stroke="#4474B6" stroke-width="1.0" stroke-linejoin="round"/>
<circle cx="372.40" cy="555.90" r="10.90" fill="#6A8FD0" stroke="none" stroke-width="0" />
<circle cx="370.00" cy="552.00" r="0.80" fill="#4F78BC" stroke="none" stroke-width="0" />
<circle cx="374.50" cy="549.00" r="0.70" fill="#4F78BC" stroke="none" stroke-width="0" />
<circle cx="369.00" cy="559.00" r="0.70" fill="#4F78BC" stroke="none" stroke-width="0" />
<text x="485.40" y="369.40" font-size="12" text-anchor="start" font-weight="bold" fill="#000" >L</text>
<text x="550.80" y="381.00" font-size="9.5" text-anchor="middle" font-weight="normal" fill="#000" >SDLN Treg</text>
<text x="627.40" y="381.00" font-size="9.3" text-anchor="middle" font-weight="normal" fill="#000" >Skin Treg</text>
<line x1="524.50" y1="515.30" x2="644.00" y2="515.30" stroke="#EBEBEB" stroke-width="0.7" />
<line x1="524.50" y1="482.40" x2="644.00" y2="482.40" stroke="#EBEBEB" stroke-width="0.7" />
<line x1="524.50" y1="449.50" x2="644.00" y2="449.50" stroke="#EBEBEB" stroke-width="0.7" />
<line x1="524.50" y1="416.60" x2="644.00" y2="416.60" stroke="#EBEBEB" stroke-width="0.7" />
<line x1="524.50" y1="498.85" x2="644.00" y2="498.85" stroke="#F4F4F4" stroke-width="0.5" />
<line x1="524.50" y1="465.95" x2="644.00" y2="465.95" stroke="#F4F4F4" stroke-width="0.5" />
<line x1="524.50" y1="433.05" x2="644.00" y2="433.05" stroke="#F4F4F4" stroke-width="0.5" />
<line x1="524.50" y1="400.15" x2="644.00" y2="400.15" stroke="#F4F4F4" stroke-width="0.5" />
<line x1="538.40" y1="385.00" x2="538.40" y2="523.00" stroke="#EBEBEB" stroke-width="0.7" />
<line x1="563.80" y1="385.00" x2="563.80" y2="523.00" stroke="#EBEBEB" stroke-width="0.7" />
<line x1="589.20" y1="385.00" x2="589.20" y2="523.00" stroke="#EBEBEB" stroke-width="0.7" />
<line x1="614.60" y1="385.00" x2="614.60" y2="523.00" stroke="#EBEBEB" stroke-width="0.7" />
<line x1="640.00" y1="385.00" x2="640.00" y2="523.00" stroke="#EBEBEB" stroke-width="0.7" />
<line x1="525.70" y1="385.00" x2="525.70" y2="523.00" stroke="#F4F4F4" stroke-width="0.5" />
<line x1="551.10" y1="385.00" x2="551.10" y2="523.00" stroke="#F4F4F4" stroke-width="0.5" />
<line x1="576.50" y1="385.00" x2="576.50" y2="523.00" stroke="#F4F4F4" stroke-width="0.5" />
<line x1="601.90" y1="385.00" x2="601.90" y2="523.00" stroke="#F4F4F4" stroke-width="0.5" />
<line x1="627.30" y1="385.00" x2="627.30" y2="523.00" stroke="#F4F4F4" stroke-width="0.5" />
<text x="521.50" y="518.30" font-size="8.3" text-anchor="end" font-weight="normal" fill="#000" >0</text>
<text x="521.50" y="485.40" font-size="8.3" text-anchor="end" font-weight="normal" fill="#000" >50</text>
<text x="521.50" y="452.50" font-size="8.3" text-anchor="end" font-weight="normal" fill="#000" >100</text>
<text x="521.50" y="419.60" font-size="8.3" text-anchor="end" font-weight="normal" fill="#000" >150</text>
<text x="538.40" y="528.80" font-size="8.3" text-anchor="middle" font-weight="normal" fill="#000" >-10</text>
<text x="563.80" y="528.80" font-size="8.3" text-anchor="middle" font-weight="normal" fill="#000" >0</text>
<text x="589.20" y="528.80" font-size="8.3" text-anchor="middle" font-weight="normal" fill="#000" >10</text>
<text x="614.60" y="528.80" font-size="8.3" text-anchor="middle" font-weight="normal" fill="#000" >20</text>
<text x="640.00" y="528.80" font-size="8.3" text-anchor="middle" font-weight="normal" fill="#000" >30</text>
<text x="579.40" y="542.20" font-size="9.5" text-anchor="middle" font-weight="normal" fill="#000" >log2 Fold Change</text>
<text x="502.00" y="455.40" font-size="9.6" text-anchor="middle" font-weight="normal" fill="#000" transform="rotate(-90 502 455.4)">−log10 Adjusted P−value</text>
<circle cx="538.82" cy="500.96" r="1.50" fill="#FF0000" stroke="none" stroke-width="0" />
<circle cx="539.48" cy="513.20" r="1.50" fill="#FF0000" stroke="none" stroke-width="0" />
<circle cx="536.45" cy="496.57" r="1.50" fill="#FF0000" stroke="none" stroke-width="0" />
<circle cx="529.65" cy="507.75" r="1.50" fill="#FF0000" stroke="none" stroke-width="0" />
<circle cx="540.13" cy="512.35" r="1.50" fill="#FF0000" stroke="none" stroke-width="0" />
<circle cx="532.99" cy="506.98" r="1.50" fill="#FF0000" stroke="none" stroke-width="0" />
<circle cx="531.32" cy="504.25" r="1.50" fill="#FF0000" stroke="none" stroke-width="0" />
<circle cx="532.35" cy="507.68" r="1.50" fill="#FF0000" stroke="none" stroke-width="0" />
<circle cx="535.50" cy="493.37" r="1.50" fill="#FF0000" stroke="none" stroke-width="0" />
<circle cx="531.00" cy="502.74" r="1.50" fill="#FF0000" stroke="none" stroke-width="0" />
<circle cx="533.77" cy="508.87" r="1.50" fill="#FF0000" stroke="none" stroke-width="0" />
<circle cx="536.93" cy="509.32" r="1.50" fill="#FF0000" stroke="none" stroke-width="0" />
<circle cx="529.22" cy="502.49" r="1.50" fill="#FF0000" stroke="none" stroke-width="0" />
<circle cx="528.80" cy="503.71" r="1.50" fill="#FF0000" stroke="none" stroke-width="0" />
<circle cx="534.54" cy="508.14" r="1.50" fill="#FF0000" stroke="none" stroke-width="0" />
<circle cx="554.44" cy="504.49" r="1.50" fill="#FF0000" stroke="none" stroke-width="0" />
<circle cx="533.19" cy="504.00" r="1.50" fill="#FF0000" stroke="none" stroke-width="0" />
<circle cx="544.07" cy="508.74" r="1.50" fill="#FF0000" stroke="none" stroke-width="0" />
<circle cx="553.80" cy="514.06" r="1.50" fill="#FF0000" stroke="none" stroke-width="0" />
<circle cx="542.95" cy="502.84" r="1.50" fill="#FF0000" stroke="none" stroke-width="0" />
<circle cx="538.91" cy="500.63" r="1.50" fill="#FF0000" stroke="none" stroke-width="0" />
<circle cx="544.27" cy="505.70" r="1.50" fill="#FF0000" stroke="none" stroke-width="0" />
<circle cx="529.50" cy="500.11" r="1.50" fill="#FF0000" stroke="none" stroke-width="0" />
<circle cx="540.24" cy="501.58" r="1.50" fill="#FF0000" stroke="none" stroke-width="0" />
<circle cx="550.03" cy="512.09" r="1.50" fill="#FF0000" stroke="none" stroke-width="0" />
<circle cx="548.59" cy="503.48" r="1.50" fill="#FF0000" stroke="none" stroke-width="0" />
<circle cx="535.35" cy="511.92" r="1.50" fill="#FF0000" stroke="none" stroke-width="0" />
<circle cx="541.52" cy="495.38" r="1.50" fill="#FF0000" stroke="none" stroke-width="0" />
<circle cx="547.98" cy="504.80" r="1.50" fill="#FF0000" stroke="none" stroke-width="0" />
<circle cx="527.41" cy="495.62" r="1.50" fill="#FF0000" stroke="none" stroke-width="0" />
<circle cx="538.26" cy="509.44" r="1.50" fill="#FF0000" stroke="none" stroke-width="0" />
<circle cx="526.21" cy="499.87" r="1.50" fill="#FF0000" stroke="none" stroke-width="0" />
<circle cx="548.05" cy="509.70" r="1.50" fill="#FF0000" stroke="none" stroke-width="0" />
<circle cx="547.37" cy="509.93" r="1.50" fill="#FF0000" stroke="none" stroke-width="0" />
<circle cx="539.29" cy="506.30" r="1.50" fill="#FF0000" stroke="none" stroke-width="0" />
<circle cx="529.50" cy="505.40" r="1.50" fill="#FF0000" stroke="none" stroke-width="0" />
<circle cx="535.68" cy="509.08" r="1.50" fill="#FF0000" stroke="none" stroke-width="0" />
<circle cx="536.46" cy="497.18" r="1.50" fill="#FF0000" stroke="none" stroke-width="0" />
<circle cx="531.75" cy="492.97" r="1.50" fill="#FF0000" stroke="none" stroke-width="0" />
<circle cx="552.51" cy="507.65" r="1.50" fill="#FF0000" stroke="none" stroke-width="0" />
<circle cx="544.10" cy="494.24" r="1.50" fill="#FF0000" stroke="none" stroke-width="0" />
<circle cx="548.22" cy="503.39" r="1.50" fill="#FF0000" stroke="none" stroke-width="0" />
<circle cx="555.44" cy="511.69" r="1.50" fill="#FF0000" stroke="none" stroke-width="0" />
<circle cx="536.01" cy="514.17" r="1.50" fill="#FF0000" stroke="none" stroke-width="0" />
<circle cx="548.86" cy="513.44" r="1.50" fill="#FF0000" stroke="none" stroke-width="0" />
<circle cx="538.07" cy="501.48" r="1.50" fill="#FF0000" stroke="none" stroke-width="0" />
<circle cx="547.25" cy="501.55" r="1.50" fill="#FF0000" stroke="none" stroke-width="0" />
<circle cx="541.55" cy="510.36" r="1.50" fill="#FF0000" stroke="none" stroke-width="0" />
<circle cx="535.54" cy="493.36" r="1.50" fill="#FF0000" stroke="none" stroke-width="0" />
<circle cx="532.05" cy="507.08" r="1.50" fill="#FF0000" stroke="none" stroke-width="0" />
<circle cx="537.04" cy="514.20" r="1.50" fill="#FF0000" stroke="none" stroke-width="0" />
<circle cx="531.85" cy="503.27" r="1.50" fill="#FF0000" stroke="none" stroke-width="0" />
<circle cx="543.03" cy="504.73" r="1.50" fill="#FF0000" stroke="none" stroke-width="0" />
<circle cx="529.88" cy="496.44" r="1.50" fill="#FF0000" stroke="none" stroke-width="0" />
<circle cx="528.15" cy="499.07" r="1.50" fill="#FF0000" stroke="none" stroke-width="0" />
<circle cx="538.57" cy="493.28" r="1.50" fill="#FF0000" stroke="none" stroke-width="0" />
<circle cx="535.08" cy="500.79" r="1.50" fill="#FF0000" stroke="none" stroke-width="0" />
<circle cx="538.08" cy="491.51" r="1.50" fill="#FF0000" stroke="none" stroke-width="0" />
<circle cx="540.55" cy="506.04" r="1.50" fill="#FF0000" stroke="none" stroke-width="0" />
<circle cx="543.13" cy="501.57" r="1.50" fill="#FF0000" stroke="none" stroke-width="0" />
<circle cx="539.03" cy="506.78" r="1.50" fill="#FF0000" stroke="none" stroke-width="0" />
<circle cx="544.49" cy="503.44" r="1.50" fill="#FF0000" stroke="none" stroke-width="0" />
<circle cx="537.31" cy="498.96" r="1.50" fill="#FF0000" stroke="none" stroke-width="0" />
<circle cx="532.27" cy="502.36" r="1.50" fill="#FF0000" stroke="none" stroke-width="0" />
<circle cx="541.34" cy="491.99" r="1.50" fill="#FF0000" stroke="none" stroke-width="0" />
<circle cx="530.22" cy="508.85" r="1.50" fill="#FF0000" stroke="none" stroke-width="0" />
<circle cx="526.91" cy="495.02" r="1.50" fill="#FF0000" stroke="none" stroke-width="0" />
<circle cx="542.23" cy="495.07" r="1.50" fill="#FF0000" stroke="none" stroke-width="0" />
<circle cx="548.24" cy="511.33" r="1.50" fill="#FF0000" stroke="none" stroke-width="0" />
<circle cx="534.07" cy="504.59" r="1.50" fill="#FF0000" stroke="none" stroke-width="0" />
<circle cx="531.33" cy="495.10" r="1.50" fill="#FF0000" stroke="none" stroke-width="0" />
<circle cx="527.43" cy="506.67" r="1.50" fill="#FF0000" stroke="none" stroke-width="0" />
<circle cx="526.21" cy="503.10" r="1.50" fill="#FF0000" stroke="none" stroke-width="0" />
<circle cx="557.59" cy="509.96" r="1.50" fill="#FF0000" stroke="none" stroke-width="0" />
<circle cx="538.69" cy="507.24" r="1.50" fill="#FF0000" stroke="none" stroke-width="0" />
<circle cx="544.05" cy="493.73" r="1.50" fill="#FF0000" stroke="none" stroke-width="0" />
<circle cx="554.85" cy="506.14" r="1.50" fill="#FF0000" stroke="none" stroke-width="0" />
<circle cx="559.25" cy="509.24" r="1.50" fill="#FF0000" stroke="none" stroke-width="0" />
<circle cx="528.90" cy="503.26" r="1.50" fill="#FF0000" stroke="none" stroke-width="0" />
<circle cx="539.91" cy="514.38" r="1.50" fill="#FF0000" stroke="none" stroke-width="0" />
<circle cx="536.64" cy="511.57" r="1.50" fill="#FF0000" stroke="none" stroke-width="0" />
<circle cx="529.71" cy="504.89" r="1.50" fill="#FF0000" stroke="none" stroke-width="0" />
<circle cx="559.94" cy="514.47" r="1.50" fill="#FF0000" stroke="none" stroke-width="0" />
<circle cx="536.37" cy="506.11" r="1.50" fill="#FF0000" stroke="none" stroke-width="0" />
<circle cx="556.18" cy="513.89" r="1.50" fill="#FF0000" stroke="none" stroke-width="0" />
<circle cx="539.60" cy="491.89" r="1.50" fill="#FF0000" stroke="none" stroke-width="0" />
<circle cx="528.93" cy="496.75" r="1.50" fill="#FF0000" stroke="none" stroke-width="0" />
<circle cx="551.30" cy="502.60" r="1.50" fill="#FF0000" stroke="none" stroke-width="0" />
<circle cx="536.93" cy="503.67" r="1.50" fill="#FF0000" stroke="none" stroke-width="0" />
<circle cx="526.42" cy="501.99" r="1.50" fill="#FF0000" stroke="none" stroke-width="0" />
<circle cx="546.18" cy="513.17" r="1.50" fill="#FF0000" stroke="none" stroke-width="0" />
<circle cx="543.42" cy="511.44" r="1.50" fill="#FF0000" stroke="none" stroke-width="0" />
<circle cx="549.33" cy="505.42" r="1.50" fill="#FF0000" stroke="none" stroke-width="0" />
<circle cx="528.30" cy="505.99" r="1.50" fill="#FF0000" stroke="none" stroke-width="0" />
<circle cx="542.58" cy="499.21" r="1.50" fill="#FF0000" stroke="none" stroke-width="0" />
<circle cx="541.55" cy="505.67" r="1.50" fill="#FF0000" stroke="none" stroke-width="0" />
<circle cx="538.70" cy="492.72" r="1.50" fill="#FF0000" stroke="none" stroke-width="0" />
<circle cx="544.50" cy="494.63" r="1.50" fill="#FF0000" stroke="none" stroke-width="0" />
<circle cx="546.59" cy="507.17" r="1.50" fill="#FF0000" stroke="none" stroke-width="0" />
<circle cx="534.97" cy="500.45" r="1.50" fill="#FF0000" stroke="none" stroke-width="0" />
<circle cx="526.21" cy="499.51" r="1.50" fill="#FF0000" stroke="none" stroke-width="0" />
<circle cx="537.61" cy="514.75" r="1.50" fill="#FF0000" stroke="none" stroke-width="0" />
<circle cx="534.63" cy="501.33" r="1.50" fill="#FF0000" stroke="none" stroke-width="0" />
<circle cx="533.31" cy="505.48" r="1.50" fill="#FF0000" stroke="none" stroke-width="0" />
<circle cx="539.39" cy="504.51" r="1.50" fill="#FF0000" stroke="none" stroke-width="0" />
<circle cx="547.43" cy="507.67" r="1.50" fill="#FF0000" stroke="none" stroke-width="0" />
<circle cx="555.88" cy="512.10" r="1.50" fill="#FF0000" stroke="none" stroke-width="0" />
<circle cx="533.99" cy="507.86" r="1.50" fill="#FF0000" stroke="none" stroke-width="0" />
<circle cx="539.63" cy="502.16" r="1.50" fill="#FF0000" stroke="none" stroke-width="0" />
<circle cx="544.51" cy="501.69" r="1.50" fill="#FF0000" stroke="none" stroke-width="0" />
<circle cx="538.11" cy="503.11" r="1.50" fill="#FF0000" stroke="none" stroke-width="0" />
<circle cx="536.68" cy="512.72" r="1.50" fill="#FF0000" stroke="none" stroke-width="0" />
<circle cx="536.77" cy="511.36" r="1.50" fill="#FF0000" stroke="none" stroke-width="0" />
<circle cx="536.29" cy="494.60" r="1.50" fill="#FF0000" stroke="none" stroke-width="0" />
<circle cx="547.47" cy="499.10" r="1.50" fill="#FF0000" stroke="none" stroke-width="0" />
<circle cx="550.47" cy="503.99" r="1.50" fill="#FF0000" stroke="none" stroke-width="0" />
<circle cx="533.91" cy="507.36" r="1.50" fill="#FF0000" stroke="none" stroke-width="0" />
<circle cx="533.35" cy="501.08" r="1.50" fill="#FF0000" stroke="none" stroke-width="0" />
<circle cx="541.63" cy="512.40" r="1.50" fill="#FF0000" stroke="none" stroke-width="0" />
<circle cx="535.34" cy="499.80" r="1.50" fill="#FF0000" stroke="none" stroke-width="0" />
<circle cx="532.62" cy="497.99" r="1.50" fill="#FF0000" stroke="none" stroke-width="0" />
<circle cx="535.17" cy="505.49" r="1.50" fill="#FF0000" stroke="none" stroke-width="0" />
<circle cx="541.91" cy="507.98" r="1.50" fill="#FF0000" stroke="none" stroke-width="0" />
<circle cx="528.96" cy="495.70" r="1.50" fill="#FF0000" stroke="none" stroke-width="0" />
<circle cx="530.75" cy="506.44" r="1.50" fill="#FF0000" stroke="none" stroke-width="0" />
<circle cx="559.48" cy="512.81" r="1.50" fill="#FF0000" stroke="none" stroke-width="0" />
<circle cx="544.28" cy="511.89" r="1.50" fill="#FF0000" stroke="none" stroke-width="0" />
<circle cx="526.21" cy="499.43" r="1.50" fill="#FF0000" stroke="none" stroke-width="0" />
<circle cx="532.67" cy="509.19" r="1.50" fill="#FF0000" stroke="none" stroke-width="0" />
<circle cx="534.54" cy="512.11" r="1.50" fill="#FF0000" stroke="none" stroke-width="0" />
<circle cx="537.80" cy="508.06" r="1.50" fill="#FF0000" stroke="none" stroke-width="0" />
<circle cx="536.82" cy="497.84" r="1.50" fill="#FF0000" stroke="none" stroke-width="0" />
<circle cx="546.96" cy="501.40" r="1.50" fill="#FF0000" stroke="none" stroke-width="0" />
<circle cx="526.88" cy="506.44" r="1.50" fill="#FF0000" stroke="none" stroke-width="0" />
<circle cx="550.77" cy="514.80" r="1.50" fill="#FF0000" stroke="none" stroke-width="0" />
<circle cx="542.83" cy="496.13" r="1.50" fill="#FF0000" stroke="none" stroke-width="0" />
<circle cx="541.50" cy="505.27" r="1.50" fill="#FF0000" stroke="none" stroke-width="0" />
<circle cx="533.53" cy="500.86" r="1.50" fill="#FF0000" stroke="none" stroke-width="0" />
<circle cx="528.74" cy="508.06" r="1.50" fill="#FF0000" stroke="none" stroke-width="0" />
<circle cx="544.24" cy="513.07" r="1.50" fill="#FF0000" stroke="none" stroke-width="0" />
<circle cx="546.01" cy="499.88" r="1.50" fill="#FF0000" stroke="none" stroke-width="0" />
<circle cx="536.68" cy="510.87" r="1.50" fill="#FF0000" stroke="none" stroke-width="0" />
<circle cx="537.73" cy="514.86" r="1.50" fill="#FF0000" stroke="none" stroke-width="0" />
<circle cx="527.49" cy="494.52" r="1.50" fill="#FF0000" stroke="none" stroke-width="0" />
<circle cx="542.74" cy="500.69" r="1.50" fill="#FF0000" stroke="none" stroke-width="0" />
<circle cx="528.22" cy="496.43" r="1.50" fill="#FF0000" stroke="none" stroke-width="0" />
<circle cx="550.44" cy="509.54" r="1.50" fill="#FF0000" stroke="none" stroke-width="0" />
<circle cx="547.25" cy="508.31" r="1.50" fill="#FF0000" stroke="none" stroke-width="0" />
<circle cx="540.62" cy="493.21" r="1.50" fill="#FF0000" stroke="none" stroke-width="0" />
<circle cx="534.02" cy="492.46" r="1.50" fill="#FF0000" stroke="none" stroke-width="0" />
<circle cx="528.37" cy="507.69" r="1.50" fill="#FF0000" stroke="none" stroke-width="0" />
<circle cx="548.04" cy="502.96" r="1.50" fill="#FF0000" stroke="none" stroke-width="0" />
<circle cx="533.88" cy="499.28" r="1.50" fill="#FF0000" stroke="none" stroke-width="0" />
<circle cx="538.85" cy="505.35" r="1.50" fill="#FF0000" stroke="none" stroke-width="0" />
<circle cx="532.20" cy="500.41" r="1.50" fill="#FF0000" stroke="none" stroke-width="0" />
<circle cx="535.50" cy="502.80" r="1.50" fill="#FF0000" stroke="none" stroke-width="0" />
<circle cx="541.69" cy="494.62" r="1.50" fill="#FF0000" stroke="none" stroke-width="0" />
<circle cx="546.67" cy="505.99" r="1.50" fill="#FF0000" stroke="none" stroke-width="0" />
<circle cx="546.09" cy="507.59" r="1.50" fill="#FF0000" stroke="none" stroke-width="0" />
<circle cx="545.46" cy="500.31" r="1.50" fill="#FF0000" stroke="none" stroke-width="0" />
<circle cx="532.03" cy="499.13" r="1.50" fill="#FF0000" stroke="none" stroke-width="0" />
<circle cx="529.83" cy="496.39" r="1.50" fill="#FF0000" stroke="none" stroke-width="0" />
<circle cx="534.42" cy="491.52" r="1.50" fill="#FF0000" stroke="none" stroke-width="0" />
<circle cx="532.03" cy="496.23" r="1.50" fill="#FF0000" stroke="none" stroke-width="0" />
<circle cx="541.75" cy="503.19" r="1.50" fill="#FF0000" stroke="none" stroke-width="0" />
<circle cx="551.46" cy="510.15" r="1.50" fill="#FF0000" stroke="none" stroke-width="0" />
<circle cx="545.02" cy="514.63" r="1.50" fill="#FF0000" stroke="none" stroke-width="0" />
<circle cx="538.30" cy="503.46" r="1.50" fill="#FF0000" stroke="none" stroke-width="0" />
<circle cx="545.01" cy="512.46" r="1.50" fill="#FF0000" stroke="none" stroke-width="0" />
<circle cx="528.80" cy="506.84" r="1.50" fill="#FF0000" stroke="none" stroke-width="0" />
<circle cx="539.90" cy="493.16" r="1.50" fill="#FF0000" stroke="none" stroke-width="0" />
<circle cx="528.52" cy="497.64" r="1.50" fill="#FF0000" stroke="none" stroke-width="0" />
<circle cx="543.67" cy="511.84" r="1.50" fill="#FF0000" stroke="none" stroke-width="0" />
<circle cx="544.21" cy="495.76" r="1.50" fill="#FF0000" stroke="none" stroke-width="0" />
<circle cx="533.24" cy="503.84" r="1.50" fill="#FF0000" stroke="none" stroke-width="0" />
<circle cx="547.83" cy="499.56" r="1.50" fill="#FF0000" stroke="none" stroke-width="0" />
<circle cx="542.14" cy="498.48" r="1.50" fill="#FF0000" stroke="none" stroke-width="0" />
<circle cx="544.00" cy="514.69" r="1.50" fill="#FF0000" stroke="none" stroke-width="0" />
<circle cx="551.19" cy="514.50" r="1.50" fill="#FF0000" stroke="none" stroke-width="0" />
<circle cx="545.56" cy="495.79" r="1.50" fill="#FF0000" stroke="none" stroke-width="0" />
<circle cx="529.63" cy="505.48" r="1.50" fill="#FF0000" stroke="none" stroke-width="0" />
<circle cx="541.31" cy="498.16" r="1.50" fill="#FF0000" stroke="none" stroke-width="0" />
<circle cx="554.42" cy="514.82" r="1.50" fill="#FF0000" stroke="none" stroke-width="0" />
<circle cx="557.42" cy="509.06" r="1.50" fill="#FF0000" stroke="none" stroke-width="0" />
<circle cx="538.23" cy="492.97" r="1.50" fill="#FF0000" stroke="none" stroke-width="0" />
<circle cx="532.66" cy="511.06" r="1.50" fill="#FF0000" stroke="none" stroke-width="0" />
<circle cx="541.52" cy="513.32" r="1.50" fill="#FF0000" stroke="none" stroke-width="0" />
<circle cx="536.45" cy="511.75" r="1.50" fill="#FF0000" stroke="none" stroke-width="0" />
<circle cx="543.91" cy="514.43" r="1.50" fill="#FF0000" stroke="none" stroke-width="0" />
<circle cx="539.40" cy="512.98" r="1.50" fill="#FF0000" stroke="none" stroke-width="0" />
<circle cx="538.36" cy="497.67" r="1.50" fill="#FF0000" stroke="none" stroke-width="0" />
<circle cx="535.15" cy="505.62" r="1.50" fill="#FF0000" stroke="none" stroke-width="0" />
<circle cx="533.35" cy="509.83" r="1.50" fill="#FF0000" stroke="none" stroke-width="0" />
<circle cx="544.67" cy="508.11" r="1.50" fill="#FF0000" stroke="none" stroke-width="0" />
<circle cx="547.09" cy="513.58" r="1.50" fill="#FF0000" stroke="none" stroke-width="0" />
<circle cx="542.51" cy="500.65" r="1.50" fill="#FF0000" stroke="none" stroke-width="0" />
<circle cx="545.92" cy="508.17" r="1.50" fill="#FF0000" stroke="none" stroke-width="0" />
<circle cx="541.31" cy="500.72" r="1.50" fill="#FF0000" stroke="none" stroke-width="0" />
<circle cx="541.21" cy="498.20" r="1.50" fill="#FF0000" stroke="none" stroke-width="0" />
<circle cx="546.55" cy="500.51" r="1.50" fill="#FF0000" stroke="none" stroke-width="0" />
<circle cx="527.29" cy="507.14" r="1.50" fill="#FF0000" stroke="none" stroke-width="0" />
<circle cx="533.13" cy="498.50" r="1.50" fill="#FF0000" stroke="none" stroke-width="0" />
<circle cx="534.87" cy="492.52" r="1.50" fill="#FF0000" stroke="none" stroke-width="0" />
<circle cx="545.32" cy="494.47" r="1.50" fill="#FF0000" stroke="none" stroke-width="0" />
<circle cx="538.47" cy="499.48" r="1.50" fill="#FF0000" stroke="none" stroke-width="0" />
<circle cx="526.21" cy="496.47" r="1.50" fill="#FF0000" stroke="none" stroke-width="0" />
<circle cx="531.56" cy="506.68" r="1.50" fill="#FF0000" stroke="none" stroke-width="0" />
<circle cx="547.72" cy="506.50" r="1.50" fill="#FF0000" stroke="none" stroke-width="0" />
<circle cx="553.82" cy="514.16" r="1.50" fill="#FF0000" stroke="none" stroke-width="0" />
<circle cx="532.95" cy="493.97" r="1.50" fill="#FF0000" stroke="none" stroke-width="0" />
<circle cx="545.94" cy="504.91" r="1.50" fill="#FF0000" stroke="none" stroke-width="0" />
<circle cx="535.41" cy="513.74" r="1.50" fill="#FF0000" stroke="none" stroke-width="0" />
<circle cx="534.43" cy="512.22" r="1.50" fill="#FF0000" stroke="none" stroke-width="0" />
<circle cx="537.73" cy="507.44" r="1.50" fill="#FF0000" stroke="none" stroke-width="0" />
<circle cx="532.51" cy="506.72" r="1.50" fill="#FF0000" stroke="none" stroke-width="0" />
<circle cx="538.60" cy="501.41" r="1.50" fill="#FF0000" stroke="none" stroke-width="0" />
<circle cx="547.55" cy="505.82" r="1.50" fill="#FF0000" stroke="none" stroke-width="0" />
<circle cx="547.03" cy="500.17" r="1.50" fill="#FF0000" stroke="none" stroke-width="0" />
<circle cx="547.89" cy="496.94" r="1.50" fill="#FF0000" stroke="none" stroke-width="0" />
<circle cx="535.16" cy="513.66" r="1.50" fill="#FF0000" stroke="none" stroke-width="0" />
<circle cx="541.50" cy="501.88" r="1.50" fill="#FF0000" stroke="none" stroke-width="0" />
<circle cx="543.63" cy="494.16" r="1.50" fill="#FF0000" stroke="none" stroke-width="0" />
<circle cx="548.67" cy="497.82" r="1.50" fill="#FF0000" stroke="none" stroke-width="0" />
<circle cx="540.63" cy="503.51" r="1.50" fill="#FF0000" stroke="none" stroke-width="0" />
<circle cx="529.22" cy="505.70" r="1.50" fill="#FF0000" stroke="none" stroke-width="0" />
<circle cx="536.57" cy="506.25" r="1.50" fill="#FF0000" stroke="none" stroke-width="0" />
<circle cx="557.25" cy="507.64" r="1.50" fill="#FF0000" stroke="none" stroke-width="0" />
<circle cx="542.15" cy="509.34" r="1.50" fill="#FF0000" stroke="none" stroke-width="0" />
<circle cx="537.65" cy="513.56" r="1.50" fill="#FF0000" stroke="none" stroke-width="0" />
<circle cx="544.28" cy="497.36" r="1.50" fill="#FF0000" stroke="none" stroke-width="0" />
<circle cx="541.82" cy="497.04" r="1.50" fill="#FF0000" stroke="none" stroke-width="0" />
<circle cx="538.54" cy="501.21" r="1.50" fill="#FF0000" stroke="none" stroke-width="0" />
<circle cx="543.99" cy="506.53" r="1.50" fill="#FF0000" stroke="none" stroke-width="0" />
<circle cx="533.54" cy="508.60" r="1.50" fill="#FF0000" stroke="none" stroke-width="0" />
<circle cx="528.80" cy="495.07" r="1.50" fill="#FF0000" stroke="none" stroke-width="0" />
<circle cx="548.03" cy="499.25" r="1.50" fill="#FF0000" stroke="none" stroke-width="0" />
<circle cx="555.61" cy="514.29" r="1.50" fill="#FF0000" stroke="none" stroke-width="0" />
<circle cx="532.00" cy="502.32" r="1.50" fill="#FF0000" stroke="none" stroke-width="0" />
<circle cx="537.71" cy="505.57" r="1.50" fill="#FF0000" stroke="none" stroke-width="0" />
<circle cx="530.65" cy="509.53" r="1.50" fill="#FF0000" stroke="none" stroke-width="0" />
<circle cx="543.32" cy="507.18" r="1.50" fill="#FF0000" stroke="none" stroke-width="0" />
<circle cx="542.01" cy="511.45" r="1.50" fill="#FF0000" stroke="none" stroke-width="0" />
<circle cx="543.36" cy="497.76" r="1.50" fill="#FF0000" stroke="none" stroke-width="0" />
<circle cx="556.64" cy="512.65" r="1.50" fill="#FF0000" stroke="none" stroke-width="0" />
<circle cx="534.78" cy="497.55" r="1.50" fill="#FF0000" stroke="none" stroke-width="0" />
<circle cx="540.66" cy="510.25" r="1.50" fill="#FF0000" stroke="none" stroke-width="0" />
<circle cx="540.30" cy="513.90" r="1.50" fill="#FF0000" stroke="none" stroke-width="0" />
<circle cx="558.71" cy="511.69" r="1.50" fill="#FF0000" stroke="none" stroke-width="0" />
<circle cx="539.97" cy="502.77" r="1.50" fill="#FF0000" stroke="none" stroke-width="0" />
<circle cx="541.30" cy="510.12" r="1.50" fill="#FF0000" stroke="none" stroke-width="0" />
<circle cx="543.90" cy="510.90" r="1.50" fill="#FF0000" stroke="none" stroke-width="0" />
<circle cx="541.46" cy="492.75" r="1.50" fill="#FF0000" stroke="none" stroke-width="0" />
<circle cx="533.65" cy="493.87" r="1.50" fill="#FF0000" stroke="none" stroke-width="0" />
<circle cx="535.07" cy="507.95" r="1.50" fill="#FF0000" stroke="none" stroke-width="0" />
<circle cx="540.93" cy="513.81" r="1.50" fill="#FF0000" stroke="none" stroke-width="0" />
<circle cx="529.46" cy="506.34" r="1.50" fill="#FF0000" stroke="none" stroke-width="0" />
<circle cx="536.24" cy="506.62" r="1.50" fill="#FF0000" stroke="none" stroke-width="0" />
<circle cx="545.33" cy="510.70" r="1.50" fill="#FF0000" stroke="none" stroke-width="0" />
<circle cx="554.55" cy="514.91" r="1.50" fill="#FF0000" stroke="none" stroke-width="0" />
<circle cx="543.43" cy="514.88" r="1.50" fill="#FF0000" stroke="none" stroke-width="0" />
<circle cx="540.79" cy="506.26" r="1.50" fill="#FF0000" stroke="none" stroke-width="0" />
<circle cx="531.24" cy="501.43" r="1.50" fill="#FF0000" stroke="none" stroke-width="0" />
<circle cx="538.46" cy="492.87" r="1.50" fill="#FF0000" stroke="none" stroke-width="0" />
<circle cx="530.76" cy="503.86" r="1.50" fill="#FF0000" stroke="none" stroke-width="0" />
<circle cx="558.20" cy="513.39" r="1.50" fill="#FF0000" stroke="none" stroke-width="0" />
<circle cx="556.57" cy="513.03" r="1.50" fill="#FF0000" stroke="none" stroke-width="0" />
<circle cx="528.31" cy="506.66" r="1.50" fill="#FF0000" stroke="none" stroke-width="0" />
<circle cx="538.50" cy="500.74" r="1.50" fill="#FF0000" stroke="none" stroke-width="0" />
<circle cx="539.90" cy="514.63" r="1.50" fill="#FF0000" stroke="none" stroke-width="0" />
<circle cx="537.26" cy="495.20" r="1.50" fill="#FF0000" stroke="none" stroke-width="0" />
<circle cx="549.80" cy="511.83" r="1.50" fill="#FF0000" stroke="none" stroke-width="0" />
<circle cx="539.03" cy="495.85" r="1.50" fill="#FF0000" stroke="none" stroke-width="0" />
<circle cx="542.34" cy="511.20" r="1.50" fill="#FF0000" stroke="none" stroke-width="0" />
<circle cx="542.12" cy="511.66" r="1.50" fill="#FF0000" stroke="none" stroke-width="0" />
<circle cx="529.85" cy="494.77" r="1.50" fill="#FF0000" stroke="none" stroke-width="0" />
<circle cx="533.47" cy="501.36" r="1.50" fill="#FF0000" stroke="none" stroke-width="0" />
<circle cx="526.21" cy="498.16" r="1.50" fill="#FF0000" stroke="none" stroke-width="0" />
<circle cx="541.21" cy="497.86" r="1.50" fill="#FF0000" stroke="none" stroke-width="0" />
<circle cx="547.83" cy="514.66" r="1.50" fill="#FF0000" stroke="none" stroke-width="0" />
<circle cx="528.11" cy="504.18" r="1.50" fill="#FF0000" stroke="none" stroke-width="0" />
<circle cx="540.63" cy="500.30" r="1.50" fill="#FF0000" stroke="none" stroke-width="0" />
<circle cx="539.51" cy="502.32" r="1.50" fill="#FF0000" stroke="none" stroke-width="0" />
<circle cx="542.26" cy="506.47" r="1.50" fill="#FF0000" stroke="none" stroke-width="0" />
<circle cx="531.06" cy="505.11" r="1.50" fill="#FF0000" stroke="none" stroke-width="0" />
<circle cx="527.31" cy="502.05" r="1.50" fill="#FF0000" stroke="none" stroke-width="0" />
<circle cx="541.32" cy="499.82" r="1.50" fill="#FF0000" stroke="none" stroke-width="0" />
<circle cx="527.03" cy="504.58" r="1.50" fill="#FF0000" stroke="none" stroke-width="0" />
<circle cx="537.34" cy="514.94" r="1.50" fill="#FF0000" stroke="none" stroke-width="0" />
<circle cx="535.20" cy="508.33" r="1.50" fill="#FF0000" stroke="none" stroke-width="0" />
<circle cx="543.48" cy="497.94" r="1.50" fill="#FF0000" stroke="none" stroke-width="0" />
<circle cx="541.91" cy="507.71" r="1.50" fill="#FF0000" stroke="none" stroke-width="0" />
<circle cx="530.76" cy="498.68" r="1.50" fill="#FF0000" stroke="none" stroke-width="0" />
<circle cx="546.27" cy="496.91" r="1.50" fill="#FF0000" stroke="none" stroke-width="0" />
<circle cx="534.13" cy="511.25" r="1.50" fill="#FF0000" stroke="none" stroke-width="0" />
<circle cx="539.58" cy="503.19" r="1.50" fill="#FF0000" stroke="none" stroke-width="0" />
<circle cx="532.91" cy="501.30" r="1.50" fill="#FF0000" stroke="none" stroke-width="0" />
<circle cx="553.96" cy="512.01" r="1.50" fill="#FF0000" stroke="none" stroke-width="0" />
<circle cx="526.21" cy="505.27" r="1.50" fill="#FF0000" stroke="none" stroke-width="0" />
<circle cx="543.99" cy="501.85" r="1.50" fill="#FF0000" stroke="none" stroke-width="0" />
<circle cx="544.45" cy="495.45" r="1.50" fill="#FF0000" stroke="none" stroke-width="0" />
<circle cx="526.26" cy="497.75" r="1.50" fill="#FF0000" stroke="none" stroke-width="0" />
<circle cx="538.25" cy="509.51" r="1.50" fill="#FF0000" stroke="none" stroke-width="0" />
<circle cx="537.15" cy="513.51" r="1.50" fill="#FF0000" stroke="none" stroke-width="0" />
<circle cx="545.58" cy="505.49" r="1.50" fill="#FF0000" stroke="none" stroke-width="0" />
<circle cx="526.32" cy="498.52" r="1.50" fill="#FF0000" stroke="none" stroke-width="0" />
<circle cx="543.94" cy="511.04" r="1.50" fill="#FF0000" stroke="none" stroke-width="0" />
<circle cx="546.52" cy="513.45" r="1.50" fill="#FF0000" stroke="none" stroke-width="0" />
<circle cx="528.30" cy="494.95" r="1.50" fill="#FF0000" stroke="none" stroke-width="0" />
<circle cx="549.24" cy="514.55" r="1.50" fill="#FF0000" stroke="none" stroke-width="0" />
<circle cx="553.61" cy="505.18" r="1.50" fill="#FF0000" stroke="none" stroke-width="0" />
<circle cx="540.70" cy="492.71" r="1.50" fill="#FF0000" stroke="none" stroke-width="0" />
<circle cx="535.44" cy="512.08" r="1.50" fill="#FF0000" stroke="none" stroke-width="0" />
<circle cx="551.02" cy="508.61" r="1.50" fill="#FF0000" stroke="none" stroke-width="0" />
<circle cx="531.83" cy="499.23" r="1.50" fill="#FF0000" stroke="none" stroke-width="0" />
<circle cx="541.68" cy="509.89" r="1.50" fill="#FF0000" stroke="none" stroke-width="0" />
<circle cx="551.86" cy="513.05" r="1.50" fill="#FF0000" stroke="none" stroke-width="0" />
<circle cx="548.45" cy="499.79" r="1.50" fill="#FF0000" stroke="none" stroke-width="0" />
<circle cx="537.96" cy="499.79" r="1.50" fill="#FF0000" stroke="none" stroke-width="0" />
<circle cx="550.94" cy="500.38" r="1.50" fill="#FF0000" stroke="none" stroke-width="0" />
<circle cx="535.51" cy="513.81" r="1.50" fill="#FF0000" stroke="none" stroke-width="0" />
<circle cx="532.59" cy="499.60" r="1.50" fill="#FF0000" stroke="none" stroke-width="0" />
<circle cx="548.18" cy="498.08" r="1.50" fill="#FF0000" stroke="none" stroke-width="0" />
<circle cx="530.22" cy="506.25" r="1.50" fill="#FF0000" stroke="none" stroke-width="0" />
<circle cx="527.81" cy="496.13" r="1.50" fill="#FF0000" stroke="none" stroke-width="0" />
<circle cx="535.83" cy="505.91" r="1.50" fill="#FF0000" stroke="none" stroke-width="0" />
<circle cx="537.63" cy="503.88" r="1.50" fill="#FF0000" stroke="none" stroke-width="0" />
<circle cx="533.87" cy="512.30" r="1.50" fill="#FF0000" stroke="none" stroke-width="0" />
<circle cx="548.38" cy="509.04" r="1.50" fill="#FF0000" stroke="none" stroke-width="0" />
<circle cx="558.92" cy="514.93" r="1.50" fill="#FF0000" stroke="none" stroke-width="0" />
<circle cx="526.40" cy="506.41" r="1.50" fill="#FF0000" stroke="none" stroke-width="0" />
<circle cx="549.40" cy="512.63" r="1.50" fill="#FF0000" stroke="none" stroke-width="0" />
<circle cx="536.14" cy="513.82" r="1.50" fill="#FF0000" stroke="none" stroke-width="0" />
<circle cx="530.53" cy="495.48" r="1.50" fill="#FF0000" stroke="none" stroke-width="0" />
<circle cx="529.66" cy="508.37" r="1.50" fill="#FF0000" stroke="none" stroke-width="0" />
<circle cx="544.36" cy="493.53" r="1.50" fill="#FF0000" stroke="none" stroke-width="0" />
<circle cx="541.66" cy="513.30" r="1.50" fill="#FF0000" stroke="none" stroke-width="0" />
<circle cx="532.36" cy="502.01" r="1.50" fill="#FF0000" stroke="none" stroke-width="0" />
<circle cx="537.72" cy="495.39" r="1.50" fill="#FF0000" stroke="none" stroke-width="0" />
<circle cx="538.53" cy="510.74" r="1.50" fill="#FF0000" stroke="none" stroke-width="0" />
<circle cx="542.32" cy="513.91" r="1.50" fill="#FF0000" stroke="none" stroke-width="0" />
<circle cx="538.21" cy="502.24" r="1.50" fill="#FF0000" stroke="none" stroke-width="0" />
<circle cx="550.77" cy="513.65" r="1.50" fill="#FF0000" stroke="none" stroke-width="0" />
<circle cx="555.93" cy="514.61" r="1.50" fill="#FF0000" stroke="none" stroke-width="0" />
<circle cx="529.13" cy="501.59" r="1.50" fill="#FF0000" stroke="none" stroke-width="0" />
<circle cx="536.55" cy="509.81" r="1.50" fill="#FF0000" stroke="none" stroke-width="0" />
<circle cx="534.66" cy="495.56" r="1.50" fill="#FF0000" stroke="none" stroke-width="0" />
<circle cx="531.68" cy="497.00" r="1.50" fill="#FF0000" stroke="none" stroke-width="0" />
<circle cx="530.95" cy="510.07" r="1.50" fill="#FF0000" stroke="none" stroke-width="0" />
<circle cx="542.29" cy="502.15" r="1.50" fill="#FF0000" stroke="none" stroke-width="0" />
<circle cx="554.39" cy="514.67" r="1.50" fill="#FF0000" stroke="none" stroke-width="0" />
<circle cx="551.55" cy="509.71" r="1.50" fill="#FF0000" stroke="none" stroke-width="0" />
<circle cx="559.15" cy="514.86" r="1.50" fill="#FF0000" stroke="none" stroke-width="0" />
<circle cx="546.96" cy="504.25" r="1.50" fill="#FF0000" stroke="none" stroke-width="0" />
<circle cx="535.27" cy="506.81" r="1.50" fill="#FF0000" stroke="none" stroke-width="0" />
<circle cx="526.21" cy="505.70" r="1.50" fill="#FF0000" stroke="none" stroke-width="0" />
<circle cx="535.66" cy="510.28" r="1.50" fill="#FF0000" stroke="none" stroke-width="0" />
<circle cx="531.97" cy="498.34" r="1.50" fill="#FF0000" stroke="none" stroke-width="0" />
<circle cx="533.76" cy="497.86" r="1.50" fill="#FF0000" stroke="none" stroke-width="0" />
<circle cx="538.89" cy="491.82" r="1.50" fill="#FF0000" stroke="none" stroke-width="0" />
<circle cx="540.74" cy="498.35" r="1.50" fill="#FF0000" stroke="none" stroke-width="0" />
<circle cx="552.20" cy="508.35" r="1.50" fill="#FF0000" stroke="none" stroke-width="0" />
<circle cx="546.08" cy="512.50" r="1.50" fill="#FF0000" stroke="none" stroke-width="0" />
<circle cx="542.17" cy="497.58" r="1.50" fill="#FF0000" stroke="none" stroke-width="0" />
<circle cx="532.53" cy="497.04" r="1.50" fill="#FF0000" stroke="none" stroke-width="0" />
<circle cx="531.90" cy="509.60" r="1.50" fill="#FF0000" stroke="none" stroke-width="0" />
<circle cx="534.45" cy="497.63" r="1.50" fill="#FF0000" stroke="none" stroke-width="0" />
<circle cx="534.46" cy="491.62" r="1.50" fill="#FF0000" stroke="none" stroke-width="0" />
<circle cx="535.22" cy="503.60" r="1.50" fill="#FF0000" stroke="none" stroke-width="0" />
<circle cx="551.44" cy="511.21" r="1.50" fill="#FF0000" stroke="none" stroke-width="0" />
<circle cx="531.18" cy="506.65" r="1.50" fill="#FF0000" stroke="none" stroke-width="0" />
<circle cx="531.79" cy="510.45" r="1.50" fill="#FF0000" stroke="none" stroke-width="0" />
<circle cx="541.96" cy="493.61" r="1.50" fill="#FF0000" stroke="none" stroke-width="0" />
<circle cx="540.71" cy="498.27" r="1.50" fill="#FF0000" stroke="none" stroke-width="0" />
<circle cx="538.53" cy="513.60" r="1.50" fill="#FF0000" stroke="none" stroke-width="0" />
<circle cx="539.21" cy="502.01" r="1.50" fill="#FF0000" stroke="none" stroke-width="0" />
<circle cx="553.92" cy="511.53" r="1.50" fill="#FF0000" stroke="none" stroke-width="0" />
<circle cx="535.73" cy="491.16" r="1.50" fill="#FF0000" stroke="none" stroke-width="0" />
<circle cx="533.10" cy="494.74" r="1.50" fill="#FF0000" stroke="none" stroke-width="0" />
<circle cx="543.31" cy="511.82" r="1.50" fill="#FF0000" stroke="none" stroke-width="0" />
<circle cx="533.13" cy="510.98" r="1.50" fill="#FF0000" stroke="none" stroke-width="0" />
<circle cx="527.79" cy="507.13" r="1.50" fill="#FF0000" stroke="none" stroke-width="0" />
<circle cx="544.71" cy="510.35" r="1.50" fill="#FF0000" stroke="none" stroke-width="0" />
<circle cx="538.70" cy="493.24" r="1.50" fill="#FF0000" stroke="none" stroke-width="0" />
<circle cx="539.05" cy="493.04" r="1.50" fill="#FF0000" stroke="none" stroke-width="0" />
<circle cx="544.64" cy="514.13" r="1.50" fill="#FF0000" stroke="none" stroke-width="0" />
<circle cx="533.20" cy="491.53" r="1.50" fill="#FF0000" stroke="none" stroke-width="0" />
<circle cx="533.64" cy="512.13" r="1.50" fill="#FF0000" stroke="none" stroke-width="0" />
<circle cx="535.13" cy="496.51" r="1.50" fill="#FF0000" stroke="none" stroke-width="0" />
<circle cx="558.30" cy="514.79" r="1.50" fill="#FF0000" stroke="none" stroke-width="0" />
<circle cx="541.49" cy="512.55" r="1.50" fill="#FF0000" stroke="none" stroke-width="0" />
<circle cx="538.52" cy="514.39" r="1.50" fill="#FF0000" stroke="none" stroke-width="0" />
<circle cx="529.16" cy="502.53" r="1.50" fill="#FF0000" stroke="none" stroke-width="0" />
<circle cx="547.24" cy="507.79" r="1.50" fill="#FF0000" stroke="none" stroke-width="0" />
<circle cx="543.86" cy="505.11" r="1.50" fill="#FF0000" stroke="none" stroke-width="0" />
<circle cx="536.10" cy="502.31" r="1.50" fill="#FF0000" stroke="none" stroke-width="0" />
<circle cx="552.57" cy="504.49" r="1.50" fill="#FF0000" stroke="none" stroke-width="0" />
<circle cx="528.44" cy="499.86" r="1.50" fill="#FF0000" stroke="none" stroke-width="0" />
<circle cx="542.16" cy="511.77" r="1.50" fill="#FF0000" stroke="none" stroke-width="0" />
<circle cx="557.59" cy="508.70" r="1.50" fill="#FF0000" stroke="none" stroke-width="0" />
<circle cx="530.45" cy="498.35" r="1.50" fill="#FF0000" stroke="none" stroke-width="0" />
<circle cx="543.42" cy="514.81" r="1.50" fill="#FF0000" stroke="none" stroke-width="0" />
<circle cx="532.42" cy="499.02" r="1.50" fill="#FF0000" stroke="none" stroke-width="0" />
<circle cx="532.84" cy="497.41" r="1.50" fill="#FF0000" stroke="none" stroke-width="0" />
<circle cx="542.59" cy="508.04" r="1.50" fill="#FF0000" stroke="none" stroke-width="0" />
<circle cx="533.42" cy="495.69" r="1.50" fill="#FF0000" stroke="none" stroke-width="0" />
<circle cx="546.14" cy="507.75" r="1.50" fill="#FF0000" stroke="none" stroke-width="0" />
<circle cx="539.73" cy="504.56" r="1.50" fill="#FF0000" stroke="none" stroke-width="0" />
<circle cx="541.30" cy="511.36" r="1.50" fill="#FF0000" stroke="none" stroke-width="0" />
<circle cx="536.35" cy="508.39" r="1.50" fill="#FF0000" stroke="none" stroke-width="0" />
<circle cx="536.01" cy="494.75" r="1.50" fill="#FF0000" stroke="none" stroke-width="0" />
<circle cx="548.89" cy="505.34" r="1.50" fill="#FF0000" stroke="none" stroke-width="0" />
<circle cx="542.28" cy="514.41" r="1.50" fill="#FF0000" stroke="none" stroke-width="0" />
<circle cx="557.07" cy="511.82" r="1.50" fill="#FF0000" stroke="none" stroke-width="0" />
<circle cx="537.39" cy="514.71" r="1.50" fill="#FF0000" stroke="none" stroke-width="0" />
<circle cx="549.42" cy="514.55" r="1.50" fill="#FF0000" stroke="none" stroke-width="0" />
<circle cx="538.92" cy="504.98" r="1.50" fill="#FF0000" stroke="none" stroke-width="0" />
<circle cx="528.12" cy="506.08" r="1.50" fill="#FF0000" stroke="none" stroke-width="0" />
<circle cx="552.97" cy="508.01" r="1.50" fill="#FF0000" stroke="none" stroke-width="0" />
<circle cx="544.04" cy="498.33" r="1.50" fill="#FF0000" stroke="none" stroke-width="0" />
<circle cx="532.34" cy="498.48" r="1.50" fill="#FF0000" stroke="none" stroke-width="0" />
<circle cx="551.13" cy="512.30" r="1.50" fill="#FF0000" stroke="none" stroke-width="0" />
<circle cx="533.14" cy="509.00" r="1.50" fill="#FF0000" stroke="none" stroke-width="0" />
<circle cx="526.21" cy="496.68" r="1.50" fill="#FF0000" stroke="none" stroke-width="0" />
<circle cx="531.25" cy="503.98" r="1.50" fill="#FF0000" stroke="none" stroke-width="0" />
<circle cx="537.69" cy="491.70" r="1.50" fill="#FF0000" stroke="none" stroke-width="0" />
<circle cx="530.98" cy="502.09" r="1.50" fill="#FF0000" stroke="none" stroke-width="0" />
<circle cx="543.92" cy="513.56" r="1.50" fill="#FF0000" stroke="none" stroke-width="0" />
<circle cx="541.93" cy="514.75" r="1.50" fill="#FF0000" stroke="none" stroke-width="0" />
<circle cx="542.39" cy="509.68" r="1.50" fill="#FF0000" stroke="none" stroke-width="0" />
<circle cx="536.88" cy="509.61" r="1.50" fill="#FF0000" stroke="none" stroke-width="0" />
<circle cx="535.82" cy="512.71" r="1.50" fill="#FF0000" stroke="none" stroke-width="0" />
<circle cx="537.95" cy="513.06" r="1.50" fill="#FF0000" stroke="none" stroke-width="0" />
<circle cx="533.77" cy="502.64" r="1.50" fill="#FF0000" stroke="none" stroke-width="0" />
<circle cx="552.32" cy="504.26" r="1.50" fill="#FF0000" stroke="none" stroke-width="0" />
<circle cx="539.00" cy="502.74" r="1.50" fill="#FF0000" stroke="none" stroke-width="0" />
<circle cx="533.00" cy="511.50" r="1.50" fill="#FF0000" stroke="none" stroke-width="0" />
<circle cx="559.07" cy="512.43" r="1.50" fill="#FF0000" stroke="none" stroke-width="0" />
<circle cx="538.76" cy="503.92" r="1.50" fill="#FF0000" stroke="none" stroke-width="0" />
<circle cx="542.73" cy="514.59" r="1.50" fill="#FF0000" stroke="none" stroke-width="0" />
<circle cx="536.61" cy="513.39" r="1.50" fill="#FF0000" stroke="none" stroke-width="0" />
<circle cx="549.98" cy="514.91" r="1.50" fill="#FF0000" stroke="none" stroke-width="0" />
<circle cx="546.86" cy="500.59" r="1.50" fill="#FF0000" stroke="none" stroke-width="0" />
<circle cx="528.72" cy="495.21" r="1.50" fill="#FF0000" stroke="none" stroke-width="0" />
<circle cx="539.31" cy="500.82" r="1.50" fill="#FF0000" stroke="none" stroke-width="0" />
<circle cx="543.52" cy="513.35" r="1.50" fill="#FF0000" stroke="none" stroke-width="0" />
<circle cx="540.77" cy="502.45" r="1.50" fill="#FF0000" stroke="none" stroke-width="0" />
<circle cx="538.99" cy="514.35" r="1.50" fill="#FF0000" stroke="none" stroke-width="0" />
<circle cx="527.20" cy="504.53" r="1.50" fill="#FF0000" stroke="none" stroke-width="0" />
<circle cx="547.01" cy="514.69" r="1.50" fill="#FF0000" stroke="none" stroke-width="0" />
<circle cx="530.93" cy="502.91" r="1.50" fill="#FF0000" stroke="none" stroke-width="0" />
<circle cx="540.77" cy="506.31" r="1.50" fill="#FF0000" stroke="none" stroke-width="0" />
<circle cx="534.44" cy="502.40" r="1.50" fill="#FF0000" stroke="none" stroke-width="0" />
<circle cx="544.49" cy="502.83" r="1.50" fill="#FF0000" stroke="none" stroke-width="0" />
<circle cx="526.21" cy="495.57" r="1.50" fill="#FF0000" stroke="none" stroke-width="0" />
<circle cx="528.85" cy="494.73" r="1.50" fill="#FF0000" stroke="none" stroke-width="0" />
<circle cx="531.57" cy="508.58" r="1.50" fill="#FF0000" stroke="none" stroke-width="0" />
<circle cx="536.00" cy="504.82" r="1.50" fill="#FF0000" stroke="none" stroke-width="0" />
<circle cx="528.83" cy="507.77" r="1.50" fill="#FF0000" stroke="none" stroke-width="0" />
<circle cx="556.71" cy="508.32" r="1.50" fill="#FF0000" stroke="none" stroke-width="0" />
<circle cx="537.54" cy="503.63" r="1.50" fill="#FF0000" stroke="none" stroke-width="0" />
<circle cx="534.65" cy="505.82" r="1.50" fill="#FF0000" stroke="none" stroke-width="0" />
<circle cx="529.15" cy="503.16" r="1.50" fill="#FF0000" stroke="none" stroke-width="0" />
<circle cx="533.32" cy="497.45" r="1.50" fill="#FF0000" stroke="none" stroke-width="0" />
<circle cx="538.60" cy="507.20" r="1.50" fill="#FF0000" stroke="none" stroke-width="0" />
<circle cx="539.22" cy="493.00" r="1.50" fill="#FF0000" stroke="none" stroke-width="0" />
<circle cx="557.32" cy="508.06" r="1.50" fill="#FF0000" stroke="none" stroke-width="0" />
<circle cx="541.26" cy="496.13" r="1.50" fill="#FF0000" stroke="none" stroke-width="0" />
<circle cx="544.09" cy="513.23" r="1.50" fill="#FF0000" stroke="none" stroke-width="0" />
<circle cx="535.16" cy="509.84" r="1.50" fill="#FF0000" stroke="none" stroke-width="0" />
<circle cx="533.50" cy="506.50" r="1.50" fill="#FF0000" stroke="none" stroke-width="0" />
<circle cx="535.52" cy="513.92" r="1.50" fill="#FF0000" stroke="none" stroke-width="0" />
<circle cx="537.06" cy="491.87" r="1.50" fill="#FF0000" stroke="none" stroke-width="0" />
<circle cx="539.27" cy="511.66" r="1.50" fill="#FF0000" stroke="none" stroke-width="0" />
<circle cx="534.81" cy="509.44" r="1.50" fill="#FF0000" stroke="none" stroke-width="0" />
<circle cx="534.51" cy="511.54" r="1.50" fill="#FF0000" stroke="none" stroke-width="0" />
<circle cx="535.72" cy="495.74" r="1.50" fill="#FF0000" stroke="none" stroke-width="0" />
<circle cx="552.85" cy="505.73" r="1.50" fill="#FF0000" stroke="none" stroke-width="0" />
<circle cx="542.71" cy="510.26" r="1.50" fill="#FF0000" stroke="none" stroke-width="0" />
<circle cx="542.16" cy="496.16" r="1.50" fill="#FF0000" stroke="none" stroke-width="0" />
<circle cx="537.01" cy="507.72" r="1.50" fill="#FF0000" stroke="none" stroke-width="0" />
<circle cx="555.35" cy="508.78" r="1.50" fill="#FF0000" stroke="none" stroke-width="0" />
<circle cx="548.20" cy="497.82" r="1.50" fill="#FF0000" stroke="none" stroke-width="0" />
<circle cx="556.94" cy="513.16" r="1.50" fill="#FF0000" stroke="none" stroke-width="0" />
<circle cx="532.06" cy="506.67" r="1.50" fill="#FF0000" stroke="none" stroke-width="0" />
<circle cx="532.14" cy="506.86" r="1.50" fill="#FF0000" stroke="none" stroke-width="0" />
<circle cx="526.39" cy="503.75" r="1.50" fill="#FF0000" stroke="none" stroke-width="0" />
<circle cx="542.47" cy="514.50" r="1.50" fill="#FF0000" stroke="none" stroke-width="0" />
<circle cx="537.86" cy="513.90" r="1.50" fill="#FF0000" stroke="none" stroke-width="0" />
<circle cx="539.85" cy="501.06" r="1.50" fill="#FF0000" stroke="none" stroke-width="0" />
<circle cx="536.49" cy="507.74" r="1.50" fill="#FF0000" stroke="none" stroke-width="0" />
<circle cx="550.65" cy="502.37" r="1.50" fill="#FF0000" stroke="none" stroke-width="0" />
<circle cx="536.99" cy="506.50" r="1.50" fill="#FF0000" stroke="none" stroke-width="0" />
<circle cx="550.48" cy="504.74" r="1.50" fill="#FF0000" stroke="none" stroke-width="0" />
<circle cx="533.46" cy="493.22" r="1.50" fill="#FF0000" stroke="none" stroke-width="0" />
<circle cx="542.20" cy="508.81" r="1.50" fill="#FF0000" stroke="none" stroke-width="0" />
<circle cx="534.79" cy="495.96" r="1.50" fill="#FF0000" stroke="none" stroke-width="0" />
<circle cx="541.89" cy="514.09" r="1.50" fill="#FF0000" stroke="none" stroke-width="0" />
<circle cx="533.72" cy="511.57" r="1.50" fill="#FF0000" stroke="none" stroke-width="0" />
<circle cx="533.73" cy="497.60" r="1.50" fill="#FF0000" stroke="none" stroke-width="0" />
<circle cx="540.48" cy="506.57" r="1.50" fill="#FF0000" stroke="none" stroke-width="0" />
<circle cx="534.62" cy="509.58" r="1.50" fill="#FF0000" stroke="none" stroke-width="0" />
<circle cx="537.91" cy="497.82" r="1.50" fill="#FF0000" stroke="none" stroke-width="0" />
<circle cx="542.71" cy="501.60" r="1.50" fill="#FF0000" stroke="none" stroke-width="0" />
<circle cx="532.21" cy="506.00" r="1.50" fill="#FF0000" stroke="none" stroke-width="0" />
<circle cx="541.39" cy="508.91" r="1.50" fill="#FF0000" stroke="none" stroke-width="0" />
<circle cx="536.17" cy="514.38" r="1.50" fill="#FF0000" stroke="none" stroke-width="0" />
<circle cx="539.77" cy="498.84" r="1.50" fill="#FF0000" stroke="none" stroke-width="0" />
<circle cx="531.14" cy="504.16" r="1.50" fill="#FF0000" stroke="none" stroke-width="0" />
<circle cx="527.79" cy="494.74" r="1.50" fill="#FF0000" stroke="none" stroke-width="0" />
<circle cx="536.83" cy="499.64" r="1.50" fill="#FF0000" stroke="none" stroke-width="0" />
<circle cx="527.56" cy="505.24" r="1.50" fill="#FF0000" stroke="none" stroke-width="0" />
<circle cx="537.54" cy="506.45" r="1.50" fill="#FF0000" stroke="none" stroke-width="0" />
<circle cx="547.66" cy="513.15" r="1.50" fill="#FF0000" stroke="none" stroke-width="0" />
<circle cx="540.21" cy="507.29" r="1.50" fill="#FF0000" stroke="none" stroke-width="0" />
<circle cx="540.44" cy="492.71" r="1.50" fill="#FF0000" stroke="none" stroke-width="0" />
<circle cx="526.21" cy="502.08" r="1.50" fill="#FF0000" stroke="none" stroke-width="0" />
<circle cx="550.79" cy="510.78" r="1.50" fill="#FF0000" stroke="none" stroke-width="0" />
<circle cx="542.05" cy="511.42" r="1.50" fill="#FF0000" stroke="none" stroke-width="0" />
<circle cx="535.71" cy="512.58" r="1.50" fill="#FF0000" stroke="none" stroke-width="0" />
<circle cx="535.97" cy="497.08" r="1.50" fill="#FF0000" stroke="none" stroke-width="0" />
<circle cx="538.86" cy="501.67" r="1.50" fill="#FF0000" stroke="none" stroke-width="0" />
<circle cx="536.53" cy="496.59" r="1.50" fill="#FF0000" stroke="none" stroke-width="0" />
<circle cx="542.32" cy="514.45" r="1.50" fill="#FF0000" stroke="none" stroke-width="0" />
<circle cx="546.21" cy="505.46" r="1.50" fill="#FF0000" stroke="none" stroke-width="0" />
<circle cx="542.71" cy="511.90" r="1.50" fill="#FF0000" stroke="none" stroke-width="0" />
<circle cx="531.53" cy="499.39" r="1.50" fill="#FF0000" stroke="none" stroke-width="0" />
<circle cx="536.96" cy="499.68" r="1.50" fill="#FF0000" stroke="none" stroke-width="0" />
<circle cx="530.82" cy="494.96" r="1.50" fill="#FF0000" stroke="none" stroke-width="0" />
<circle cx="532.39" cy="500.67" r="1.50" fill="#FF0000" stroke="none" stroke-width="0" />
<circle cx="557.85" cy="510.44" r="1.50" fill="#FF0000" stroke="none" stroke-width="0" />
<circle cx="553.50" cy="506.28" r="1.50" fill="#FF0000" stroke="none" stroke-width="0" />
<circle cx="544.20" cy="505.97" r="1.50" fill="#FF0000" stroke="none" stroke-width="0" />
<circle cx="530.96" cy="510.07" r="1.50" fill="#FF0000" stroke="none" stroke-width="0" />
<circle cx="551.31" cy="514.97" r="1.50" fill="#FF0000" stroke="none" stroke-width="0" />
<circle cx="534.74" cy="510.74" r="1.50" fill="#FF0000" stroke="none" stroke-width="0" />
<circle cx="542.79" cy="504.26" r="1.50" fill="#FF0000" stroke="none" stroke-width="0" />
<circle cx="546.97" cy="513.97" r="1.50" fill="#FF0000" stroke="none" stroke-width="0" />
<circle cx="555.42" cy="506.66" r="1.50" fill="#FF0000" stroke="none" stroke-width="0" />
<circle cx="551.43" cy="511.81" r="1.50" fill="#FF0000" stroke="none" stroke-width="0" />
<circle cx="537.34" cy="513.25" r="1.50" fill="#FF0000" stroke="none" stroke-width="0" />
<circle cx="543.51" cy="492.86" r="1.50" fill="#FF0000" stroke="none" stroke-width="0" />
<circle cx="548.89" cy="510.36" r="1.50" fill="#FF0000" stroke="none" stroke-width="0" />
<circle cx="547.21" cy="503.45" r="1.50" fill="#FF0000" stroke="none" stroke-width="0" />
<circle cx="532.19" cy="509.63" r="1.50" fill="#FF0000" stroke="none" stroke-width="0" />
<circle cx="553.09" cy="513.51" r="1.50" fill="#FF0000" stroke="none" stroke-width="0" />
<circle cx="544.59" cy="512.20" r="1.50" fill="#FF0000" stroke="none" stroke-width="0" />
<circle cx="545.46" cy="510.67" r="1.50" fill="#FF0000" stroke="none" stroke-width="0" />
<circle cx="544.35" cy="513.33" r="1.50" fill="#FF0000" stroke="none" stroke-width="0" />
<circle cx="542.83" cy="501.78" r="1.50" fill="#FF0000" stroke="none" stroke-width="0" />
<circle cx="538.11" cy="493.36" r="1.50" fill="#FF0000" stroke="none" stroke-width="0" />
<circle cx="535.07" cy="500.65" r="1.50" fill="#FF0000" stroke="none" stroke-width="0" />
<circle cx="528.50" cy="499.54" r="1.50" fill="#FF0000" stroke="none" stroke-width="0" />
<circle cx="537.72" cy="511.53" r="1.50" fill="#FF0000" stroke="none" stroke-width="0" />
<circle cx="531.65" cy="498.42" r="1.50" fill="#FF0000" stroke="none" stroke-width="0" />
<circle cx="540.90" cy="492.84" r="1.50" fill="#FF0000" stroke="none" stroke-width="0" />
<circle cx="536.00" cy="495.36" r="1.50" fill="#FF0000" stroke="none" stroke-width="0" />
<circle cx="536.56" cy="514.63" r="1.50" fill="#FF0000" stroke="none" stroke-width="0" />
<circle cx="538.38" cy="492.94" r="1.50" fill="#FF0000" stroke="none" stroke-width="0" />
<circle cx="553.82" cy="506.57" r="1.50" fill="#FF0000" stroke="none" stroke-width="0" />
<circle cx="526.21" cy="499.88" r="1.50" fill="#FF0000" stroke="none" stroke-width="0" />
<circle cx="536.70" cy="500.54" r="1.50" fill="#FF0000" stroke="none" stroke-width="0" />
<circle cx="545.70" cy="514.06" r="1.50" fill="#FF0000" stroke="none" stroke-width="0" />
<circle cx="527.02" cy="506.53" r="1.50" fill="#FF0000" stroke="none" stroke-width="0" />
<circle cx="528.34" cy="506.56" r="1.50" fill="#FF0000" stroke="none" stroke-width="0" />
<circle cx="555.58" cy="510.43" r="1.50" fill="#FF0000" stroke="none" stroke-width="0" />
<circle cx="532.17" cy="496.21" r="1.50" fill="#FF0000" stroke="none" stroke-width="0" />
<circle cx="534.12" cy="512.72" r="1.50" fill="#FF0000" stroke="none" stroke-width="0" />
<circle cx="544.97" cy="510.70" r="1.50" fill="#FF0000" stroke="none" stroke-width="0" />
<circle cx="542.43" cy="498.18" r="1.50" fill="#FF0000" stroke="none" stroke-width="0" />
<circle cx="554.69" cy="505.54" r="1.50" fill="#FF0000" stroke="none" stroke-width="0" />
<circle cx="534.07" cy="508.66" r="1.50" fill="#FF0000" stroke="none" stroke-width="0" />
<circle cx="546.32" cy="512.64" r="1.50" fill="#FF0000" stroke="none" stroke-width="0" />
<circle cx="538.37" cy="510.04" r="1.50" fill="#FF0000" stroke="none" stroke-width="0" />
<circle cx="535.06" cy="501.98" r="1.50" fill="#FF0000" stroke="none" stroke-width="0" />
<circle cx="528.79" cy="507.98" r="1.50" fill="#FF0000" stroke="none" stroke-width="0" />
<circle cx="532.09" cy="510.16" r="1.50" fill="#FF0000" stroke="none" stroke-width="0" />
<circle cx="557.86" cy="507.53" r="1.50" fill="#FF0000" stroke="none" stroke-width="0" />
<circle cx="526.21" cy="503.84" r="1.50" fill="#FF0000" stroke="none" stroke-width="0" />
<circle cx="529.38" cy="499.69" r="1.50" fill="#FF0000" stroke="none" stroke-width="0" />
<circle cx="535.69" cy="512.49" r="1.50" fill="#FF0000" stroke="none" stroke-width="0" />
<circle cx="533.69" cy="500.28" r="1.50" fill="#FF0000" stroke="none" stroke-width="0" />
<circle cx="533.98" cy="501.24" r="1.50" fill="#FF0000" stroke="none" stroke-width="0" />
<circle cx="537.85" cy="514.96" r="1.50" fill="#FF0000" stroke="none" stroke-width="0" />
<circle cx="534.20" cy="501.79" r="1.50" fill="#FF0000" stroke="none" stroke-width="0" />
<circle cx="534.39" cy="496.47" r="1.50" fill="#FF0000" stroke="none" stroke-width="0" />
<circle cx="554.46" cy="513.60" r="1.50" fill="#FF0000" stroke="none" stroke-width="0" />
<circle cx="534.59" cy="508.94" r="1.50" fill="#FF0000" stroke="none" stroke-width="0" />
<circle cx="543.10" cy="512.63" r="1.50" fill="#FF0000" stroke="none" stroke-width="0" />
<circle cx="546.79" cy="508.39" r="1.50" fill="#FF0000" stroke="none" stroke-width="0" />
<circle cx="535.10" cy="512.65" r="1.50" fill="#FF0000" stroke="none" stroke-width="0" />
<circle cx="537.64" cy="499.23" r="1.50" fill="#FF0000" stroke="none" stroke-width="0" />
<circle cx="538.85" cy="502.53" r="1.50" fill="#FF0000" stroke="none" stroke-width="0" />
<circle cx="530.19" cy="506.47" r="1.50" fill="#FF0000" stroke="none" stroke-width="0" />
<circle cx="526.21" cy="503.72" r="1.50" fill="#FF0000" stroke="none" stroke-width="0" />
<circle cx="553.35" cy="506.97" r="1.50" fill="#FF0000" stroke="none" stroke-width="0" />
<circle cx="538.40" cy="502.78" r="1.50" fill="#FF0000" stroke="none" stroke-width="0" />
<circle cx="541.12" cy="500.59" r="1.50" fill="#FF0000" stroke="none" stroke-width="0" />
<circle cx="547.19" cy="503.77" r="1.50" fill="#FF0000" stroke="none" stroke-width="0" />
<circle cx="541.17" cy="507.77" r="1.50" fill="#FF0000" stroke="none" stroke-width="0" />
<circle cx="546.50" cy="502.43" r="1.50" fill="#FF0000" stroke="none" stroke-width="0" />
<circle cx="531.62" cy="510.49" r="1.50" fill="#FF0000" stroke="none" stroke-width="0" />
<circle cx="537.49" cy="507.80" r="1.50" fill="#FF0000" stroke="none" stroke-width="0" />
<circle cx="533.38" cy="497.37" r="1.50" fill="#FF0000" stroke="none" stroke-width="0" />
<circle cx="532.60" cy="501.45" r="1.50" fill="#FF0000" stroke="none" stroke-width="0" />
<circle cx="547.17" cy="512.33" r="1.50" fill="#FF0000" stroke="none" stroke-width="0" />
<circle cx="526.21" cy="500.06" r="1.50" fill="#FF0000" stroke="none" stroke-width="0" />
<circle cx="534.07" cy="499.60" r="1.50" fill="#FF0000" stroke="none" stroke-width="0" />
<circle cx="526.65" cy="506.61" r="1.50" fill="#FF0000" stroke="none" stroke-width="0" />
<circle cx="551.83" cy="508.74" r="1.50" fill="#FF0000" stroke="none" stroke-width="0" />
<circle cx="535.85" cy="509.12" r="1.50" fill="#FF0000" stroke="none" stroke-width="0" />
<circle cx="535.55" cy="498.55" r="1.50" fill="#FF0000" stroke="none" stroke-width="0" />
<circle cx="528.60" cy="508.07" r="1.50" fill="#FF0000" stroke="none" stroke-width="0" />
<circle cx="534.80" cy="495.48" r="1.50" fill="#FF0000" stroke="none" stroke-width="0" />
<circle cx="536.13" cy="499.70" r="1.50" fill="#FF0000" stroke="none" stroke-width="0" />
<circle cx="532.35" cy="506.77" r="1.50" fill="#FF0000" stroke="none" stroke-width="0" />
<circle cx="546.67" cy="511.74" r="1.50" fill="#FF0000" stroke="none" stroke-width="0" />
<circle cx="526.21" cy="502.52" r="1.50" fill="#FF0000" stroke="none" stroke-width="0" />
<circle cx="542.10" cy="513.89" r="1.50" fill="#FF0000" stroke="none" stroke-width="0" />
<circle cx="540.50" cy="494.78" r="1.50" fill="#FF0000" stroke="none" stroke-width="0" />
<circle cx="535.62" cy="494.98" r="1.50" fill="#FF0000" stroke="none" stroke-width="0" />
<circle cx="535.26" cy="506.26" r="1.50" fill="#FF0000" stroke="none" stroke-width="0" />
<circle cx="544.54" cy="495.04" r="1.50" fill="#FF0000" stroke="none" stroke-width="0" />
<circle cx="534.66" cy="491.18" r="1.50" fill="#FF0000" stroke="none" stroke-width="0" />
<circle cx="530.92" cy="500.90" r="1.50" fill="#FF0000" stroke="none" stroke-width="0" />
<circle cx="538.87" cy="514.30" r="1.50" fill="#FF0000" stroke="none" stroke-width="0" />
<circle cx="540.53" cy="492.02" r="1.50" fill="#FF0000" stroke="none" stroke-width="0" />
<circle cx="542.87" cy="510.58" r="1.50" fill="#FF0000" stroke="none" stroke-width="0" />
<circle cx="549.58" cy="504.68" r="1.50" fill="#FF0000" stroke="none" stroke-width="0" />
<circle cx="545.59" cy="497.97" r="1.50" fill="#FF0000" stroke="none" stroke-width="0" />
<circle cx="533.62" cy="512.34" r="1.50" fill="#FF0000" stroke="none" stroke-width="0" />
<circle cx="530.98" cy="505.19" r="1.50" fill="#FF0000" stroke="none" stroke-width="0" />
<circle cx="528.19" cy="506.72" r="1.50" fill="#FF0000" stroke="none" stroke-width="0" />
<circle cx="533.82" cy="495.06" r="1.50" fill="#FF0000" stroke="none" stroke-width="0" />
<circle cx="541.54" cy="507.91" r="1.50" fill="#FF0000" stroke="none" stroke-width="0" />
<circle cx="532.71" cy="506.39" r="1.50" fill="#FF0000" stroke="none" stroke-width="0" />
<circle cx="542.51" cy="512.04" r="1.50" fill="#FF0000" stroke="none" stroke-width="0" />
<circle cx="533.86" cy="498.70" r="1.50" fill="#FF0000" stroke="none" stroke-width="0" />
<circle cx="549.73" cy="504.78" r="1.50" fill="#FF0000" stroke="none" stroke-width="0" />
<circle cx="534.98" cy="492.58" r="1.50" fill="#FF0000" stroke="none" stroke-width="0" />
<circle cx="537.14" cy="507.65" r="1.50" fill="#FF0000" stroke="none" stroke-width="0" />
<circle cx="528.23" cy="499.52" r="1.50" fill="#FF0000" stroke="none" stroke-width="0" />
<circle cx="542.73" cy="498.50" r="1.50" fill="#FF0000" stroke="none" stroke-width="0" />
<circle cx="551.10" cy="506.09" r="1.50" fill="#FF0000" stroke="none" stroke-width="0" />
<circle cx="541.28" cy="493.00" r="1.50" fill="#FF0000" stroke="none" stroke-width="0" />
<circle cx="540.65" cy="511.20" r="1.50" fill="#FF0000" stroke="none" stroke-width="0" />
<circle cx="528.12" cy="501.20" r="1.50" fill="#FF0000" stroke="none" stroke-width="0" />
<circle cx="533.41" cy="511.78" r="1.50" fill="#FF0000" stroke="none" stroke-width="0" />
<circle cx="559.42" cy="512.75" r="1.50" fill="#FF0000" stroke="none" stroke-width="0" />
<circle cx="537.66" cy="499.14" r="1.50" fill="#FF0000" stroke="none" stroke-width="0" />
<circle cx="538.34" cy="509.87" r="1.50" fill="#FF0000" stroke="none" stroke-width="0" />
<circle cx="558.34" cy="508.85" r="1.50" fill="#FF0000" stroke="none" stroke-width="0" />
<circle cx="559.82" cy="509.61" r="1.50" fill="#FF0000" stroke="none" stroke-width="0" />
<circle cx="559.27" cy="511.21" r="1.50" fill="#FF0000" stroke="none" stroke-width="0" />
<circle cx="591.91" cy="511.48" r="1.50" fill="#FF0000" stroke="none" stroke-width="0" />
<circle cx="579.98" cy="508.46" r="1.50" fill="#FF0000" stroke="none" stroke-width="0" />
<circle cx="559.97" cy="508.97" r="1.50" fill="#FF0000" stroke="none" stroke-width="0" />
<circle cx="584.31" cy="502.02" r="1.50" fill="#FF0000" stroke="none" stroke-width="0" />
<circle cx="591.00" cy="512.93" r="1.50" fill="#FF0000" stroke="none" stroke-width="0" />
<circle cx="587.37" cy="509.64" r="1.50" fill="#FF0000" stroke="none" stroke-width="0" />
<circle cx="564.76" cy="511.02" r="1.50" fill="#FF0000" stroke="none" stroke-width="0" />
<circle cx="595.78" cy="513.64" r="1.50" fill="#FF0000" stroke="none" stroke-width="0" />
<circle cx="583.20" cy="509.90" r="1.50" fill="#FF0000" stroke="none" stroke-width="0" />
<circle cx="576.36" cy="506.09" r="1.50" fill="#FF0000" stroke="none" stroke-width="0" />
<circle cx="564.23" cy="513.58" r="1.50" fill="#FF0000" stroke="none" stroke-width="0" />
<circle cx="562.26" cy="512.33" r="1.50" fill="#FF0000" stroke="none" stroke-width="0" />
<circle cx="582.62" cy="509.02" r="1.50" fill="#FF0000" stroke="none" stroke-width="0" />
<circle cx="588.42" cy="512.32" r="1.50" fill="#FF0000" stroke="none" stroke-width="0" />
<circle cx="560.85" cy="511.30" r="1.50" fill="#FF0000" stroke="none" stroke-width="0" />
<circle cx="585.19" cy="509.42" r="1.50" fill="#FF0000" stroke="none" stroke-width="0" />
<circle cx="558.46" cy="512.08" r="1.50" fill="#FF0000" stroke="none" stroke-width="0" />
<circle cx="584.50" cy="510.67" r="1.50" fill="#FF0000" stroke="none" stroke-width="0" />
<circle cx="590.29" cy="512.82" r="1.50" fill="#FF0000" stroke="none" stroke-width="0" />
<circle cx="583.52" cy="510.11" r="1.50" fill="#FF0000" stroke="none" stroke-width="0" />
<circle cx="560.53" cy="512.90" r="1.50" fill="#FF0000" stroke="none" stroke-width="0" />
<circle cx="561.69" cy="511.53" r="1.50" fill="#FF0000" stroke="none" stroke-width="0" />
<circle cx="590.63" cy="509.57" r="1.50" fill="#FF0000" stroke="none" stroke-width="0" />
<circle cx="581.91" cy="513.49" r="1.50" fill="#FF0000" stroke="none" stroke-width="0" />
<circle cx="581.03" cy="504.68" r="1.50" fill="#FF0000" stroke="none" stroke-width="0" />
<circle cx="569.06" cy="510.55" r="1.50" fill="#FF0000" stroke="none" stroke-width="0" />
<circle cx="574.27" cy="508.91" r="1.50" fill="#FF0000" stroke="none" stroke-width="0" />
<circle cx="559.87" cy="511.71" r="1.50" fill="#FF0000" stroke="none" stroke-width="0" />
<circle cx="567.08" cy="510.44" r="1.50" fill="#FF0000" stroke="none" stroke-width="0" />
<circle cx="559.13" cy="512.72" r="1.50" fill="#FF0000" stroke="none" stroke-width="0" />
<circle cx="560.50" cy="510.32" r="1.50" fill="#FF0000" stroke="none" stroke-width="0" />
<circle cx="594.24" cy="512.18" r="1.50" fill="#FF0000" stroke="none" stroke-width="0" />
<circle cx="572.09" cy="510.11" r="1.50" fill="#FF0000" stroke="none" stroke-width="0" />
<circle cx="580.72" cy="512.22" r="1.50" fill="#FF0000" stroke="none" stroke-width="0" />
<circle cx="557.05" cy="509.70" r="1.50" fill="#FF0000" stroke="none" stroke-width="0" />
<circle cx="575.71" cy="505.58" r="1.50" fill="#FF0000" stroke="none" stroke-width="0" />
<circle cx="574.70" cy="511.67" r="1.50" fill="#FF0000" stroke="none" stroke-width="0" />
<circle cx="557.54" cy="511.23" r="1.50" fill="#FF0000" stroke="none" stroke-width="0" />
<circle cx="577.76" cy="513.64" r="1.50" fill="#FF0000" stroke="none" stroke-width="0" />
<circle cx="561.87" cy="509.14" r="1.50" fill="#FF0000" stroke="none" stroke-width="0" />
<circle cx="585.25" cy="512.24" r="1.50" fill="#FF0000" stroke="none" stroke-width="0" />
<circle cx="571.37" cy="507.56" r="1.50" fill="#FF0000" stroke="none" stroke-width="0" />
<circle cx="590.27" cy="513.32" r="1.50" fill="#FF0000" stroke="none" stroke-width="0" />
<circle cx="582.89" cy="507.80" r="1.50" fill="#FF0000" stroke="none" stroke-width="0" />
<circle cx="584.91" cy="513.19" r="1.50" fill="#FF0000" stroke="none" stroke-width="0" />
<circle cx="571.45" cy="507.72" r="1.50" fill="#FF0000" stroke="none" stroke-width="0" />
<circle cx="567.43" cy="510.27" r="1.50" fill="#FF0000" stroke="none" stroke-width="0" />
<circle cx="573.44" cy="508.36" r="1.50" fill="#FF0000" stroke="none" stroke-width="0" />
<circle cx="590.31" cy="509.35" r="1.50" fill="#FF0000" stroke="none" stroke-width="0" />
<circle cx="560.22" cy="510.86" r="1.50" fill="#FF0000" stroke="none" stroke-width="0" />
<circle cx="558.00" cy="512.62" r="1.50" fill="#FF0000" stroke="none" stroke-width="0" />
<circle cx="585.79" cy="505.90" r="1.50" fill="#FF0000" stroke="none" stroke-width="0" />
<circle cx="596.33" cy="513.46" r="1.50" fill="#FF0000" stroke="none" stroke-width="0" />
<circle cx="577.41" cy="506.61" r="1.50" fill="#FF0000" stroke="none" stroke-width="0" />
<circle cx="588.21" cy="506.51" r="1.50" fill="#FF0000" stroke="none" stroke-width="0" />
<circle cx="569.13" cy="512.95" r="1.50" fill="#FF0000" stroke="none" stroke-width="0" />
<circle cx="565.97" cy="509.14" r="1.50" fill="#FF0000" stroke="none" stroke-width="0" />
<circle cx="558.88" cy="512.97" r="1.50" fill="#FF0000" stroke="none" stroke-width="0" />
<circle cx="590.16" cy="507.47" r="1.50" fill="#FF0000" stroke="none" stroke-width="0" />
<circle cx="574.23" cy="504.71" r="1.50" fill="#FF0000" stroke="none" stroke-width="0" />
<circle cx="571.92" cy="511.85" r="1.50" fill="#FF0000" stroke="none" stroke-width="0" />
<circle cx="579.20" cy="513.01" r="1.50" fill="#FF0000" stroke="none" stroke-width="0" />
<circle cx="575.19" cy="506.45" r="1.50" fill="#FF0000" stroke="none" stroke-width="0" />
<circle cx="595.03" cy="512.04" r="1.50" fill="#FF0000" stroke="none" stroke-width="0" />
<circle cx="564.87" cy="511.91" r="1.50" fill="#FF0000" stroke="none" stroke-width="0" />
<circle cx="558.42" cy="513.57" r="1.50" fill="#FF0000" stroke="none" stroke-width="0" />
<circle cx="596.46" cy="513.55" r="1.50" fill="#FF0000" stroke="none" stroke-width="0" />
<circle cx="570.56" cy="507.18" r="1.50" fill="#FF0000" stroke="none" stroke-width="0" />
<circle cx="565.11" cy="511.93" r="1.50" fill="#FF0000" stroke="none" stroke-width="0" />
<circle cx="560.80" cy="510.07" r="1.50" fill="#FF0000" stroke="none" stroke-width="0" />
<circle cx="569.98" cy="512.87" r="1.50" fill="#FF0000" stroke="none" stroke-width="0" />
<circle cx="568.30" cy="509.68" r="1.50" fill="#FF0000" stroke="none" stroke-width="0" />
<circle cx="574.00" cy="511.29" r="1.50" fill="#FF0000" stroke="none" stroke-width="0" />
<circle cx="568.07" cy="511.78" r="1.50" fill="#FF0000" stroke="none" stroke-width="0" />
<circle cx="575.24" cy="510.58" r="1.50" fill="#FF0000" stroke="none" stroke-width="0" />
<circle cx="583.73" cy="510.78" r="1.50" fill="#FF0000" stroke="none" stroke-width="0" />
<circle cx="560.05" cy="513.54" r="1.50" fill="#FF0000" stroke="none" stroke-width="0" />
<circle cx="570.82" cy="503.63" r="1.50" fill="#FF0000" stroke="none" stroke-width="0" />
<circle cx="573.40" cy="510.31" r="1.50" fill="#FF0000" stroke="none" stroke-width="0" />
<circle cx="557.65" cy="511.83" r="1.50" fill="#FF0000" stroke="none" stroke-width="0" />
<circle cx="557.24" cy="513.02" r="1.50" fill="#FF0000" stroke="none" stroke-width="0" />
<circle cx="564.17" cy="512.52" r="1.50" fill="#FF0000" stroke="none" stroke-width="0" />
<circle cx="562.55" cy="513.19" r="1.50" fill="#FF0000" stroke="none" stroke-width="0" />
<circle cx="556.44" cy="511.90" r="1.50" fill="#FF0000" stroke="none" stroke-width="0" />
<circle cx="566.84" cy="508.00" r="1.50" fill="#FF0000" stroke="none" stroke-width="0" />
<circle cx="587.65" cy="510.59" r="1.50" fill="#FF0000" stroke="none" stroke-width="0" />
<circle cx="592.68" cy="512.84" r="1.50" fill="#FF0000" stroke="none" stroke-width="0" />
<circle cx="558.70" cy="509.70" r="1.50" fill="#FF0000" stroke="none" stroke-width="0" />
<circle cx="595.07" cy="513.63" r="1.50" fill="#FF0000" stroke="none" stroke-width="0" />
<circle cx="572.11" cy="513.59" r="1.50" fill="#FF0000" stroke="none" stroke-width="0" />
<circle cx="582.79" cy="503.93" r="1.50" fill="#FF0000" stroke="none" stroke-width="0" />
<circle cx="559.88" cy="510.50" r="1.50" fill="#FF0000" stroke="none" stroke-width="0" />
<circle cx="577.79" cy="512.65" r="1.50" fill="#FF0000" stroke="none" stroke-width="0" />
<circle cx="566.17" cy="512.88" r="1.50" fill="#FF0000" stroke="none" stroke-width="0" />
<circle cx="564.54" cy="511.34" r="1.50" fill="#FF0000" stroke="none" stroke-width="0" />
<circle cx="558.50" cy="509.35" r="1.50" fill="#FF0000" stroke="none" stroke-width="0" />
<circle cx="571.38" cy="510.62" r="1.50" fill="#FF0000" stroke="none" stroke-width="0" />
<circle cx="586.18" cy="513.38" r="1.50" fill="#FF0000" stroke="none" stroke-width="0" />
<circle cx="564.66" cy="510.38" r="1.50" fill="#FF0000" stroke="none" stroke-width="0" />
<circle cx="583.01" cy="509.07" r="1.50" fill="#FF0000" stroke="none" stroke-width="0" />
<circle cx="585.56" cy="507.75" r="1.50" fill="#FF0000" stroke="none" stroke-width="0" />
<circle cx="584.80" cy="504.20" r="1.50" fill="#FF0000" stroke="none" stroke-width="0" />
<circle cx="585.36" cy="504.39" r="1.50" fill="#FF0000" stroke="none" stroke-width="0" />
<circle cx="573.86" cy="504.01" r="1.50" fill="#FF0000" stroke="none" stroke-width="0" />
<circle cx="586.16" cy="513.64" r="1.50" fill="#FF0000" stroke="none" stroke-width="0" />
<circle cx="577.50" cy="502.51" r="1.50" fill="#FF0000" stroke="none" stroke-width="0" />
<circle cx="574.22" cy="510.50" r="1.50" fill="#FF0000" stroke="none" stroke-width="0" />
<circle cx="570.88" cy="505.78" r="1.50" fill="#FF0000" stroke="none" stroke-width="0" />
<circle cx="570.50" cy="512.52" r="1.50" fill="#FF0000" stroke="none" stroke-width="0" />
<circle cx="584.10" cy="501.09" r="1.50" fill="#FF0000" stroke="none" stroke-width="0" />
<circle cx="581.15" cy="513.55" r="1.50" fill="#FF0000" stroke="none" stroke-width="0" />
<circle cx="560.28" cy="512.72" r="1.50" fill="#FF0000" stroke="none" stroke-width="0" />
<circle cx="585.79" cy="503.99" r="1.50" fill="#FF0000" stroke="none" stroke-width="0" />
<circle cx="587.21" cy="513.24" r="1.50" fill="#FF0000" stroke="none" stroke-width="0" />
<circle cx="583.82" cy="504.59" r="1.50" fill="#FF0000" stroke="none" stroke-width="0" />
<circle cx="574.81" cy="512.12" r="1.50" fill="#FF0000" stroke="none" stroke-width="0" />
<circle cx="577.44" cy="509.51" r="1.50" fill="#FF0000" stroke="none" stroke-width="0" />
<circle cx="570.38" cy="513.62" r="1.50" fill="#FF0000" stroke="none" stroke-width="0" />
<circle cx="566.85" cy="508.81" r="1.50" fill="#FF0000" stroke="none" stroke-width="0" />
<circle cx="569.09" cy="508.62" r="1.50" fill="#FF0000" stroke="none" stroke-width="0" />
<circle cx="573.16" cy="512.18" r="1.50" fill="#FF0000" stroke="none" stroke-width="0" />
<circle cx="586.24" cy="504.14" r="1.50" fill="#FF0000" stroke="none" stroke-width="0" />
<circle cx="585.54" cy="506.16" r="1.50" fill="#FF0000" stroke="none" stroke-width="0" />
<circle cx="572.48" cy="504.04" r="1.50" fill="#FF0000" stroke="none" stroke-width="0" />
<circle cx="596.03" cy="512.98" r="1.50" fill="#FF0000" stroke="none" stroke-width="0" />
<circle cx="585.78" cy="513.17" r="1.50" fill="#FF0000" stroke="none" stroke-width="0" />
<circle cx="558.70" cy="510.86" r="1.50" fill="#FF0000" stroke="none" stroke-width="0" />
<circle cx="570.66" cy="511.85" r="1.50" fill="#FF0000" stroke="none" stroke-width="0" />
<circle cx="580.60" cy="513.52" r="1.50" fill="#FF0000" stroke="none" stroke-width="0" />
<circle cx="579.12" cy="505.92" r="1.50" fill="#FF0000" stroke="none" stroke-width="0" />
<circle cx="586.17" cy="513.61" r="1.50" fill="#FF0000" stroke="none" stroke-width="0" />
<circle cx="558.96" cy="510.07" r="1.50" fill="#FF0000" stroke="none" stroke-width="0" />
<circle cx="591.89" cy="509.60" r="1.50" fill="#FF0000" stroke="none" stroke-width="0" />
<circle cx="578.39" cy="510.93" r="1.50" fill="#FF0000" stroke="none" stroke-width="0" />
<circle cx="589.45" cy="511.86" r="1.50" fill="#FF0000" stroke="none" stroke-width="0" />
<circle cx="594.36" cy="512.78" r="1.50" fill="#FF0000" stroke="none" stroke-width="0" />
<circle cx="556.81" cy="513.63" r="1.50" fill="#FF0000" stroke="none" stroke-width="0" />
<circle cx="592.66" cy="512.85" r="1.50" fill="#FF0000" stroke="none" stroke-width="0" />
<circle cx="563.84" cy="513.55" r="1.50" fill="#FF0000" stroke="none" stroke-width="0" />
<circle cx="569.64" cy="504.91" r="1.50" fill="#FF0000" stroke="none" stroke-width="0" />
<circle cx="556.45" cy="510.06" r="1.50" fill="#FF0000" stroke="none" stroke-width="0" />
<circle cx="571.80" cy="505.83" r="1.50" fill="#FF0000" stroke="none" stroke-width="0" />
<circle cx="590.52" cy="508.25" r="1.50" fill="#FF0000" stroke="none" stroke-width="0" />
<circle cx="563.88" cy="510.53" r="1.50" fill="#FF0000" stroke="none" stroke-width="0" />
<circle cx="562.17" cy="513.09" r="1.50" fill="#FF0000" stroke="none" stroke-width="0" />
<circle cx="565.02" cy="507.98" r="1.50" fill="#FF0000" stroke="none" stroke-width="0" />
<circle cx="592.53" cy="510.91" r="1.50" fill="#FF0000" stroke="none" stroke-width="0" />
<circle cx="564.26" cy="513.37" r="1.50" fill="#FF0000" stroke="none" stroke-width="0" />
<circle cx="586.97" cy="509.51" r="1.50" fill="#FF0000" stroke="none" stroke-width="0" />
<circle cx="589.84" cy="509.55" r="1.50" fill="#FF0000" stroke="none" stroke-width="0" />
<circle cx="570.45" cy="509.39" r="1.50" fill="#FF0000" stroke="none" stroke-width="0" />
<circle cx="588.94" cy="511.03" r="1.50" fill="#FF0000" stroke="none" stroke-width="0" />
<circle cx="557.46" cy="512.17" r="1.50" fill="#FF0000" stroke="none" stroke-width="0" />
<circle cx="586.29" cy="508.71" r="1.50" fill="#FF0000" stroke="none" stroke-width="0" />
<circle cx="589.70" cy="509.07" r="1.50" fill="#FF0000" stroke="none" stroke-width="0" />
<circle cx="580.88" cy="505.45" r="1.50" fill="#FF0000" stroke="none" stroke-width="0" />
<circle cx="565.91" cy="513.08" r="1.50" fill="#FF0000" stroke="none" stroke-width="0" />
<circle cx="561.05" cy="512.15" r="1.50" fill="#FF0000" stroke="none" stroke-width="0" />
<circle cx="573.26" cy="511.75" r="1.50" fill="#FF0000" stroke="none" stroke-width="0" />
<circle cx="588.67" cy="512.69" r="1.50" fill="#FF0000" stroke="none" stroke-width="0" />
<circle cx="558.34" cy="512.03" r="1.50" fill="#FF0000" stroke="none" stroke-width="0" />
<circle cx="571.20" cy="513.59" r="1.50" fill="#FF0000" stroke="none" stroke-width="0" />
<circle cx="574.48" cy="509.36" r="1.50" fill="#FF0000" stroke="none" stroke-width="0" />
<circle cx="592.45" cy="511.37" r="1.50" fill="#FF0000" stroke="none" stroke-width="0" />
<circle cx="566.02" cy="507.38" r="1.50" fill="#FF0000" stroke="none" stroke-width="0" />
<circle cx="590.58" cy="508.38" r="1.50" fill="#FF0000" stroke="none" stroke-width="0" />
<circle cx="571.92" cy="512.22" r="1.50" fill="#FF0000" stroke="none" stroke-width="0" />
<circle cx="591.23" cy="509.59" r="1.50" fill="#FF0000" stroke="none" stroke-width="0" />
<circle cx="582.88" cy="513.21" r="1.50" fill="#FF0000" stroke="none" stroke-width="0" />
<circle cx="573.05" cy="513.05" r="1.50" fill="#FF0000" stroke="none" stroke-width="0" />
<circle cx="594.72" cy="513.35" r="1.50" fill="#FF0000" stroke="none" stroke-width="0" />
<circle cx="591.54" cy="510.23" r="1.50" fill="#FF0000" stroke="none" stroke-width="0" />
<circle cx="578.37" cy="505.50" r="1.50" fill="#FF0000" stroke="none" stroke-width="0" />
<circle cx="567.75" cy="513.53" r="1.50" fill="#FF0000" stroke="none" stroke-width="0" />
<circle cx="589.64" cy="511.60" r="1.50" fill="#FF0000" stroke="none" stroke-width="0" />
<circle cx="557.75" cy="512.20" r="1.50" fill="#FF0000" stroke="none" stroke-width="0" />
<circle cx="584.60" cy="504.94" r="1.50" fill="#FF0000" stroke="none" stroke-width="0" />
<circle cx="588.55" cy="512.82" r="1.50" fill="#FF0000" stroke="none" stroke-width="0" />
<circle cx="556.99" cy="509.34" r="1.50" fill="#FF0000" stroke="none" stroke-width="0" />
<circle cx="575.80" cy="511.99" r="1.50" fill="#FF0000" stroke="none" stroke-width="0" />
<circle cx="561.28" cy="509.76" r="1.50" fill="#FF0000" stroke="none" stroke-width="0" />
<circle cx="559.75" cy="509.87" r="1.50" fill="#FF0000" stroke="none" stroke-width="0" />
<circle cx="584.49" cy="512.34" r="1.50" fill="#FF0000" stroke="none" stroke-width="0" />
<circle cx="592.34" cy="509.85" r="1.50" fill="#FF0000" stroke="none" stroke-width="0" />
<circle cx="559.94" cy="511.83" r="1.50" fill="#FF0000" stroke="none" stroke-width="0" />
<circle cx="576.65" cy="509.89" r="1.50" fill="#FF0000" stroke="none" stroke-width="0" />
<circle cx="595.25" cy="513.08" r="1.50" fill="#FF0000" stroke="none" stroke-width="0" />
<circle cx="583.94" cy="502.38" r="1.50" fill="#FF0000" stroke="none" stroke-width="0" />
<circle cx="592.17" cy="511.46" r="1.50" fill="#FF0000" stroke="none" stroke-width="0" />
<circle cx="594.72" cy="512.98" r="1.50" fill="#FF0000" stroke="none" stroke-width="0" />
<circle cx="586.47" cy="513.42" r="1.50" fill="#FF0000" stroke="none" stroke-width="0" />
<circle cx="572.15" cy="511.31" r="1.50" fill="#FF0000" stroke="none" stroke-width="0" />
<circle cx="579.68" cy="513.40" r="1.50" fill="#FF0000" stroke="none" stroke-width="0" />
<circle cx="561.22" cy="511.60" r="1.50" fill="#FF0000" stroke="none" stroke-width="0" />
<circle cx="595.43" cy="512.12" r="1.50" fill="#FF0000" stroke="none" stroke-width="0" />
<circle cx="578.32" cy="512.20" r="1.50" fill="#FF0000" stroke="none" stroke-width="0" />
<circle cx="585.33" cy="511.56" r="1.50" fill="#FF0000" stroke="none" stroke-width="0" />
<circle cx="565.10" cy="511.44" r="1.50" fill="#FF0000" stroke="none" stroke-width="0" />
<circle cx="558.97" cy="513.40" r="1.50" fill="#FF0000" stroke="none" stroke-width="0" />
<circle cx="587.96" cy="512.07" r="1.50" fill="#FF0000" stroke="none" stroke-width="0" />
<circle cx="560.60" cy="511.83" r="1.50" fill="#FF0000" stroke="none" stroke-width="0" />
<circle cx="564.43" cy="508.28" r="1.50" fill="#FF0000" stroke="none" stroke-width="0" />
<circle cx="576.05" cy="506.33" r="1.50" fill="#FF0000" stroke="none" stroke-width="0" />
<circle cx="592.49" cy="512.15" r="1.50" fill="#FF0000" stroke="none" stroke-width="0" />
<circle cx="584.67" cy="509.71" r="1.50" fill="#FF0000" stroke="none" stroke-width="0" />
<circle cx="590.17" cy="511.18" r="1.50" fill="#FF0000" stroke="none" stroke-width="0" />
<circle cx="574.05" cy="502.30" r="1.50" fill="#FF0000" stroke="none" stroke-width="0" />
<circle cx="574.25" cy="511.06" r="1.50" fill="#FF0000" stroke="none" stroke-width="0" />
<circle cx="591.77" cy="511.31" r="1.50" fill="#FF0000" stroke="none" stroke-width="0" />
<circle cx="583.11" cy="509.13" r="1.50" fill="#FF0000" stroke="none" stroke-width="0" />
<circle cx="575.23" cy="503.46" r="1.50" fill="#FF0000" stroke="none" stroke-width="0" />
<circle cx="559.90" cy="509.08" r="1.50" fill="#FF0000" stroke="none" stroke-width="0" />
<circle cx="580.76" cy="505.23" r="1.50" fill="#FF0000" stroke="none" stroke-width="0" />
<circle cx="596.78" cy="512.97" r="1.50" fill="#FF0000" stroke="none" stroke-width="0" />
<circle cx="557.40" cy="509.96" r="1.50" fill="#FF0000" stroke="none" stroke-width="0" />
<circle cx="588.21" cy="505.75" r="1.50" fill="#FF0000" stroke="none" stroke-width="0" />
<circle cx="566.84" cy="508.13" r="1.50" fill="#FF0000" stroke="none" stroke-width="0" />
<circle cx="587.41" cy="508.94" r="1.50" fill="#FF0000" stroke="none" stroke-width="0" />
<circle cx="587.79" cy="512.36" r="1.50" fill="#FF0000" stroke="none" stroke-width="0" />
<circle cx="574.59" cy="507.81" r="1.50" fill="#FF0000" stroke="none" stroke-width="0" />
<circle cx="594.15" cy="512.13" r="1.50" fill="#FF0000" stroke="none" stroke-width="0" />
<circle cx="558.50" cy="509.82" r="1.50" fill="#FF0000" stroke="none" stroke-width="0" />
<circle cx="586.45" cy="505.75" r="1.50" fill="#FF0000" stroke="none" stroke-width="0" />
<circle cx="588.44" cy="508.72" r="1.50" fill="#FF0000" stroke="none" stroke-width="0" />
<circle cx="579.47" cy="512.85" r="1.50" fill="#FF0000" stroke="none" stroke-width="0" />
<circle cx="577.77" cy="503.36" r="1.50" fill="#FF0000" stroke="none" stroke-width="0" />
<circle cx="595.25" cy="513.48" r="1.50" fill="#FF0000" stroke="none" stroke-width="0" />
<circle cx="584.27" cy="511.14" r="1.50" fill="#FF0000" stroke="none" stroke-width="0" />
<circle cx="580.45" cy="510.87" r="1.50" fill="#FF0000" stroke="none" stroke-width="0" />
<circle cx="564.60" cy="510.96" r="1.50" fill="#FF0000" stroke="none" stroke-width="0" />
<circle cx="570.86" cy="510.57" r="1.50" fill="#FF0000" stroke="none" stroke-width="0" />
<circle cx="591.91" cy="511.08" r="1.50" fill="#FF0000" stroke="none" stroke-width="0" />
<circle cx="566.26" cy="512.55" r="1.50" fill="#FF0000" stroke="none" stroke-width="0" />
<circle cx="577.97" cy="513.30" r="1.50" fill="#FF0000" stroke="none" stroke-width="0" />
<circle cx="589.74" cy="509.08" r="1.50" fill="#FF0000" stroke="none" stroke-width="0" />
<circle cx="559.27" cy="513.50" r="1.50" fill="#FF0000" stroke="none" stroke-width="0" />
<circle cx="558.66" cy="511.87" r="1.50" fill="#FF0000" stroke="none" stroke-width="0" />
<circle cx="566.15" cy="511.28" r="1.50" fill="#FF0000" stroke="none" stroke-width="0" />
<circle cx="576.93" cy="503.69" r="1.50" fill="#FF0000" stroke="none" stroke-width="0" />
<circle cx="577.58" cy="513.52" r="1.50" fill="#FF0000" stroke="none" stroke-width="0" />
<circle cx="567.94" cy="507.62" r="1.50" fill="#FF0000" stroke="none" stroke-width="0" />
<circle cx="587.81" cy="507.02" r="1.50" fill="#FF0000" stroke="none" stroke-width="0" />
<circle cx="585.29" cy="512.40" r="1.50" fill="#FF0000" stroke="none" stroke-width="0" />
<circle cx="566.55" cy="512.06" r="1.50" fill="#FF0000" stroke="none" stroke-width="0" />
<circle cx="565.79" cy="510.68" r="1.50" fill="#FF0000" stroke="none" stroke-width="0" />
<circle cx="567.45" cy="508.53" r="1.50" fill="#FF0000" stroke="none" stroke-width="0" />
<circle cx="557.93" cy="510.82" r="1.50" fill="#FF0000" stroke="none" stroke-width="0" />
<circle cx="566.01" cy="508.55" r="1.50" fill="#FF0000" stroke="none" stroke-width="0" />
<circle cx="592.44" cy="511.80" r="1.50" fill="#FF0000" stroke="none" stroke-width="0" />
<circle cx="557.57" cy="513.55" r="1.50" fill="#FF0000" stroke="none" stroke-width="0" />
<circle cx="586.47" cy="512.15" r="1.50" fill="#FF0000" stroke="none" stroke-width="0" />
<circle cx="577.62" cy="504.00" r="1.50" fill="#FF0000" stroke="none" stroke-width="0" />
<circle cx="589.21" cy="506.16" r="1.50" fill="#FF0000" stroke="none" stroke-width="0" />
<circle cx="581.74" cy="510.62" r="1.50" fill="#FF0000" stroke="none" stroke-width="0" />
<circle cx="577.60" cy="509.20" r="1.50" fill="#FF0000" stroke="none" stroke-width="0" />
<circle cx="571.69" cy="502.59" r="1.50" fill="#FF0000" stroke="none" stroke-width="0" />
<circle cx="592.07" cy="512.45" r="1.50" fill="#FF0000" stroke="none" stroke-width="0" />
<circle cx="591.91" cy="492.53" r="1.50" fill="#FF0000" stroke="none" stroke-width="0" />
<circle cx="580.27" cy="498.92" r="1.50" fill="#FF0000" stroke="none" stroke-width="0" />
<circle cx="580.47" cy="499.73" r="1.50" fill="#FF0000" stroke="none" stroke-width="0" />
<circle cx="587.77" cy="496.64" r="1.50" fill="#FF0000" stroke="none" stroke-width="0" />
<circle cx="570.59" cy="508.66" r="1.50" fill="#FF0000" stroke="none" stroke-width="0" />
<circle cx="583.52" cy="503.94" r="1.50" fill="#FF0000" stroke="none" stroke-width="0" />
<circle cx="587.74" cy="508.24" r="1.50" fill="#FF0000" stroke="none" stroke-width="0" />
<circle cx="575.14" cy="499.10" r="1.50" fill="#FF0000" stroke="none" stroke-width="0" />
<circle cx="587.08" cy="502.39" r="1.50" fill="#FF0000" stroke="none" stroke-width="0" />
<circle cx="581.36" cy="502.70" r="1.50" fill="#FF0000" stroke="none" stroke-width="0" />
<circle cx="576.05" cy="502.58" r="1.50" fill="#FF0000" stroke="none" stroke-width="0" />
<circle cx="585.83" cy="498.62" r="1.50" fill="#FF0000" stroke="none" stroke-width="0" />
<circle cx="571.18" cy="498.83" r="1.50" fill="#FF0000" stroke="none" stroke-width="0" />
<circle cx="589.72" cy="502.20" r="1.50" fill="#FF0000" stroke="none" stroke-width="0" />
<circle cx="588.75" cy="496.62" r="1.50" fill="#FF0000" stroke="none" stroke-width="0" />
<circle cx="580.66" cy="507.34" r="1.50" fill="#FF0000" stroke="none" stroke-width="0" />
<circle cx="582.13" cy="503.84" r="1.50" fill="#FF0000" stroke="none" stroke-width="0" />
<circle cx="592.54" cy="494.76" r="1.50" fill="#FF0000" stroke="none" stroke-width="0" />
<circle cx="582.09" cy="497.26" r="1.50" fill="#FF0000" stroke="none" stroke-width="0" />
<circle cx="587.91" cy="493.37" r="1.50" fill="#FF0000" stroke="none" stroke-width="0" />
<circle cx="585.17" cy="501.83" r="1.50" fill="#FF0000" stroke="none" stroke-width="0" />
<circle cx="572.99" cy="495.34" r="1.50" fill="#FF0000" stroke="none" stroke-width="0" />
<circle cx="571.35" cy="508.03" r="1.50" fill="#FF0000" stroke="none" stroke-width="0" />
<circle cx="587.80" cy="496.63" r="1.50" fill="#FF0000" stroke="none" stroke-width="0" />
<circle cx="578.36" cy="494.88" r="1.50" fill="#FF0000" stroke="none" stroke-width="0" />
<circle cx="590.57" cy="501.99" r="1.50" fill="#FF0000" stroke="none" stroke-width="0" />
<circle cx="569.68" cy="506.38" r="1.50" fill="#FF0000" stroke="none" stroke-width="0" />
<circle cx="579.34" cy="504.62" r="1.50" fill="#FF0000" stroke="none" stroke-width="0" />
<circle cx="571.61" cy="502.24" r="1.50" fill="#FF0000" stroke="none" stroke-width="0" />
<circle cx="579.77" cy="497.50" r="1.50" fill="#FF0000" stroke="none" stroke-width="0" />
<circle cx="581.63" cy="499.31" r="1.50" fill="#FF0000" stroke="none" stroke-width="0" />
<circle cx="593.65" cy="510.78" r="1.50" fill="#FF0000" stroke="none" stroke-width="0" />
<circle cx="560.81" cy="508.61" r="1.50" fill="#FF0000" stroke="none" stroke-width="0" />
<circle cx="552.26" cy="502.30" r="1.50" fill="#FF0000" stroke="none" stroke-width="0" />
<circle cx="563.76" cy="507.91" r="1.50" fill="#FF0000" stroke="none" stroke-width="0" />
<circle cx="537.93" cy="492.69" r="1.50" fill="#FF0000" stroke="none" stroke-width="0" />
<circle cx="532.52" cy="489.89" r="1.50" fill="#FF0000" stroke="none" stroke-width="0" />
<circle cx="588.08" cy="505.85" r="1.50" fill="#FF0000" stroke="none" stroke-width="0" />
<circle cx="528.63" cy="489.84" r="1.50" fill="#FF0000" stroke="none" stroke-width="0" />
<circle cx="548.45" cy="495.68" r="1.50" fill="#FF0000" stroke="none" stroke-width="0" />
<circle cx="577.18" cy="500.87" r="1.50" fill="#FF0000" stroke="none" stroke-width="0" />
<circle cx="592.79" cy="509.61" r="1.50" fill="#FF0000" stroke="none" stroke-width="0" />
<circle cx="559.33" cy="506.45" r="1.50" fill="#FF0000" stroke="none" stroke-width="0" />
<circle cx="563.35" cy="508.91" r="1.50" fill="#FF0000" stroke="none" stroke-width="0" />
<circle cx="543.99" cy="487.72" r="1.50" fill="#FF0000" stroke="none" stroke-width="0" />
<circle cx="552.01" cy="500.85" r="1.50" fill="#FF0000" stroke="none" stroke-width="0" />
<circle cx="526.98" cy="496.71" r="1.50" fill="#FF0000" stroke="none" stroke-width="0" />
<circle cx="535.36" cy="491.07" r="1.50" fill="#FF0000" stroke="none" stroke-width="0" />
<circle cx="593.24" cy="509.85" r="1.50" fill="#FF0000" stroke="none" stroke-width="0" />
<circle cx="529.07" cy="491.71" r="1.50" fill="#FF0000" stroke="none" stroke-width="0" />
<circle cx="546.41" cy="490.63" r="1.50" fill="#FF0000" stroke="none" stroke-width="0" />
<circle cx="593.46" cy="510.07" r="1.50" fill="#FF0000" stroke="none" stroke-width="0" />
<circle cx="577.49" cy="500.48" r="1.50" fill="#FF0000" stroke="none" stroke-width="0" />
<circle cx="539.11" cy="488.22" r="1.50" fill="#FF0000" stroke="none" stroke-width="0" />
<circle cx="531.06" cy="490.53" r="1.50" fill="#FF0000" stroke="none" stroke-width="0" />
<circle cx="581.74" cy="501.33" r="1.50" fill="#FF0000" stroke="none" stroke-width="0" />
<circle cx="575.68" cy="501.15" r="1.50" fill="#FF0000" stroke="none" stroke-width="0" />
<circle cx="574.60" cy="501.16" r="1.50" fill="#FF0000" stroke="none" stroke-width="0" />
<circle cx="557.17" cy="506.16" r="1.50" fill="#FF0000" stroke="none" stroke-width="0" />
<circle cx="530.86" cy="489.71" r="1.50" fill="#FF0000" stroke="none" stroke-width="0" />
<circle cx="531.34" cy="489.37" r="1.50" fill="#FF0000" stroke="none" stroke-width="0" />
<circle cx="559.48" cy="506.83" r="1.50" fill="#FF0000" stroke="none" stroke-width="0" />
<circle cx="556.64" cy="506.63" r="1.50" fill="#FF0000" stroke="none" stroke-width="0" />
<circle cx="549.32" cy="495.67" r="1.50" fill="#FF0000" stroke="none" stroke-width="0" />
<circle cx="532.13" cy="492.50" r="1.50" fill="#FF0000" stroke="none" stroke-width="0" />
<circle cx="533.44" cy="486.64" r="1.50" fill="#FF0000" stroke="none" stroke-width="0" />
<circle cx="544.30" cy="493.67" r="1.50" fill="#FF0000" stroke="none" stroke-width="0" />
<circle cx="570.55" cy="503.57" r="1.50" fill="#FF0000" stroke="none" stroke-width="0" />
<circle cx="566.10" cy="505.51" r="1.50" fill="#FF0000" stroke="none" stroke-width="0" />
<circle cx="569.15" cy="502.57" r="1.50" fill="#FF0000" stroke="none" stroke-width="0" />
<circle cx="542.59" cy="487.83" r="1.50" fill="#FF0000" stroke="none" stroke-width="0" />
<circle cx="567.37" cy="505.57" r="1.50" fill="#FF0000" stroke="none" stroke-width="0" />
<circle cx="570.13" cy="502.38" r="1.50" fill="#FF0000" stroke="none" stroke-width="0" />
<circle cx="536.47" cy="491.36" r="1.50" fill="#FF0000" stroke="none" stroke-width="0" />
<circle cx="563.59" cy="508.90" r="1.50" fill="#FF0000" stroke="none" stroke-width="0" />
<circle cx="556.79" cy="505.77" r="1.50" fill="#FF0000" stroke="none" stroke-width="0" />
<circle cx="563.06" cy="508.98" r="1.50" fill="#FF0000" stroke="none" stroke-width="0" />
<circle cx="568.35" cy="503.62" r="1.50" fill="#FF0000" stroke="none" stroke-width="0" />
<circle cx="559.47" cy="508.10" r="1.50" fill="#FF0000" stroke="none" stroke-width="0" />
<circle cx="539.57" cy="486.62" r="1.50" fill="#FF0000" stroke="none" stroke-width="0" />
<circle cx="590.49" cy="506.07" r="1.50" fill="#FF0000" stroke="none" stroke-width="0" />
<circle cx="547.98" cy="493.21" r="1.50" fill="#FF0000" stroke="none" stroke-width="0" />
<circle cx="554.20" cy="503.67" r="1.50" fill="#FF0000" stroke="none" stroke-width="0" />
<circle cx="556.89" cy="507.04" r="1.50" fill="#FF0000" stroke="none" stroke-width="0" />
<circle cx="532.43" cy="489.17" r="1.50" fill="#FF0000" stroke="none" stroke-width="0" />
<circle cx="589.94" cy="504.85" r="1.50" fill="#FF0000" stroke="none" stroke-width="0" />
<circle cx="572.28" cy="502.16" r="1.50" fill="#FF0000" stroke="none" stroke-width="0" />
<circle cx="526.23" cy="491.47" r="1.50" fill="#FF0000" stroke="none" stroke-width="0" />
<circle cx="529.04" cy="489.91" r="1.50" fill="#FF0000" stroke="none" stroke-width="0" />
<circle cx="576.63" cy="501.76" r="1.50" fill="#FF0000" stroke="none" stroke-width="0" />
<circle cx="576.51" cy="499.66" r="1.50" fill="#FF0000" stroke="none" stroke-width="0" />
<circle cx="546.37" cy="491.16" r="1.50" fill="#FF0000" stroke="none" stroke-width="0" />
<circle cx="543.29" cy="488.64" r="1.50" fill="#FF0000" stroke="none" stroke-width="0" />
<circle cx="535.31" cy="485.72" r="1.50" fill="#FF0000" stroke="none" stroke-width="0" />
<circle cx="575.26" cy="500.06" r="1.50" fill="#FF0000" stroke="none" stroke-width="0" />
<circle cx="533.77" cy="484.94" r="1.50" fill="#FF0000" stroke="none" stroke-width="0" />
<circle cx="558.72" cy="506.45" r="1.50" fill="#FF0000" stroke="none" stroke-width="0" />
<circle cx="593.09" cy="509.58" r="1.50" fill="#FF0000" stroke="none" stroke-width="0" />
<circle cx="556.55" cy="505.84" r="1.50" fill="#FF0000" stroke="none" stroke-width="0" />
<circle cx="558.25" cy="507.23" r="1.50" fill="#FF0000" stroke="none" stroke-width="0" />
<circle cx="572.69" cy="391.60" r="1.50" fill="#FF0000" stroke="none" stroke-width="0" />
<circle cx="580.31" cy="423.18" r="1.50" fill="#FF0000" stroke="none" stroke-width="0" />
<circle cx="577.26" cy="450.82" r="1.50" fill="#FF0000" stroke="none" stroke-width="0" />
<circle cx="590.47" cy="446.21" r="1.50" fill="#FF0000" stroke="none" stroke-width="0" />
<circle cx="584.12" cy="470.56" r="1.50" fill="#FF0000" stroke="none" stroke-width="0" />
<circle cx="582.60" cy="477.14" r="1.50" fill="#FF0000" stroke="none" stroke-width="0" />
<circle cx="587.42" cy="477.14" r="1.50" fill="#FF0000" stroke="none" stroke-width="0" />
<circle cx="583.10" cy="479.11" r="1.50" fill="#FF0000" stroke="none" stroke-width="0" />
<circle cx="585.14" cy="477.79" r="1.50" fill="#FF0000" stroke="none" stroke-width="0" />
<circle cx="576.50" cy="479.11" r="1.50" fill="#FF0000" stroke="none" stroke-width="0" />
<circle cx="570.15" cy="479.11" r="1.50" fill="#FF0000" stroke="none" stroke-width="0" />
<circle cx="551.10" cy="477.79" r="1.50" fill="#FF0000" stroke="none" stroke-width="0" />
<circle cx="538.40" cy="480.43" r="1.50" fill="#FF0000" stroke="none" stroke-width="0" />
<circle cx="539.42" cy="485.03" r="1.50" fill="#FF0000" stroke="none" stroke-width="0" />
<circle cx="608.25" cy="486.35" r="1.50" fill="#FF0000" stroke="none" stroke-width="0" />
<circle cx="606.98" cy="488.98" r="1.50" fill="#FF0000" stroke="none" stroke-width="0" />
<circle cx="606.47" cy="492.93" r="1.50" fill="#FF0000" stroke="none" stroke-width="0" />
<circle cx="604.44" cy="495.56" r="1.50" fill="#FF0000" stroke="none" stroke-width="0" />
<circle cx="601.90" cy="500.82" r="1.50" fill="#FF0000" stroke="none" stroke-width="0" />
<circle cx="598.85" cy="503.46" r="1.50" fill="#FF0000" stroke="none" stroke-width="0" />
<circle cx="637.46" cy="507.40" r="1.50" fill="#FF0000" stroke="none" stroke-width="0" />
<circle cx="624.76" cy="508.72" r="1.50" fill="#FF0000" stroke="none" stroke-width="0" />
<circle cx="610.79" cy="499.51" r="1.50" fill="#FF0000" stroke="none" stroke-width="0" />
<circle cx="594.28" cy="506.09" r="1.50" fill="#FF0000" stroke="none" stroke-width="0" />
<circle cx="599.36" cy="510.04" r="1.50" fill="#FF0000" stroke="none" stroke-width="0" />
<circle cx="526.21" cy="496.88" r="1.50" fill="#FF0000" stroke="none" stroke-width="0" />
<circle cx="524.43" cy="498.85" r="1.50" fill="#FF0000" stroke="none" stroke-width="0" />
<circle cx="557.84" cy="515.02" r="1.40" fill="#C4C4C4" stroke="none" stroke-width="0" />
<circle cx="581.02" cy="514.01" r="1.40" fill="#C4C4C4" stroke="none" stroke-width="0" />
<circle cx="569.39" cy="513.86" r="1.40" fill="#C4C4C4" stroke="none" stroke-width="0" />
<circle cx="573.96" cy="514.86" r="1.40" fill="#C4C4C4" stroke="none" stroke-width="0" />
<circle cx="577.70" cy="514.29" r="1.40" fill="#C4C4C4" stroke="none" stroke-width="0" />
<circle cx="579.01" cy="513.87" r="1.40" fill="#C4C4C4" stroke="none" stroke-width="0" />
<circle cx="563.60" cy="515.05" r="1.40" fill="#C4C4C4" stroke="none" stroke-width="0" />
<circle cx="572.89" cy="514.82" r="1.40" fill="#C4C4C4" stroke="none" stroke-width="0" />
<circle cx="573.16" cy="514.12" r="1.40" fill="#C4C4C4" stroke="none" stroke-width="0" />
<circle cx="562.80" cy="514.45" r="1.40" fill="#C4C4C4" stroke="none" stroke-width="0" />
<circle cx="581.88" cy="514.13" r="1.40" fill="#C4C4C4" stroke="none" stroke-width="0" />
<circle cx="556.59" cy="514.82" r="1.40" fill="#C4C4C4" stroke="none" stroke-width="0" />
<circle cx="566.98" cy="514.43" r="1.40" fill="#C4C4C4" stroke="none" stroke-width="0" />
<circle cx="568.46" cy="514.79" r="1.40" fill="#C4C4C4" stroke="none" stroke-width="0" />
<circle cx="567.15" cy="514.39" r="1.40" fill="#C4C4C4" stroke="none" stroke-width="0" />
<circle cx="555.80" cy="514.64" r="1.40" fill="#C4C4C4" stroke="none" stroke-width="0" />
<circle cx="583.87" cy="514.42" r="1.40" fill="#C4C4C4" stroke="none" stroke-width="0" />
<circle cx="578.14" cy="514.16" r="1.40" fill="#C4C4C4" stroke="none" stroke-width="0" />
<circle cx="583.48" cy="515.19" r="1.40" fill="#C4C4C4" stroke="none" stroke-width="0" />
<circle cx="555.90" cy="515.06" r="1.40" fill="#C4C4C4" stroke="none" stroke-width="0" />
<circle cx="563.75" cy="515.22" r="1.40" fill="#C4C4C4" stroke="none" stroke-width="0" />
<circle cx="574.28" cy="514.19" r="1.40" fill="#C4C4C4" stroke="none" stroke-width="0" />
<circle cx="579.09" cy="514.63" r="1.40" fill="#C4C4C4" stroke="none" stroke-width="0" />
<circle cx="567.90" cy="514.90" r="1.40" fill="#C4C4C4" stroke="none" stroke-width="0" />
<circle cx="585.25" cy="514.13" r="1.40" fill="#C4C4C4" stroke="none" stroke-width="0" />
<circle cx="580.74" cy="514.55" r="1.40" fill="#C4C4C4" stroke="none" stroke-width="0" />
<circle cx="556.08" cy="515.15" r="1.40" fill="#C4C4C4" stroke="none" stroke-width="0" />
<circle cx="556.44" cy="513.93" r="1.40" fill="#C4C4C4" stroke="none" stroke-width="0" />
<circle cx="556.86" cy="514.53" r="1.40" fill="#C4C4C4" stroke="none" stroke-width="0" />
<circle cx="576.89" cy="514.11" r="1.40" fill="#C4C4C4" stroke="none" stroke-width="0" />
<circle cx="570.94" cy="514.36" r="1.40" fill="#C4C4C4" stroke="none" stroke-width="0" />
<circle cx="566.71" cy="514.09" r="1.40" fill="#C4C4C4" stroke="none" stroke-width="0" />
<circle cx="556.88" cy="515.05" r="1.40" fill="#C4C4C4" stroke="none" stroke-width="0" />
<circle cx="564.12" cy="514.41" r="1.40" fill="#C4C4C4" stroke="none" stroke-width="0" />
<circle cx="564.19" cy="515.18" r="1.40" fill="#C4C4C4" stroke="none" stroke-width="0" />
<circle cx="582.23" cy="515.16" r="1.40" fill="#C4C4C4" stroke="none" stroke-width="0" />
<circle cx="561.71" cy="513.96" r="1.40" fill="#C4C4C4" stroke="none" stroke-width="0" />
<circle cx="578.12" cy="514.40" r="1.40" fill="#C4C4C4" stroke="none" stroke-width="0" />
<circle cx="577.06" cy="514.87" r="1.40" fill="#C4C4C4" stroke="none" stroke-width="0" />
<circle cx="576.77" cy="514.79" r="1.40" fill="#C4C4C4" stroke="none" stroke-width="0" />
<circle cx="566.19" cy="514.39" r="1.40" fill="#C4C4C4" stroke="none" stroke-width="0" />
<circle cx="569.16" cy="513.98" r="1.40" fill="#C4C4C4" stroke="none" stroke-width="0" />
<circle cx="562.81" cy="514.97" r="1.40" fill="#C4C4C4" stroke="none" stroke-width="0" />
<circle cx="577.82" cy="515.24" r="1.40" fill="#C4C4C4" stroke="none" stroke-width="0" />
<circle cx="559.67" cy="514.21" r="1.40" fill="#C4C4C4" stroke="none" stroke-width="0" />
<circle cx="554.72" cy="515.15" r="1.40" fill="#C4C4C4" stroke="none" stroke-width="0" />
<circle cx="577.01" cy="514.74" r="1.40" fill="#C4C4C4" stroke="none" stroke-width="0" />
<circle cx="554.91" cy="515.09" r="1.40" fill="#C4C4C4" stroke="none" stroke-width="0" />
<circle cx="577.65" cy="514.78" r="1.40" fill="#C4C4C4" stroke="none" stroke-width="0" />
<circle cx="574.75" cy="514.00" r="1.40" fill="#C4C4C4" stroke="none" stroke-width="0" />
<circle cx="586.43" cy="514.25" r="1.40" fill="#C4C4C4" stroke="none" stroke-width="0" />
<circle cx="565.51" cy="514.35" r="1.40" fill="#C4C4C4" stroke="none" stroke-width="0" />
<circle cx="584.17" cy="514.08" r="1.40" fill="#C4C4C4" stroke="none" stroke-width="0" />
<circle cx="569.66" cy="513.96" r="1.40" fill="#C4C4C4" stroke="none" stroke-width="0" />
<circle cx="583.37" cy="514.71" r="1.40" fill="#C4C4C4" stroke="none" stroke-width="0" />
<circle cx="571.26" cy="514.70" r="1.40" fill="#C4C4C4" stroke="none" stroke-width="0" />
<circle cx="560.01" cy="513.97" r="1.40" fill="#C4C4C4" stroke="none" stroke-width="0" />
<circle cx="582.59" cy="515.13" r="1.40" fill="#C4C4C4" stroke="none" stroke-width="0" />
<circle cx="559.88" cy="514.14" r="1.40" fill="#C4C4C4" stroke="none" stroke-width="0" />
<circle cx="555.01" cy="514.91" r="1.40" fill="#C4C4C4" stroke="none" stroke-width="0" />
<circle cx="571.32" cy="514.38" r="1.40" fill="#C4C4C4" stroke="none" stroke-width="0" />
<circle cx="582.08" cy="514.90" r="1.40" fill="#C4C4C4" stroke="none" stroke-width="0" />
<circle cx="563.24" cy="515.09" r="1.40" fill="#C4C4C4" stroke="none" stroke-width="0" />
<circle cx="562.92" cy="514.28" r="1.40" fill="#C4C4C4" stroke="none" stroke-width="0" />
<circle cx="566.01" cy="514.42" r="1.40" fill="#C4C4C4" stroke="none" stroke-width="0" />
<circle cx="575.69" cy="514.43" r="1.40" fill="#C4C4C4" stroke="none" stroke-width="0" />
<circle cx="567.22" cy="514.58" r="1.40" fill="#C4C4C4" stroke="none" stroke-width="0" />
<circle cx="582.11" cy="514.79" r="1.40" fill="#C4C4C4" stroke="none" stroke-width="0" />
<circle cx="560.14" cy="514.98" r="1.40" fill="#C4C4C4" stroke="none" stroke-width="0" />
<circle cx="563.21" cy="515.07" r="1.40" fill="#C4C4C4" stroke="none" stroke-width="0" />
<circle cx="586.06" cy="515.10" r="1.40" fill="#C4C4C4" stroke="none" stroke-width="0" />
<circle cx="579.48" cy="514.46" r="1.40" fill="#C4C4C4" stroke="none" stroke-width="0" />
<circle cx="586.57" cy="514.91" r="1.40" fill="#C4C4C4" stroke="none" stroke-width="0" />
<circle cx="582.63" cy="515.12" r="1.40" fill="#C4C4C4" stroke="none" stroke-width="0" />
<circle cx="562.10" cy="514.63" r="1.40" fill="#C4C4C4" stroke="none" stroke-width="0" />
<circle cx="581.99" cy="514.40" r="1.40" fill="#C4C4C4" stroke="none" stroke-width="0" />
<circle cx="579.30" cy="514.58" r="1.40" fill="#C4C4C4" stroke="none" stroke-width="0" />
<circle cx="555.63" cy="515.12" r="1.40" fill="#C4C4C4" stroke="none" stroke-width="0" />
<circle cx="563.49" cy="515.10" r="1.40" fill="#C4C4C4" stroke="none" stroke-width="0" />
<circle cx="585.06" cy="514.53" r="1.40" fill="#C4C4C4" stroke="none" stroke-width="0" />
<circle cx="582.18" cy="513.87" r="1.40" fill="#C4C4C4" stroke="none" stroke-width="0" />
<circle cx="584.62" cy="515.15" r="1.40" fill="#C4C4C4" stroke="none" stroke-width="0" />
<circle cx="554.77" cy="514.28" r="1.40" fill="#C4C4C4" stroke="none" stroke-width="0" />
<circle cx="565.00" cy="514.61" r="1.40" fill="#C4C4C4" stroke="none" stroke-width="0" />
<circle cx="582.41" cy="514.37" r="1.40" fill="#C4C4C4" stroke="none" stroke-width="0" />
<circle cx="580.08" cy="514.23" r="1.40" fill="#C4C4C4" stroke="none" stroke-width="0" />
<circle cx="569.09" cy="514.80" r="1.40" fill="#C4C4C4" stroke="none" stroke-width="0" />
<circle cx="575.35" cy="513.98" r="1.40" fill="#C4C4C4" stroke="none" stroke-width="0" />
<circle cx="581.83" cy="514.08" r="1.40" fill="#C4C4C4" stroke="none" stroke-width="0" />
<circle cx="562.35" cy="515.02" r="1.40" fill="#C4C4C4" stroke="none" stroke-width="0" />
<circle cx="576.61" cy="514.58" r="1.40" fill="#C4C4C4" stroke="none" stroke-width="0" />
<circle cx="585.86" cy="515.05" r="1.40" fill="#C4C4C4" stroke="none" stroke-width="0" />
<circle cx="585.81" cy="513.93" r="1.40" fill="#C4C4C4" stroke="none" stroke-width="0" />
<circle cx="554.03" cy="515.03" r="1.40" fill="#C4C4C4" stroke="none" stroke-width="0" />
<circle cx="578.62" cy="514.48" r="1.40" fill="#C4C4C4" stroke="none" stroke-width="0" />
<circle cx="559.54" cy="514.08" r="1.40" fill="#C4C4C4" stroke="none" stroke-width="0" />
<circle cx="579.40" cy="514.56" r="1.40" fill="#C4C4C4" stroke="none" stroke-width="0" />
<circle cx="566.92" cy="514.00" r="1.40" fill="#C4C4C4" stroke="none" stroke-width="0" />
<circle cx="564.14" cy="514.39" r="1.40" fill="#C4C4C4" stroke="none" stroke-width="0" />
<circle cx="573.33" cy="515.07" r="1.40" fill="#C4C4C4" stroke="none" stroke-width="0" />
<circle cx="577.49" cy="514.88" r="1.40" fill="#C4C4C4" stroke="none" stroke-width="0" />
<circle cx="567.14" cy="514.94" r="1.40" fill="#C4C4C4" stroke="none" stroke-width="0" />
<circle cx="560.49" cy="514.26" r="1.40" fill="#C4C4C4" stroke="none" stroke-width="0" />
<circle cx="556.06" cy="514.45" r="1.40" fill="#C4C4C4" stroke="none" stroke-width="0" />
<circle cx="575.71" cy="514.19" r="1.40" fill="#C4C4C4" stroke="none" stroke-width="0" />
<circle cx="562.74" cy="515.22" r="1.40" fill="#C4C4C4" stroke="none" stroke-width="0" />
<circle cx="573.46" cy="515.23" r="1.40" fill="#C4C4C4" stroke="none" stroke-width="0" />
<circle cx="583.93" cy="515.30" r="1.40" fill="#C4C4C4" stroke="none" stroke-width="0" />
<circle cx="580.79" cy="514.61" r="1.40" fill="#C4C4C4" stroke="none" stroke-width="0" />
<circle cx="567.82" cy="514.78" r="1.40" fill="#C4C4C4" stroke="none" stroke-width="0" />
<circle cx="573.40" cy="505.40" r="1.50" fill="#0000FF" stroke="none" stroke-width="0" />
<circle cx="575.20" cy="511.40" r="1.50" fill="#0000FF" stroke="none" stroke-width="0" />
<text x="561.40" y="493.50" font-size="9.5" text-anchor="start" font-weight="normal" fill="#0000FF" >Il10</text>
<text x="601.20" y="510.20" font-size="9.5" text-anchor="start" font-weight="normal" fill="#0000FF" >Tnfsf9</text>
</svg></body></html>
